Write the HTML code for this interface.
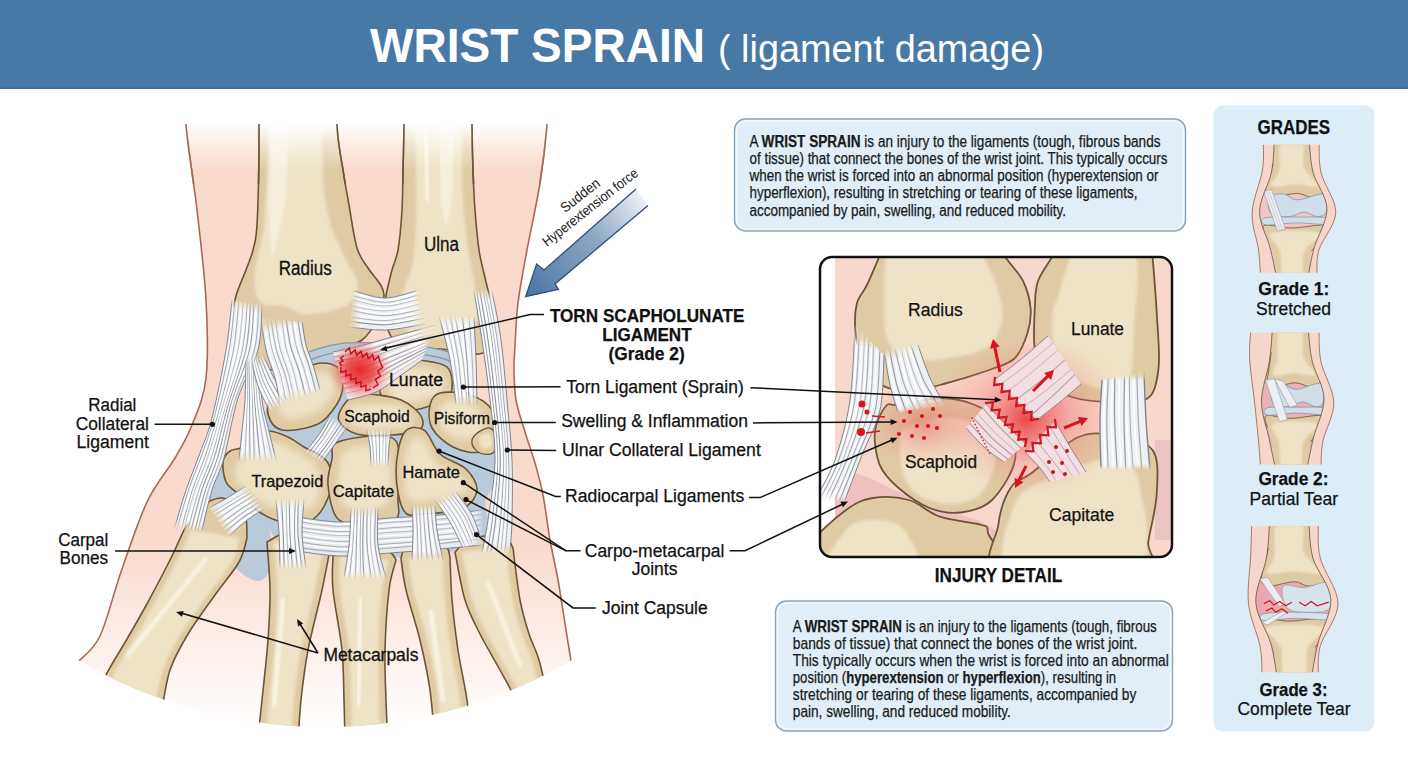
<!DOCTYPE html>
<html><head><meta charset="utf-8"><style>
html,body{margin:0;padding:0;background:#fff;width:1408px;height:768px;overflow:hidden}
svg{display:block;font-family:"Liberation Sans", sans-serif}
</style></head><body>
<svg width="1408" height="768" viewBox="0 0 1408 768">

<defs>
<filter id="blur1" x="-20%" y="-20%" width="140%" height="140%"><feGaussianBlur stdDeviation="1.2"/></filter>
<filter id="blur15" x="-20%" y="-20%" width="140%" height="140%"><feGaussianBlur stdDeviation="1.8"/></filter>
<filter id="blurM" x="-40%" y="-40%" width="180%" height="180%"><feGaussianBlur stdDeviation="3.2"/></filter>
<filter id="blur2" x="-20%" y="-20%" width="140%" height="140%"><feGaussianBlur stdDeviation="3"/></filter>
<filter id="blur6" x="-50%" y="-50%" width="200%" height="200%"><feGaussianBlur stdDeviation="6"/></filter>
<linearGradient id="skinGrad" x1="0" y1="0" x2="0" y2="1" gradientUnits="objectBoundingBox">
<stop offset="0" stop-color="#f9dacd"/><stop offset="0.72" stop-color="#f9dacd"/><stop offset="1" stop-color="#ffffff"/>
</linearGradient>
<linearGradient id="topFade" x1="0" y1="0" x2="0" y2="1">
<stop offset="0" stop-color="#fff" stop-opacity="1"/><stop offset="0.42" stop-color="#fff" stop-opacity="1"/><stop offset="0.47" stop-color="#fff" stop-opacity="0.9"/><stop offset="0.7" stop-color="#fff" stop-opacity="0.45"/><stop offset="1" stop-color="#fff" stop-opacity="0"/>
</linearGradient>
<radialGradient id="redGlow"><stop offset="0" stop-color="#e82a2e" stop-opacity="1"/><stop offset="0.45" stop-color="#ec4040" stop-opacity="0.85"/><stop offset="1" stop-color="#f08080" stop-opacity="0"/></radialGradient>
<linearGradient id="forceGrad" x1="525" y1="297" x2="645" y2="195" gradientUnits="userSpaceOnUse"><stop offset="0" stop-color="#4a74a3"/><stop offset="0.6" stop-color="#8fa9c6"/><stop offset="1" stop-color="#f2f5f8"/></linearGradient>
<clipPath id="arcClip"><path d="M0,89 H704 V768 H0 Z M79,661 A491,491 0 0 0 571,661"/></clipPath>
</defs>

<defs><clipPath id="circClip"><circle cx="325" cy="236" r="491"/></clipPath></defs>
<g clip-path="url(#circClip)"><path d="M184.0,60.0 C184.3,70.8 183.8,100.0 186.0,125.0 C188.2,150.0 193.7,180.8 197.0,210.0 C200.3,239.2 204.5,272.0 206.0,300.0 C207.5,328.0 208.3,357.2 206.0,378.0 C203.7,398.8 197.2,411.7 192.0,425.0 C186.8,438.3 182.5,445.2 175.0,458.0 C167.5,470.8 156.0,483.0 147.0,502.0 C138.0,521.0 128.8,549.7 121.0,572.0 C113.2,594.3 107.0,621.2 100.0,636.0 C93.0,650.8 82.5,656.8 79.0,661.0 A491,491 0 0 0 571,661 L571.0,661.0 C570.2,655.8 568.2,643.5 566.0,630.0 C563.8,616.5 560.7,595.0 558.0,580.0 C555.3,565.0 552.5,554.2 550.0,540.0 C547.5,525.8 545.5,507.8 543.0,495.0 C540.5,482.2 538.0,473.5 535.0,463.0 C532.0,452.5 528.2,442.5 525.0,432.0 C521.8,421.5 517.8,410.3 516.0,400.0 C514.2,389.7 514.2,379.0 514.0,370.0 C513.8,361.0 514.3,357.2 515.0,346.0 C515.7,334.8 516.0,319.0 518.0,303.0 C520.0,287.0 523.3,270.0 527.0,250.0 C530.7,230.0 536.7,203.8 540.0,183.0 C543.3,162.2 545.3,145.5 547.0,125.0 C548.7,104.5 549.5,70.8 550.0,60.0Z" fill="url(#skinGrad)"/>
<path d="M184.0,60.0 C184.3,70.8 183.8,100.0 186.0,125.0 C188.2,150.0 193.7,180.8 197.0,210.0 C200.3,239.2 204.5,272.0 206.0,300.0 C207.5,328.0 208.3,357.2 206.0,378.0 C203.7,398.8 197.2,411.7 192.0,425.0 C186.8,438.3 182.5,445.2 175.0,458.0 C167.5,470.8 156.0,483.0 147.0,502.0 C138.0,521.0 128.8,549.7 121.0,572.0 C113.2,594.3 107.0,621.2 100.0,636.0 C93.0,650.8 82.5,656.8 79.0,661.0" fill="none" stroke="#a86a55" stroke-width="1.6"/>
<path d="M571.0,661.0 C570.2,655.8 568.2,643.5 566.0,630.0 C563.8,616.5 560.7,595.0 558.0,580.0 C555.3,565.0 552.5,554.2 550.0,540.0 C547.5,525.8 545.5,507.8 543.0,495.0 C540.5,482.2 538.0,473.5 535.0,463.0 C532.0,452.5 528.2,442.5 525.0,432.0 C521.8,421.5 517.8,410.3 516.0,400.0 C514.2,389.7 514.2,379.0 514.0,370.0 C513.8,361.0 514.3,357.2 515.0,346.0 C515.7,334.8 516.0,319.0 518.0,303.0 C520.0,287.0 523.3,270.0 527.0,250.0 C530.7,230.0 536.7,203.8 540.0,183.0 C543.3,162.2 545.3,145.5 547.0,125.0 C548.7,104.5 549.5,70.8 550.0,60.0" fill="none" stroke="#a86a55" stroke-width="1.6"/>
<path d="M259.0,40.0 C271.8,21.7 323.0,25.8 336.0,40.0 C349.0,54.2 335.8,103.3 337.0,125.0 C338.2,146.7 341.0,156.7 343.0,170.0 C345.0,183.3 346.7,192.0 349.0,205.0 C351.3,218.0 353.8,237.5 357.0,248.0 C360.2,258.5 364.2,262.0 368.0,268.0 C371.8,274.0 377.3,279.3 380.0,284.0 C382.7,288.7 384.3,290.3 384.0,296.0 C383.7,301.7 381.7,310.7 378.0,318.0 C374.3,325.3 369.0,334.8 362.0,340.0 C355.0,345.2 345.2,346.3 336.0,349.0 C326.8,351.7 315.3,352.8 307.0,356.0 C298.7,359.2 294.2,366.0 286.0,368.0 C277.8,370.0 265.7,370.7 258.0,368.0 C250.3,365.3 244.3,359.7 240.0,352.0 C235.7,344.3 232.7,331.3 232.0,322.0 C231.3,312.7 233.7,304.7 236.0,296.0 C238.3,287.3 243.2,277.7 246.0,270.0 C248.8,262.3 251.2,257.5 253.0,250.0 C254.8,242.5 256.0,241.7 257.0,225.0 C258.0,208.3 258.7,180.8 259.0,150.0 C259.3,119.2 246.2,58.3 259.0,40.0Z" fill="#dfcba3"/><path d="M269.0,40.0 C277.7,21.7 311.2,21.7 320.0,40.0 C328.8,58.3 320.7,120.8 322.0,150.0 C323.3,179.2 324.2,197.0 328.0,215.0 C331.8,233.0 340.0,246.5 345.0,258.0 C350.0,269.5 357.8,276.0 358.0,284.0 C358.2,292.0 354.7,301.0 346.0,306.0 C337.3,311.0 316.2,314.0 306.0,314.0 C295.8,314.0 292.7,308.0 285.0,306.0 C277.3,304.0 265.0,307.7 260.0,302.0 C255.0,296.3 254.3,284.8 255.0,272.0 C255.7,259.2 261.8,245.3 264.0,225.0 C266.2,204.7 267.2,180.8 268.0,150.0 C268.8,119.2 260.3,58.3 269.0,40.0Z" fill="#eee3c6" filter="url(#blur15)"/><path d="M259.0,40.0 C271.8,21.7 323.0,25.8 336.0,40.0 C349.0,54.2 335.8,103.3 337.0,125.0 C338.2,146.7 341.0,156.7 343.0,170.0 C345.0,183.3 346.7,192.0 349.0,205.0 C351.3,218.0 353.8,237.5 357.0,248.0 C360.2,258.5 364.2,262.0 368.0,268.0 C371.8,274.0 377.3,279.3 380.0,284.0 C382.7,288.7 384.3,290.3 384.0,296.0 C383.7,301.7 381.7,310.7 378.0,318.0 C374.3,325.3 369.0,334.8 362.0,340.0 C355.0,345.2 345.2,346.3 336.0,349.0 C326.8,351.7 315.3,352.8 307.0,356.0 C298.7,359.2 294.2,366.0 286.0,368.0 C277.8,370.0 265.7,370.7 258.0,368.0 C250.3,365.3 244.3,359.7 240.0,352.0 C235.7,344.3 232.7,331.3 232.0,322.0 C231.3,312.7 233.7,304.7 236.0,296.0 C238.3,287.3 243.2,277.7 246.0,270.0 C248.8,262.3 251.2,257.5 253.0,250.0 C254.8,242.5 256.0,241.7 257.0,225.0 C258.0,208.3 258.7,180.8 259.0,150.0 C259.3,119.2 246.2,58.3 259.0,40.0Z" fill="none" stroke="#6b5536" stroke-width="1.6"/>
<path d="M276,40 L292,40 L286,200 L272,262 L268,200 Z" fill="#f6f0e0" filter="url(#blur1)" opacity="0.9"/>
<path d="M404.0,40.0 C415.3,25.8 460.7,25.8 472.0,40.0 C483.3,54.2 471.8,103.3 472.0,125.0 C472.2,146.7 472.5,155.8 473.0,170.0 C473.5,184.2 474.0,196.7 475.0,210.0 C476.0,223.3 477.2,238.0 479.0,250.0 C480.8,262.0 483.8,272.0 486.0,282.0 C488.2,292.0 491.5,300.0 492.0,310.0 C492.5,320.0 491.2,334.7 489.0,342.0 C486.8,349.3 487.2,352.8 479.0,354.0 C470.8,355.2 452.2,349.8 440.0,349.0 C427.8,348.2 414.0,350.8 406.0,349.0 C398.0,347.2 395.5,343.2 392.0,338.0 C388.5,332.8 386.0,325.0 385.0,318.0 C384.0,311.0 384.8,304.0 386.0,296.0 C387.2,288.0 390.0,277.7 392.0,270.0 C394.0,262.3 396.3,260.0 398.0,250.0 C399.7,240.0 401.2,223.3 402.0,210.0 C402.8,196.7 402.7,184.2 403.0,170.0 C403.3,155.8 403.8,146.7 404.0,125.0 C404.2,103.3 392.7,54.2 404.0,40.0Z" fill="#dfcba3"/><path d="M416.0,40.0 C423.5,20.0 453.3,20.0 461.0,40.0 C468.7,60.0 461.3,129.2 462.0,160.0 C462.7,190.8 463.0,204.7 465.0,225.0 C467.0,245.3 471.8,267.5 474.0,282.0 C476.2,296.5 479.0,303.5 478.0,312.0 C477.0,320.5 474.3,328.7 468.0,333.0 C461.7,337.3 449.3,337.8 440.0,338.0 C430.7,338.2 418.7,337.7 412.0,334.0 C405.3,330.3 401.3,323.3 400.0,316.0 C398.7,308.7 401.8,299.0 404.0,290.0 C406.2,281.0 411.0,272.8 413.0,262.0 C415.0,251.2 415.5,242.0 416.0,225.0 C416.5,208.0 416.0,190.8 416.0,160.0 C416.0,129.2 408.5,60.0 416.0,40.0Z" fill="#eee3c6" filter="url(#blur15)"/><path d="M404.0,40.0 C415.3,25.8 460.7,25.8 472.0,40.0 C483.3,54.2 471.8,103.3 472.0,125.0 C472.2,146.7 472.5,155.8 473.0,170.0 C473.5,184.2 474.0,196.7 475.0,210.0 C476.0,223.3 477.2,238.0 479.0,250.0 C480.8,262.0 483.8,272.0 486.0,282.0 C488.2,292.0 491.5,300.0 492.0,310.0 C492.5,320.0 491.2,334.7 489.0,342.0 C486.8,349.3 487.2,352.8 479.0,354.0 C470.8,355.2 452.2,349.8 440.0,349.0 C427.8,348.2 414.0,350.8 406.0,349.0 C398.0,347.2 395.5,343.2 392.0,338.0 C388.5,332.8 386.0,325.0 385.0,318.0 C384.0,311.0 384.8,304.0 386.0,296.0 C387.2,288.0 390.0,277.7 392.0,270.0 C394.0,262.3 396.3,260.0 398.0,250.0 C399.7,240.0 401.2,223.3 402.0,210.0 C402.8,196.7 402.7,184.2 403.0,170.0 C403.3,155.8 403.8,146.7 404.0,125.0 C404.2,103.3 392.7,54.2 404.0,40.0Z" fill="none" stroke="#6b5536" stroke-width="1.6"/>
<path d="M440,40 L457,40 L452,200 L446,228 L440,200 Z" fill="#f6f0e0" filter="url(#blur1)" opacity="0.9"/>
<path d="M292.0,364.0 C304.8,354.7 327.0,350.3 345.0,348.0 C363.0,345.7 381.7,348.0 400.0,350.0 C418.3,352.0 443.0,354.3 455.0,360.0 C467.0,365.7 465.2,370.7 472.0,384.0 C478.8,397.3 491.3,424.7 496.0,440.0 C500.7,455.3 501.7,466.0 500.0,476.0 C498.3,486.0 489.0,489.3 486.0,500.0 C483.0,510.7 493.0,530.7 482.0,540.0 C471.0,549.3 443.7,553.3 420.0,556.0 C396.3,558.7 361.3,556.0 340.0,556.0 C318.7,556.0 304.7,562.0 292.0,556.0 C279.3,550.0 270.7,530.7 264.0,520.0 C257.3,509.3 252.3,504.7 252.0,492.0 C251.7,479.3 259.3,458.7 262.0,444.0 C264.7,429.3 263.0,417.3 268.0,404.0 C273.0,390.7 279.2,373.3 292.0,364.0Z" fill="#b9cadb"/>
<path d="M288.0,368.0 C292.0,365.8 302.5,358.5 312.0,355.0 C321.5,351.5 333.7,348.3 345.0,347.0 C356.3,345.7 367.5,346.5 380.0,347.0 C392.5,347.5 408.3,348.3 420.0,350.0 C431.7,351.7 442.7,353.0 450.0,357.0 C457.3,361.0 462.0,367.2 464.0,374.0 C466.0,380.8 462.3,394.0 462.0,398.0" fill="none" stroke="#8796aa" stroke-width="9"/>
<path d="M288.0,368.0 C292.0,365.8 302.5,358.5 312.0,355.0 C321.5,351.5 333.7,348.3 345.0,347.0 C356.3,345.7 367.5,346.5 380.0,347.0 C392.5,347.5 408.3,348.3 420.0,350.0 C431.7,351.7 442.7,353.0 450.0,357.0 C457.3,361.0 462.0,367.2 464.0,374.0 C466.0,380.8 462.3,394.0 462.0,398.0" fill="none" stroke="#b9cadb" stroke-width="6.5"/>
<path d="M262.0,412.0 C268.3,409.0 288.7,416.7 300.0,418.0 C311.3,419.3 322.5,418.3 330.0,420.0 C337.5,421.7 343.3,423.7 345.0,428.0 C346.7,432.3 347.5,444.0 340.0,446.0 C332.5,448.0 313.0,441.7 300.0,440.0 C287.0,438.3 268.3,440.7 262.0,436.0 C255.7,431.3 255.7,415.0 262.0,412.0Z" fill="#b9cadb"/>
<path d="M455.0,440.0 C459.2,436.7 472.5,442.0 480.0,445.0 C487.5,448.0 497.0,452.5 500.0,458.0 C503.0,463.5 501.7,474.7 498.0,478.0 C494.3,481.3 485.2,480.2 478.0,478.0 C470.8,475.8 458.8,471.3 455.0,465.0 C451.2,458.7 450.8,443.3 455.0,440.0Z" fill="#b9cadb"/>
<path d="M208.0,476.0 C211.7,464.3 229.0,466.0 238.0,470.0 C247.0,474.0 256.3,485.8 262.0,500.0 C267.7,514.2 272.0,541.7 272.0,555.0 C272.0,568.3 267.3,577.2 262.0,580.0 C256.7,582.8 247.7,578.7 240.0,572.0 C232.3,565.3 221.3,556.0 216.0,540.0 C210.7,524.0 204.3,487.7 208.0,476.0Z" fill="#b9cadb"/>
<path d="M290.0,512.0 C300.0,505.0 328.3,514.0 350.0,514.0 C371.7,514.0 398.7,513.5 420.0,512.0 C441.3,510.5 467.2,500.3 478.0,505.0 C488.8,509.7 494.7,531.5 485.0,540.0 C475.3,548.5 444.2,553.3 420.0,556.0 C395.8,558.7 361.7,556.0 340.0,556.0 C318.3,556.0 298.3,563.3 290.0,556.0 C281.7,548.7 280.0,519.0 290.0,512.0Z" fill="#b9cadb"/>
<path d="M440.0,420.0 C444.2,413.0 461.7,416.7 470.0,420.0 C478.3,423.3 490.0,431.7 490.0,440.0 C490.0,448.3 477.5,466.3 470.0,470.0 C462.5,473.7 450.0,470.3 445.0,462.0 C440.0,453.7 435.8,427.0 440.0,420.0Z" fill="#b9cadb"/>
<path d="M272.0,390.0 C274.8,384.3 279.5,383.7 285.0,380.0 C290.5,376.3 298.8,370.8 305.0,368.0 C311.2,365.2 316.5,363.0 322.0,363.0 C327.5,363.0 334.5,364.3 338.0,368.0 C341.5,371.7 343.2,379.0 343.0,385.0 C342.8,391.0 341.2,397.5 337.0,404.0 C332.8,410.5 327.2,419.7 318.0,424.0 C308.8,428.3 290.3,431.7 282.0,430.0 C273.7,428.3 269.7,420.7 268.0,414.0 C266.3,407.3 269.2,395.7 272.0,390.0Z" fill="#dfcba3"/><path d="M284.0,392.0 C288.3,387.3 296.7,379.0 304.0,376.0 C311.3,373.0 323.0,371.3 328.0,374.0 C333.0,376.7 336.0,385.7 334.0,392.0 C332.0,398.3 324.0,407.7 316.0,412.0 C308.0,416.3 292.3,419.3 286.0,418.0 C279.7,416.7 278.3,408.3 278.0,404.0 C277.7,399.7 279.7,396.7 284.0,392.0Z" fill="#eee3c6" filter="url(#blur2)"/><path d="M272.0,390.0 C274.8,384.3 279.5,383.7 285.0,380.0 C290.5,376.3 298.8,370.8 305.0,368.0 C311.2,365.2 316.5,363.0 322.0,363.0 C327.5,363.0 334.5,364.3 338.0,368.0 C341.5,371.7 343.2,379.0 343.0,385.0 C342.8,391.0 341.2,397.5 337.0,404.0 C332.8,410.5 327.2,419.7 318.0,424.0 C308.8,428.3 290.3,431.7 282.0,430.0 C273.7,428.3 269.7,420.7 268.0,414.0 C266.3,407.3 269.2,395.7 272.0,390.0Z" fill="none" stroke="#6b5536" stroke-width="1.6"/>
<path d="M384.0,372.0 C387.0,366.3 392.0,360.0 398.0,358.0 C404.0,356.0 411.8,358.5 420.0,360.0 C428.2,361.5 441.7,362.2 447.0,367.0 C452.3,371.8 452.7,383.5 452.0,389.0 C451.3,394.5 449.3,396.5 443.0,400.0 C436.7,403.5 422.8,409.0 414.0,410.0 C405.2,411.0 395.7,409.0 390.0,406.0 C384.3,403.0 381.0,397.7 380.0,392.0 C379.0,386.3 381.0,377.7 384.0,372.0Z" fill="#dfcba3"/><path d="M392.0,372.0 C396.7,367.0 412.0,367.7 420.0,368.0 C428.0,368.3 436.0,370.3 440.0,374.0 C444.0,377.7 448.3,385.3 444.0,390.0 C439.7,394.7 422.7,400.7 414.0,402.0 C405.3,403.3 395.7,403.0 392.0,398.0 C388.3,393.0 387.3,377.0 392.0,372.0Z" fill="#eee3c6" filter="url(#blur2)"/><path d="M384.0,372.0 C387.0,366.3 392.0,360.0 398.0,358.0 C404.0,356.0 411.8,358.5 420.0,360.0 C428.2,361.5 441.7,362.2 447.0,367.0 C452.3,371.8 452.7,383.5 452.0,389.0 C451.3,394.5 449.3,396.5 443.0,400.0 C436.7,403.5 422.8,409.0 414.0,410.0 C405.2,411.0 395.7,409.0 390.0,406.0 C384.3,403.0 381.0,397.7 380.0,392.0 C379.0,386.3 381.0,377.7 384.0,372.0Z" fill="none" stroke="#6b5536" stroke-width="1.6"/>
<path d="M346.0,402.0 C349.8,397.5 352.8,394.3 362.0,394.0 C371.2,393.7 391.0,396.0 401.0,400.0 C411.0,404.0 419.8,412.7 422.0,418.0 C424.2,423.3 424.0,429.2 414.0,432.0 C404.0,434.8 374.5,436.8 362.0,435.0 C349.5,433.2 341.7,426.5 339.0,421.0 C336.3,415.5 342.2,406.5 346.0,402.0Z" fill="#dfcba3"/><path d="M352.0,406.0 C360.3,403.8 388.0,402.7 398.0,405.0 C408.0,407.3 411.3,416.2 412.0,420.0 C412.7,423.8 410.3,426.7 402.0,428.0 C393.7,429.3 371.0,429.7 362.0,428.0 C353.0,426.3 349.7,421.7 348.0,418.0 C346.3,414.3 343.7,408.2 352.0,406.0Z" fill="#eee3c6" filter="url(#blur2)"/><path d="M346.0,402.0 C349.8,397.5 352.8,394.3 362.0,394.0 C371.2,393.7 391.0,396.0 401.0,400.0 C411.0,404.0 419.8,412.7 422.0,418.0 C424.2,423.3 424.0,429.2 414.0,432.0 C404.0,434.8 374.5,436.8 362.0,435.0 C349.5,433.2 341.7,426.5 339.0,421.0 C336.3,415.5 342.2,406.5 346.0,402.0Z" fill="none" stroke="#6b5536" stroke-width="1.6"/>
<path d="M440.0,393.0 C446.7,391.3 461.3,392.2 470.0,395.0 C478.7,397.8 487.7,403.2 492.0,410.0 C496.3,416.8 498.0,429.0 496.0,436.0 C494.0,443.0 487.2,450.2 480.0,452.0 C472.8,453.8 461.0,451.0 453.0,447.0 C445.0,443.0 435.8,435.0 432.0,428.0 C428.2,421.0 428.7,410.8 430.0,405.0 C431.3,399.2 433.3,394.7 440.0,393.0Z" fill="#dfcba3"/><path d="M444.0,402.0 C449.0,398.7 463.3,401.3 470.0,404.0 C476.7,406.7 482.0,412.7 484.0,418.0 C486.0,423.3 486.7,432.7 482.0,436.0 C477.3,439.3 463.0,440.0 456.0,438.0 C449.0,436.0 442.0,430.0 440.0,424.0 C438.0,418.0 439.0,405.3 444.0,402.0Z" fill="#eee3c6" filter="url(#blur2)"/><path d="M440.0,393.0 C446.7,391.3 461.3,392.2 470.0,395.0 C478.7,397.8 487.7,403.2 492.0,410.0 C496.3,416.8 498.0,429.0 496.0,436.0 C494.0,443.0 487.2,450.2 480.0,452.0 C472.8,453.8 461.0,451.0 453.0,447.0 C445.0,443.0 435.8,435.0 432.0,428.0 C428.2,421.0 428.7,410.8 430.0,405.0 C431.3,399.2 433.3,394.7 440.0,393.0Z" fill="none" stroke="#6b5536" stroke-width="1.6"/>
<path d="M476.0,434.0 C479.0,431.3 486.5,427.0 490.0,428.0 C493.5,429.0 496.5,435.8 497.0,440.0 C497.5,444.2 495.8,450.8 493.0,453.0 C490.2,455.2 483.5,454.5 480.0,453.0 C476.5,451.5 472.7,447.2 472.0,444.0 C471.3,440.8 473.0,436.7 476.0,434.0Z" fill="#dfcba3"/><path d="M480.0,436.0 C481.3,433.7 488.0,432.3 490.0,434.0 C492.0,435.7 493.3,443.7 492.0,446.0 C490.7,448.3 484.0,449.7 482.0,448.0 C480.0,446.3 478.7,438.3 480.0,436.0Z" fill="#eee3c6" filter="url(#blur1)"/><path d="M476.0,434.0 C479.0,431.3 486.5,427.0 490.0,428.0 C493.5,429.0 496.5,435.8 497.0,440.0 C497.5,444.2 495.8,450.8 493.0,453.0 C490.2,455.2 483.5,454.5 480.0,453.0 C476.5,451.5 472.7,447.2 472.0,444.0 C471.3,440.8 473.0,436.7 476.0,434.0Z" fill="none" stroke="#6b5536" stroke-width="1.3"/>
<path d="M223.0,462.0 C223.7,456.8 226.5,453.5 230.0,451.0 C233.5,448.5 240.0,449.5 244.0,447.0 C248.0,444.5 249.8,438.7 254.0,436.0 C258.2,433.3 263.3,430.8 269.0,431.0 C274.7,431.2 282.2,434.3 288.0,437.0 C293.8,439.7 299.0,444.2 304.0,447.0 C309.0,449.8 314.0,451.3 318.0,454.0 C322.0,456.7 325.7,458.7 328.0,463.0 C330.3,467.3 332.0,474.2 332.0,480.0 C332.0,485.8 330.5,492.0 328.0,498.0 C325.5,504.0 321.7,511.5 317.0,516.0 C312.3,520.5 305.2,523.8 300.0,525.0 C294.8,526.2 291.3,524.3 286.0,523.0 C280.7,521.7 274.3,520.2 268.0,517.0 C261.7,513.8 253.3,508.2 248.0,504.0 C242.7,499.8 239.7,495.7 236.0,492.0 C232.3,488.3 228.2,487.0 226.0,482.0 C223.8,477.0 222.3,467.2 223.0,462.0Z" fill="#dfcba3"/><path d="M236.0,466.0 C239.3,461.0 250.0,452.0 256.0,448.0 C262.0,444.0 264.3,440.8 272.0,442.0 C279.7,443.2 294.3,450.3 302.0,455.0 C309.7,459.7 315.3,462.5 318.0,470.0 C320.7,477.5 321.0,493.0 318.0,500.0 C315.0,507.0 308.0,511.0 300.0,512.0 C292.0,513.0 279.0,509.7 270.0,506.0 C261.0,502.3 251.7,494.7 246.0,490.0 C240.3,485.3 237.7,482.0 236.0,478.0 C234.3,474.0 232.7,471.0 236.0,466.0Z" fill="#eee3c6" filter="url(#blur2)"/><path d="M223.0,462.0 C223.7,456.8 226.5,453.5 230.0,451.0 C233.5,448.5 240.0,449.5 244.0,447.0 C248.0,444.5 249.8,438.7 254.0,436.0 C258.2,433.3 263.3,430.8 269.0,431.0 C274.7,431.2 282.2,434.3 288.0,437.0 C293.8,439.7 299.0,444.2 304.0,447.0 C309.0,449.8 314.0,451.3 318.0,454.0 C322.0,456.7 325.7,458.7 328.0,463.0 C330.3,467.3 332.0,474.2 332.0,480.0 C332.0,485.8 330.5,492.0 328.0,498.0 C325.5,504.0 321.7,511.5 317.0,516.0 C312.3,520.5 305.2,523.8 300.0,525.0 C294.8,526.2 291.3,524.3 286.0,523.0 C280.7,521.7 274.3,520.2 268.0,517.0 C261.7,513.8 253.3,508.2 248.0,504.0 C242.7,499.8 239.7,495.7 236.0,492.0 C232.3,488.3 228.2,487.0 226.0,482.0 C223.8,477.0 222.3,467.2 223.0,462.0Z" fill="none" stroke="#6b5536" stroke-width="1.6"/>
<path d="M336.0,443.0 C342.7,439.2 362.0,436.3 372.0,436.0 C382.0,435.7 391.5,435.3 396.0,441.0 C400.5,446.7 398.7,460.5 399.0,470.0 C399.3,479.5 398.5,489.8 398.0,498.0 C397.5,506.2 401.2,514.7 396.0,519.0 C390.8,523.3 376.7,524.0 367.0,524.0 C357.3,524.0 344.5,525.5 338.0,519.0 C331.5,512.5 329.0,495.0 328.0,485.0 C327.0,475.0 330.7,466.0 332.0,459.0 C333.3,452.0 329.3,446.8 336.0,443.0Z" fill="#dfcba3"/><path d="M344.0,452.0 C349.7,446.3 364.7,446.0 372.0,446.0 C379.3,446.0 385.0,443.3 388.0,452.0 C391.0,460.7 393.7,488.0 390.0,498.0 C386.3,508.0 373.7,510.8 366.0,512.0 C358.3,513.2 348.7,510.3 344.0,505.0 C339.3,499.7 338.0,488.8 338.0,480.0 C338.0,471.2 338.3,457.7 344.0,452.0Z" fill="#eee3c6" filter="url(#blur2)"/><path d="M336.0,443.0 C342.7,439.2 362.0,436.3 372.0,436.0 C382.0,435.7 391.5,435.3 396.0,441.0 C400.5,446.7 398.7,460.5 399.0,470.0 C399.3,479.5 398.5,489.8 398.0,498.0 C397.5,506.2 401.2,514.7 396.0,519.0 C390.8,523.3 376.7,524.0 367.0,524.0 C357.3,524.0 344.5,525.5 338.0,519.0 C331.5,512.5 329.0,495.0 328.0,485.0 C327.0,475.0 330.7,466.0 332.0,459.0 C333.3,452.0 329.3,446.8 336.0,443.0Z" fill="none" stroke="#6b5536" stroke-width="1.6"/>
<path d="M404.0,433.0 C408.7,426.0 418.0,426.5 424.0,430.0 C430.0,433.5 433.0,447.5 440.0,454.0 C447.0,460.5 459.8,463.0 466.0,469.0 C472.2,475.0 477.5,483.5 477.0,490.0 C476.5,496.5 471.8,504.0 463.0,508.0 C454.2,512.0 433.8,513.5 424.0,514.0 C414.2,514.5 408.7,518.0 404.0,511.0 C399.3,504.0 396.0,485.0 396.0,472.0 C396.0,459.0 399.3,440.0 404.0,433.0Z" fill="#dfcba3"/><path d="M410.0,442.0 C413.3,436.7 419.7,436.7 424.0,440.0 C428.3,443.3 430.0,456.0 436.0,462.0 C442.0,468.0 455.0,471.0 460.0,476.0 C465.0,481.0 472.0,487.7 466.0,492.0 C460.0,496.3 433.7,501.0 424.0,502.0 C414.3,503.0 411.3,503.0 408.0,498.0 C404.7,493.0 403.7,481.3 404.0,472.0 C404.3,462.7 406.7,447.3 410.0,442.0Z" fill="#eee3c6" filter="url(#blur2)"/><path d="M404.0,433.0 C408.7,426.0 418.0,426.5 424.0,430.0 C430.0,433.5 433.0,447.5 440.0,454.0 C447.0,460.5 459.8,463.0 466.0,469.0 C472.2,475.0 477.5,483.5 477.0,490.0 C476.5,496.5 471.8,504.0 463.0,508.0 C454.2,512.0 433.8,513.5 424.0,514.0 C414.2,514.5 408.7,518.0 404.0,511.0 C399.3,504.0 396.0,485.0 396.0,472.0 C396.0,459.0 399.3,440.0 404.0,433.0Z" fill="none" stroke="#6b5536" stroke-width="1.6"/>
<path d="M184.0,530.0 C186.7,526.3 193.7,513.3 200.0,508.0 C206.3,502.7 214.7,497.3 222.0,498.0 C229.3,498.7 239.8,505.3 244.0,512.0 C248.2,518.7 246.5,533.7 247.0,538.0 L247.0,538.0 C245.7,542.0 244.3,552.5 239.0,562.0 C233.7,571.5 223.5,583.0 215.0,595.0 C206.5,607.0 195.5,621.5 188.0,634.0 C180.5,646.5 174.3,657.3 170.0,670.0 C165.7,682.7 163.3,703.3 162.0,710.0 L92.0,705.0 C94.5,699.7 101.2,684.0 107.0,673.0 C112.8,662.0 120.2,650.8 127.0,639.0 C133.8,627.2 140.7,615.5 148.0,602.0 C155.3,588.5 165.0,570.0 171.0,558.0 C177.0,546.0 181.8,534.7 184.0,530.0Z" fill="#dfcba3"/><path d="M191.0,530.0 C188.8,534.7 184.0,546.0 178.0,558.0 C172.0,570.0 162.3,588.5 155.0,602.0 C147.7,615.5 140.8,627.2 134.0,639.0 C127.2,650.8 119.8,662.0 114.0,673.0 C108.2,684.0 101.5,699.7 99.0,705.0 L155.0,710.0 C156.3,703.3 158.7,682.7 163.0,670.0 C167.3,657.3 173.5,646.5 181.0,634.0 C188.5,621.5 199.5,607.0 208.0,595.0 C216.5,583.0 226.7,571.5 232.0,562.0 C237.3,552.5 238.7,542.0 240.0,538.0Z" fill="#eee3c6" filter="url(#blur15)"/><path d="M184.0,530.0 C186.7,526.3 193.7,513.3 200.0,508.0 C206.3,502.7 214.7,497.3 222.0,498.0 C229.3,498.7 239.8,505.3 244.0,512.0 C248.2,518.7 246.5,533.7 247.0,538.0 L247.0,538.0 C245.7,542.0 244.3,552.5 239.0,562.0 C233.7,571.5 223.5,583.0 215.0,595.0 C206.5,607.0 195.5,621.5 188.0,634.0 C180.5,646.5 174.3,657.3 170.0,670.0 C165.7,682.7 163.3,703.3 162.0,710.0 L92.0,705.0 C94.5,699.7 101.2,684.0 107.0,673.0 C112.8,662.0 120.2,650.8 127.0,639.0 C133.8,627.2 140.7,615.5 148.0,602.0 C155.3,588.5 165.0,570.0 171.0,558.0 C177.0,546.0 181.8,534.7 184.0,530.0Z" fill="none" stroke="#6b5536" stroke-width="1.6"/>
<path d="M267.0,542.0 C269.5,540.7 276.5,535.7 282.0,534.0 C287.5,532.3 294.0,531.7 300.0,532.0 C306.0,532.3 312.8,534.0 318.0,536.0 C323.2,538.0 328.8,542.7 331.0,544.0 L331.0,544.0 C329.5,551.7 325.8,572.3 322.0,590.0 C318.2,607.7 311.5,631.7 308.0,650.0 C304.5,668.3 302.7,684.2 301.0,700.0 C299.3,715.8 298.5,737.5 298.0,745.0 L257.0,745.0 C257.8,737.5 260.2,717.5 262.0,700.0 C263.8,682.5 266.7,658.3 268.0,640.0 C269.3,621.7 270.2,606.3 270.0,590.0 C269.8,573.7 267.5,550.0 267.0,542.0Z" fill="#dfcba3"/><path d="M274.0,542.0 C274.5,550.0 276.8,573.7 277.0,590.0 C277.2,606.3 276.3,621.7 275.0,640.0 C273.7,658.3 270.8,682.5 269.0,700.0 C267.2,717.5 264.8,737.5 264.0,745.0 L291.0,745.0 C291.5,737.5 292.3,715.8 294.0,700.0 C295.7,684.2 297.5,668.3 301.0,650.0 C304.5,631.7 311.2,607.7 315.0,590.0 C318.8,572.3 322.5,551.7 324.0,544.0Z" fill="#eee3c6" filter="url(#blur15)"/><path d="M267.0,542.0 C269.5,540.7 276.5,535.7 282.0,534.0 C287.5,532.3 294.0,531.7 300.0,532.0 C306.0,532.3 312.8,534.0 318.0,536.0 C323.2,538.0 328.8,542.7 331.0,544.0 L331.0,544.0 C329.5,551.7 325.8,572.3 322.0,590.0 C318.2,607.7 311.5,631.7 308.0,650.0 C304.5,668.3 302.7,684.2 301.0,700.0 C299.3,715.8 298.5,737.5 298.0,745.0 L257.0,745.0 C257.8,737.5 260.2,717.5 262.0,700.0 C263.8,682.5 266.7,658.3 268.0,640.0 C269.3,621.7 270.2,606.3 270.0,590.0 C269.8,573.7 267.5,550.0 267.0,542.0Z" fill="none" stroke="#6b5536" stroke-width="1.6"/>
<path d="M333.0,556.0 C335.8,554.5 343.5,548.8 350.0,547.0 C356.5,545.2 365.3,544.2 372.0,545.0 C378.7,545.8 386.0,549.5 390.0,552.0 C394.0,554.5 395.0,558.7 396.0,560.0 L396.0,560.0 C394.8,565.0 390.8,575.0 389.0,590.0 C387.2,605.0 385.5,631.7 385.0,650.0 C384.5,668.3 385.5,684.2 386.0,700.0 C386.5,715.8 387.7,737.5 388.0,745.0 L345.0,745.0 C344.8,737.5 344.5,715.8 344.0,700.0 C343.5,684.2 343.8,668.3 342.0,650.0 C340.2,631.7 334.5,605.7 333.0,590.0 C331.5,574.3 333.0,561.7 333.0,556.0Z" fill="#dfcba3"/><path d="M340.0,556.0 C340.0,561.7 338.5,574.3 340.0,590.0 C341.5,605.7 347.2,631.7 349.0,650.0 C350.8,668.3 350.5,684.2 351.0,700.0 C351.5,715.8 351.8,737.5 352.0,745.0 L381.0,745.0 C380.7,737.5 379.5,715.8 379.0,700.0 C378.5,684.2 377.5,668.3 378.0,650.0 C378.5,631.7 380.2,605.0 382.0,590.0 C383.8,575.0 387.8,565.0 389.0,560.0Z" fill="#eee3c6" filter="url(#blur15)"/><path d="M333.0,556.0 C335.8,554.5 343.5,548.8 350.0,547.0 C356.5,545.2 365.3,544.2 372.0,545.0 C378.7,545.8 386.0,549.5 390.0,552.0 C394.0,554.5 395.0,558.7 396.0,560.0 L396.0,560.0 C394.8,565.0 390.8,575.0 389.0,590.0 C387.2,605.0 385.5,631.7 385.0,650.0 C384.5,668.3 385.5,684.2 386.0,700.0 C386.5,715.8 387.7,737.5 388.0,745.0 L345.0,745.0 C344.8,737.5 344.5,715.8 344.0,700.0 C343.5,684.2 343.8,668.3 342.0,650.0 C340.2,631.7 334.5,605.7 333.0,590.0 C331.5,574.3 333.0,561.7 333.0,556.0Z" fill="none" stroke="#6b5536" stroke-width="1.6"/>
<path d="M401.0,558.0 C401.8,556.2 402.0,549.8 406.0,547.0 C410.0,544.2 418.3,541.0 425.0,541.0 C431.7,541.0 441.8,544.2 446.0,547.0 C450.2,549.8 449.3,556.2 450.0,558.0 L450.0,558.0 C450.3,565.0 450.7,584.7 452.0,600.0 C453.3,615.3 455.5,633.3 458.0,650.0 C460.5,666.7 464.7,684.2 467.0,700.0 C469.3,715.8 471.2,737.5 472.0,745.0 L435.0,745.0 C434.2,735.8 432.5,707.5 430.0,690.0 C427.5,672.5 424.0,656.7 420.0,640.0 C416.0,623.3 409.2,603.7 406.0,590.0 C402.8,576.3 401.8,563.3 401.0,558.0Z" fill="#dfcba3"/><path d="M408.0,558.0 C408.8,563.3 409.8,576.3 413.0,590.0 C416.2,603.7 423.0,623.3 427.0,640.0 C431.0,656.7 434.5,672.5 437.0,690.0 C439.5,707.5 441.2,735.8 442.0,745.0 L465.0,745.0 C464.2,737.5 462.3,715.8 460.0,700.0 C457.7,684.2 453.5,666.7 451.0,650.0 C448.5,633.3 446.3,615.3 445.0,600.0 C443.7,584.7 443.3,565.0 443.0,558.0Z" fill="#eee3c6" filter="url(#blur15)"/><path d="M401.0,558.0 C401.8,556.2 402.0,549.8 406.0,547.0 C410.0,544.2 418.3,541.0 425.0,541.0 C431.7,541.0 441.8,544.2 446.0,547.0 C450.2,549.8 449.3,556.2 450.0,558.0 L450.0,558.0 C450.3,565.0 450.7,584.7 452.0,600.0 C453.3,615.3 455.5,633.3 458.0,650.0 C460.5,666.7 464.7,684.2 467.0,700.0 C469.3,715.8 471.2,737.5 472.0,745.0 L435.0,745.0 C434.2,735.8 432.5,707.5 430.0,690.0 C427.5,672.5 424.0,656.7 420.0,640.0 C416.0,623.3 409.2,603.7 406.0,590.0 C402.8,576.3 401.8,563.3 401.0,558.0Z" fill="none" stroke="#6b5536" stroke-width="1.6"/>
<path d="M455.0,552.0 C457.2,550.0 462.2,542.7 468.0,540.0 C473.8,537.3 483.3,535.8 490.0,536.0 C496.7,536.2 504.2,539.0 508.0,541.0 C511.8,543.0 512.2,546.8 513.0,548.0 L513.0,548.0 C514.2,556.7 517.3,585.7 520.0,600.0 C522.7,614.3 525.8,624.0 529.0,634.0 C532.2,644.0 535.8,649.0 539.0,660.0 C542.2,671.0 545.2,685.8 548.0,700.0 C550.8,714.2 554.7,737.5 556.0,745.0 L525.0,745.0 C523.3,737.5 519.2,712.5 515.0,700.0 C510.8,687.5 505.8,681.0 500.0,670.0 C494.2,659.0 485.8,645.7 480.0,634.0 C474.2,622.3 469.2,613.7 465.0,600.0 C460.8,586.3 456.7,560.0 455.0,552.0Z" fill="#dfcba3"/><path d="M462.0,552.0 C463.7,560.0 467.8,586.3 472.0,600.0 C476.2,613.7 481.2,622.3 487.0,634.0 C492.8,645.7 501.2,659.0 507.0,670.0 C512.8,681.0 517.8,687.5 522.0,700.0 C526.2,712.5 530.3,737.5 532.0,745.0 L549.0,745.0 C547.7,737.5 543.8,714.2 541.0,700.0 C538.2,685.8 535.2,671.0 532.0,660.0 C528.8,649.0 525.2,644.0 522.0,634.0 C518.8,624.0 515.7,614.3 513.0,600.0 C510.3,585.7 507.2,556.7 506.0,548.0Z" fill="#eee3c6" filter="url(#blur15)"/><path d="M455.0,552.0 C457.2,550.0 462.2,542.7 468.0,540.0 C473.8,537.3 483.3,535.8 490.0,536.0 C496.7,536.2 504.2,539.0 508.0,541.0 C511.8,543.0 512.2,546.8 513.0,548.0 L513.0,548.0 C514.2,556.7 517.3,585.7 520.0,600.0 C522.7,614.3 525.8,624.0 529.0,634.0 C532.2,644.0 535.8,649.0 539.0,660.0 C542.2,671.0 545.2,685.8 548.0,700.0 C550.8,714.2 554.7,737.5 556.0,745.0 L525.0,745.0 C523.3,737.5 519.2,712.5 515.0,700.0 C510.8,687.5 505.8,681.0 500.0,670.0 C494.2,659.0 485.8,645.7 480.0,634.0 C474.2,622.3 469.2,613.7 465.0,600.0 C460.8,586.3 456.7,560.0 455.0,552.0Z" fill="none" stroke="#6b5536" stroke-width="1.6"/>
<path d="M205,560 L128,655" stroke="#f8f3e6" stroke-width="5" stroke-linecap="round" filter="url(#blur1)" opacity="0.9"/>
<path d="M283,600 L274,705" stroke="#f8f3e6" stroke-width="5" stroke-linecap="round" filter="url(#blur1)" opacity="0.9"/>
<path d="M361,600 L358,705" stroke="#f8f3e6" stroke-width="5" stroke-linecap="round" filter="url(#blur1)" opacity="0.9"/>
<path d="M431,612 L443,700" stroke="#f8f3e6" stroke-width="5" stroke-linecap="round" filter="url(#blur1)" opacity="0.9"/>
<path d="M488,583 L520,665" stroke="#f8f3e6" stroke-width="5" stroke-linecap="round" filter="url(#blur1)" opacity="0.9"/>
<path d="M425,110 L428,200" stroke="#f8f3e6" stroke-width="5" stroke-linecap="round" filter="url(#blur1)" opacity="0.9"/>
<defs><linearGradient id="ligm1g" gradientUnits="userSpaceOnUse" x1="290.0" y1="533.0" x2="482.0" y2="527.5"><stop offset="0" stop-color="#fff" stop-opacity="0.25"/><stop offset="0.047" stop-color="#fff" stop-opacity="1"/><stop offset="0.953" stop-color="#fff" stop-opacity="1"/><stop offset="1" stop-color="#fff" stop-opacity="0.25"/></linearGradient><mask id="ligm1" maskUnits="userSpaceOnUse" x="0" y="0" width="1408" height="768"><rect x="0" y="0" width="1408" height="768" fill="url(#ligm1g)"/></mask></defs><g opacity="1" mask="url(#ligm1)"><path d="M290.0,516.0 C298.3,517.0 323.3,521.7 340.0,522.0 C356.7,522.3 373.3,519.2 390.0,518.0 C406.7,516.8 424.7,516.3 440.0,515.0 C455.3,513.7 475.0,510.8 482.0,510.0 L482.0,545.0 C475.0,545.7 455.3,547.7 440.0,549.0 C424.7,550.3 406.7,551.8 390.0,553.0 C373.3,554.2 356.7,556.5 340.0,556.0 C323.3,555.5 298.3,551.0 290.0,550.0Z" fill="#e6e9ee"/><path d="M290.0,518.4 C298.3,519.4 323.3,524.1 340.0,524.4 C356.7,524.8 373.3,521.7 390.0,520.5 C406.7,519.3 424.7,518.8 440.0,517.4 C455.3,516.1 475.0,513.3 482.0,512.5" fill="none" stroke="#ffffff" stroke-width="1.6" opacity="0.9"/><path d="M290.0,520.4 C298.3,521.4 323.3,525.9 340.0,526.3 C356.7,526.6 373.3,523.5 390.0,522.3 C406.7,521.1 424.7,520.4 440.0,519.0 C455.3,517.7 475.0,514.9 482.0,514.0" fill="none" stroke="#9096a0" stroke-width="1.06" opacity="0.63" stroke-linecap="round"/><path d="M290.0,523.3 C298.3,524.3 323.3,528.9 340.0,529.3 C356.7,529.7 373.3,526.7 390.0,525.5 C406.7,524.3 424.7,523.6 440.0,522.3 C455.3,521.0 475.0,518.3 482.0,517.5" fill="none" stroke="#ffffff" stroke-width="1.6" opacity="0.9"/><path d="M290.0,525.8 C298.3,526.8 323.3,531.4 340.0,531.7 C356.7,532.0 373.3,529.1 390.0,527.9 C406.7,526.7 424.7,525.8 440.0,524.5 C455.3,523.1 475.0,520.4 482.0,519.6" fill="none" stroke="#9096a0" stroke-width="0.81" opacity="0.80" stroke-linecap="round"/><path d="M290.0,528.1 C298.3,529.1 323.3,533.8 340.0,534.1 C356.7,534.5 373.3,531.7 390.0,530.5 C406.7,529.3 424.7,528.5 440.0,527.1 C455.3,525.8 475.0,523.3 482.0,522.5" fill="none" stroke="#ffffff" stroke-width="1.6" opacity="0.9"/><path d="M290.0,529.3 C298.3,530.4 323.3,535.1 340.0,535.6 C356.7,536.1 373.3,533.3 390.0,532.3 C406.7,531.2 424.7,530.4 440.0,529.1 C455.3,527.9 475.0,525.5 482.0,524.8" fill="none" stroke="#9096a0" stroke-width="0.82" opacity="0.64" stroke-linecap="round"/><path d="M290.0,533.0 C298.3,534.0 323.3,538.6 340.0,539.0 C356.7,539.4 373.3,536.7 390.0,535.5 C406.7,534.3 424.7,533.3 440.0,532.0 C455.3,530.7 475.0,528.2 482.0,527.5" fill="none" stroke="#ffffff" stroke-width="1.6" opacity="0.9"/><path d="M290.0,535.2 C298.3,536.3 323.3,541.0 340.0,541.5 C356.7,542.0 373.3,539.4 390.0,538.4 C406.7,537.3 424.7,536.3 440.0,535.0 C455.3,533.8 475.0,531.6 482.0,530.9" fill="none" stroke="#9096a0" stroke-width="0.84" opacity="0.69" stroke-linecap="round"/><path d="M290.0,537.9 C298.3,538.9 323.3,543.4 340.0,543.9 C356.7,544.3 373.3,541.7 390.0,540.5 C406.7,539.3 424.7,538.2 440.0,536.9 C455.3,535.5 475.0,533.2 482.0,532.5" fill="none" stroke="#ffffff" stroke-width="1.6" opacity="0.9"/><path d="M290.0,540.6 C298.3,541.7 323.3,546.3 340.0,546.9 C356.7,547.4 373.3,544.9 390.0,543.8 C406.7,542.7 424.7,541.5 440.0,540.3 C455.3,539.0 475.0,536.9 482.0,536.3" fill="none" stroke="#9096a0" stroke-width="1.03" opacity="0.76" stroke-linecap="round"/><path d="M290.0,542.7 C298.3,543.7 323.3,548.2 340.0,548.7 C356.7,549.2 373.3,546.7 390.0,545.5 C406.7,544.3 424.7,543.0 440.0,541.7 C455.3,540.4 475.0,538.2 482.0,537.5" fill="none" stroke="#ffffff" stroke-width="1.6" opacity="0.9"/><path d="M290.0,546.4 C298.3,547.3 323.3,551.5 340.0,551.8 C356.7,552.1 373.3,549.4 390.0,548.0 C406.7,546.7 424.7,545.1 440.0,543.5 C455.3,542.0 475.0,539.5 482.0,538.7" fill="none" stroke="#9096a0" stroke-width="1.15" opacity="0.72" stroke-linecap="round"/><path d="M290.0,516.0 C298.3,517.0 323.3,521.7 340.0,522.0 C356.7,522.3 373.3,519.2 390.0,518.0 C406.7,516.8 424.7,516.3 440.0,515.0 C455.3,513.7 475.0,510.8 482.0,510.0" fill="none" stroke="#7e848d" stroke-width="1.0"/><path d="M290.0,550.0 C298.3,551.0 323.3,555.5 340.0,556.0 C356.7,556.5 373.3,554.2 390.0,553.0 C406.7,551.8 424.7,550.3 440.0,549.0 C455.3,547.7 475.0,545.7 482.0,545.0" fill="none" stroke="#7e848d" stroke-width="1.0"/></g>
<defs><linearGradient id="ligm2g" gradientUnits="userSpaceOnUse" x1="247.0" y1="302.5" x2="188.0" y2="530.0"><stop offset="0" stop-color="#fff" stop-opacity="0.25"/><stop offset="0.038" stop-color="#fff" stop-opacity="1"/><stop offset="0.962" stop-color="#fff" stop-opacity="1"/><stop offset="1" stop-color="#fff" stop-opacity="0.25"/></linearGradient><mask id="ligm2" maskUnits="userSpaceOnUse" x="0" y="0" width="1408" height="768"><rect x="0" y="0" width="1408" height="768" fill="url(#ligm2g)"/></mask></defs><g opacity="1" mask="url(#ligm2)"><path d="M232.0,300.0 C231.0,308.3 229.3,330.3 226.0,350.0 C222.7,369.7 216.3,400.8 212.0,418.0 C207.7,435.2 204.3,441.0 200.0,453.0 C195.7,465.0 190.3,477.2 186.0,490.0 C181.7,502.8 176.0,523.3 174.0,530.0 L202.0,530.0 C203.7,523.3 208.3,502.0 212.0,490.0 C215.7,478.0 219.7,473.3 224.0,458.0 C228.3,442.7 232.3,416.0 238.0,398.0 C243.7,380.0 254.0,365.5 258.0,350.0 C262.0,334.5 261.3,312.5 262.0,305.0Z" fill="#eef0f3"/><path d="M233.9,300.3 C232.9,308.6 231.4,330.6 228.0,350.0 C224.6,369.4 218.0,399.5 213.6,416.8 C209.2,434.0 205.8,441.1 201.5,453.3 C197.2,465.5 191.9,477.2 187.6,490.0 C183.3,502.8 177.7,523.3 175.8,530.0" fill="none" stroke="#ffffff" stroke-width="1.6" opacity="0.9"/><path d="M234.9,300.5 C233.9,308.7 232.5,330.7 229.1,350.0 C225.7,369.3 219.0,398.8 214.5,416.1 C210.0,433.3 206.6,441.2 202.3,453.5 C197.9,465.8 192.7,477.2 188.5,490.0 C184.2,502.8 178.6,523.3 176.6,530.0" fill="none" stroke="#9096a0" stroke-width="0.92" opacity="0.93" stroke-linecap="round"/><path d="M237.6,300.9 C236.7,309.1 235.5,331.1 232.0,350.0 C228.5,368.9 221.5,396.9 216.9,414.2 C212.3,431.6 208.8,441.3 204.5,453.9 C200.2,466.6 195.1,477.3 190.9,490.0 C186.7,502.7 181.2,523.3 179.2,530.0" fill="none" stroke="#ffffff" stroke-width="1.6" opacity="0.9"/><path d="M238.7,301.1 C237.8,309.3 236.8,331.3 233.4,350.0 C230.0,368.7 222.8,395.9 218.2,413.3 C213.6,430.6 210.1,441.4 205.8,454.2 C201.6,467.0 196.6,477.4 192.5,490.0 C188.4,502.6 183.1,523.3 181.2,530.0" fill="none" stroke="#9096a0" stroke-width="1.06" opacity="0.75" stroke-linecap="round"/><path d="M241.4,301.6 C240.5,309.6 239.5,331.6 236.0,350.0 C232.5,368.4 224.9,394.3 220.1,411.8 C215.4,429.2 211.8,441.5 207.5,454.6 C203.2,467.6 198.2,477.4 194.1,490.0 C190.0,502.6 184.6,523.3 182.8,530.0" fill="none" stroke="#ffffff" stroke-width="1.6" opacity="0.9"/><path d="M243.4,301.9 C242.4,309.9 241.5,331.9 237.9,350.0 C234.2,368.1 226.3,393.3 221.4,410.7 C216.6,428.2 212.9,441.6 208.5,454.8 C204.1,468.0 199.2,477.5 195.0,490.0 C190.9,502.5 185.4,523.3 183.5,530.0" fill="none" stroke="#9096a0" stroke-width="0.81" opacity="0.68" stroke-linecap="round"/><path d="M245.1,302.2 C244.3,310.2 243.6,332.2 240.0,350.0 C236.4,367.8 228.3,391.7 223.4,409.2 C218.5,426.8 214.8,441.7 210.5,455.2 C206.2,468.6 201.4,477.5 197.4,490.0 C193.3,502.5 188.1,523.3 186.2,530.0" fill="none" stroke="#ffffff" stroke-width="1.6" opacity="0.9"/><path d="M247.4,302.6 C246.6,310.5 246.0,332.4 242.3,350.0 C238.6,367.6 230.2,390.3 225.2,407.9 C220.1,425.5 216.4,441.8 212.1,455.5 C207.7,469.2 203.0,477.6 199.0,490.0 C194.9,502.4 189.7,523.3 187.8,530.0" fill="none" stroke="#9096a0" stroke-width="0.92" opacity="0.83" stroke-linecap="round"/><path d="M248.9,302.8 C248.1,310.7 247.7,332.7 244.0,350.0 C240.3,367.3 231.7,389.1 226.6,406.8 C221.5,424.4 217.8,441.9 213.5,455.8 C209.2,469.7 204.6,477.6 200.6,490.0 C196.7,502.4 191.6,523.3 189.8,530.0" fill="none" stroke="#ffffff" stroke-width="1.6" opacity="0.9"/><path d="M250.6,303.1 C249.8,310.9 249.6,332.9 245.8,350.0 C242.0,367.1 233.2,388.0 228.0,405.7 C222.8,423.4 219.1,442.0 214.7,456.1 C210.4,470.1 205.8,477.7 201.9,490.0 C198.0,502.3 192.9,523.3 191.1,530.0" fill="none" stroke="#9096a0" stroke-width="1.12" opacity="0.88" stroke-linecap="round"/><path d="M252.6,303.4 C251.9,311.2 251.8,333.2 248.0,350.0 C244.2,366.8 235.1,386.5 229.9,404.2 C224.6,422.0 220.8,442.1 216.5,456.4 C212.2,470.7 207.8,477.7 203.9,490.0 C200.0,502.3 195.0,523.3 193.2,530.0" fill="none" stroke="#ffffff" stroke-width="1.6" opacity="0.9"/><path d="M253.9,303.6 C253.2,311.4 253.3,333.4 249.5,350.0 C245.7,366.6 236.5,385.4 231.2,403.2 C226.0,421.0 222.2,442.3 217.9,456.7 C213.6,471.2 209.3,477.8 205.5,490.0 C201.7,502.2 196.9,523.3 195.2,530.0" fill="none" stroke="#9096a0" stroke-width="1.01" opacity="0.95" stroke-linecap="round"/><path d="M256.4,304.1 C255.6,311.7 255.9,333.7 252.0,350.0 C248.1,366.3 238.5,383.9 233.1,401.8 C227.7,419.6 223.8,442.4 219.5,457.1 C215.2,471.8 210.9,477.8 207.1,490.0 C203.3,502.2 198.5,523.3 196.8,530.0" fill="none" stroke="#ffffff" stroke-width="1.6" opacity="0.9"/><path d="M258.8,304.5 C258.1,312.1 258.4,334.0 254.4,350.0 C250.4,366.0 240.4,382.5 234.9,400.4 C229.3,418.3 225.3,442.4 220.9,457.4 C216.5,472.3 212.3,477.9 208.5,490.0 C204.7,502.1 199.8,523.3 198.0,530.0" fill="none" stroke="#9096a0" stroke-width="1.20" opacity="0.65" stroke-linecap="round"/><path d="M232.0,300.0 C231.0,308.3 229.3,330.3 226.0,350.0 C222.7,369.7 216.3,400.8 212.0,418.0 C207.7,435.2 204.3,441.0 200.0,453.0 C195.7,465.0 190.3,477.2 186.0,490.0 C181.7,502.8 176.0,523.3 174.0,530.0" fill="none" stroke="#7e848d" stroke-width="1.0"/><path d="M262.0,305.0 C261.3,312.5 262.0,334.5 258.0,350.0 C254.0,365.5 243.7,380.0 238.0,398.0 C232.3,416.0 228.3,442.7 224.0,458.0 C219.7,473.3 215.7,478.0 212.0,490.0 C208.3,502.0 203.7,523.3 202.0,530.0" fill="none" stroke="#7e848d" stroke-width="1.0"/></g>
<defs><linearGradient id="ligm3g" gradientUnits="userSpaceOnUse" x1="252.0" y1="356.0" x2="257.5" y2="460.0"><stop offset="0" stop-color="#fff" stop-opacity="0.25"/><stop offset="0.086" stop-color="#fff" stop-opacity="1"/><stop offset="0.914" stop-color="#fff" stop-opacity="1"/><stop offset="1" stop-color="#fff" stop-opacity="0.25"/></linearGradient><mask id="ligm3" maskUnits="userSpaceOnUse" x="0" y="0" width="1408" height="768"><rect x="0" y="0" width="1408" height="768" fill="url(#ligm3g)"/></mask></defs><g opacity="1" mask="url(#ligm3)"><path d="M246.0,360.0 C245.8,366.7 245.7,388.2 245.0,400.0 C244.3,411.8 243.0,421.0 242.0,431.0 C241.0,441.0 239.5,455.2 239.0,460.0 L276.0,460.0 C274.8,455.2 271.3,441.0 269.0,431.0 C266.7,421.0 263.8,413.2 262.0,400.0 C260.2,386.8 258.7,360.0 258.0,352.0Z" fill="#eef0f3"/><path d="M246.9,359.4 C246.8,366.2 246.7,388.1 246.2,400.0 C245.7,411.9 244.7,421.0 243.9,431.0 C243.2,441.0 242.0,455.2 241.6,460.0" fill="none" stroke="#ffffff" stroke-width="1.6" opacity="0.9"/><path d="M247.6,358.9 C247.6,365.8 247.7,388.0 247.5,400.0 C247.2,412.0 246.6,421.0 246.2,431.0 C245.8,441.0 245.2,455.2 245.0,460.0" fill="none" stroke="#9096a0" stroke-width="0.85" opacity="0.80" stroke-linecap="round"/><path d="M248.6,358.3 C248.6,365.2 248.8,387.9 248.6,400.0 C248.5,412.1 248.1,421.0 247.8,431.0 C247.5,441.0 247.1,455.2 246.9,460.0" fill="none" stroke="#ffffff" stroke-width="1.6" opacity="0.9"/><path d="M249.0,358.0 C249.1,365.0 249.4,387.8 249.5,400.0 C249.6,412.2 249.5,421.0 249.6,431.0 C249.7,441.0 250.0,455.2 250.1,460.0" fill="none" stroke="#9096a0" stroke-width="1.11" opacity="0.83" stroke-linecap="round"/><path d="M250.3,357.1 C250.4,364.3 250.8,387.7 251.1,400.0 C251.3,412.3 251.5,421.0 251.6,431.0 C251.8,441.0 252.1,455.2 252.2,460.0" fill="none" stroke="#ffffff" stroke-width="1.6" opacity="0.9"/><path d="M251.5,356.3 C251.7,363.6 252.2,387.6 252.5,400.0 C252.9,412.4 253.3,421.0 253.6,431.0 C253.9,441.0 254.2,455.2 254.3,460.0" fill="none" stroke="#9096a0" stroke-width="1.08" opacity="0.84" stroke-linecap="round"/><path d="M252.0,356.0 C252.2,363.3 252.9,387.5 253.5,400.0 C254.1,412.5 254.8,421.0 255.5,431.0 C256.2,441.0 257.2,455.2 257.5,460.0" fill="none" stroke="#ffffff" stroke-width="1.6" opacity="0.9"/><path d="M252.9,355.4 C253.2,362.8 254.0,387.4 254.8,400.0 C255.5,412.6 256.5,421.0 257.4,431.0 C258.3,441.0 259.6,455.2 260.0,460.0" fill="none" stroke="#9096a0" stroke-width="1.14" opacity="0.98" stroke-linecap="round"/><path d="M253.7,354.9 C254.1,362.4 255.0,387.3 255.9,400.0 C256.9,412.7 258.2,421.0 259.4,431.0 C260.5,441.0 262.2,455.2 262.8,460.0" fill="none" stroke="#ffffff" stroke-width="1.6" opacity="0.9"/><path d="M254.5,354.3 C255.0,361.9 256.0,387.2 257.2,400.0 C258.4,412.8 260.0,421.0 261.5,431.0 C263.0,441.0 265.2,455.2 265.9,460.0" fill="none" stroke="#9096a0" stroke-width="0.81" opacity="0.88" stroke-linecap="round"/><path d="M255.4,353.7 C255.9,361.4 257.1,387.1 258.4,400.0 C259.7,412.9 261.6,421.0 263.2,431.0 C264.8,441.0 267.3,455.2 268.1,460.0" fill="none" stroke="#ffffff" stroke-width="1.6" opacity="0.9"/><path d="M256.4,353.0 C257.0,360.9 258.3,387.0 259.9,400.0 C261.5,413.0 263.9,421.0 266.0,431.0 C268.0,441.0 271.1,455.2 272.2,460.0" fill="none" stroke="#9096a0" stroke-width="1.13" opacity="0.71" stroke-linecap="round"/><path d="M246.0,360.0 C245.8,366.7 245.7,388.2 245.0,400.0 C244.3,411.8 243.0,421.0 242.0,431.0 C241.0,441.0 239.5,455.2 239.0,460.0" fill="none" stroke="#7e848d" stroke-width="1.0"/><path d="M258.0,352.0 C258.7,360.0 260.2,386.8 262.0,400.0 C263.8,413.2 266.7,421.0 269.0,431.0 C271.3,441.0 274.8,455.2 276.0,460.0" fill="none" stroke="#7e848d" stroke-width="1.0"/></g>
<defs><linearGradient id="ligm4g" gradientUnits="userSpaceOnUse" x1="257.5" y1="358.5" x2="278.5" y2="406.0"><stop offset="0" stop-color="#fff" stop-opacity="0.25"/><stop offset="0.173" stop-color="#fff" stop-opacity="1"/><stop offset="0.827" stop-color="#fff" stop-opacity="1"/><stop offset="1" stop-color="#fff" stop-opacity="0.25"/></linearGradient><mask id="ligm4" maskUnits="userSpaceOnUse" x="0" y="0" width="1408" height="768"><rect x="0" y="0" width="1408" height="768" fill="url(#ligm4g)"/></mask></defs><g opacity="1" mask="url(#ligm4)"><path d="M252.0,362.0 C253.0,366.0 255.0,377.7 258.0,386.0 C261.0,394.3 268.0,407.7 270.0,412.0 L287.0,400.0 C284.8,396.3 278.0,385.5 274.0,378.0 C270.0,370.5 264.8,358.8 263.0,355.0Z" fill="#eef0f3"/><path d="M253.1,361.3 C254.2,365.3 256.5,376.9 259.6,385.2 C262.7,393.4 269.7,406.5 271.7,410.8" fill="none" stroke="#ffffff" stroke-width="1.6" opacity="0.9"/><path d="M254.1,360.7 C255.3,364.6 258.0,376.3 261.2,384.4 C264.5,392.5 271.6,405.3 273.6,409.4" fill="none" stroke="#9096a0" stroke-width="0.80" opacity="0.78" stroke-linecap="round"/><path d="M255.3,359.9 C256.6,363.8 259.5,375.5 262.8,383.6 C266.1,391.7 273.1,404.3 275.1,408.4" fill="none" stroke="#ffffff" stroke-width="1.6" opacity="0.9"/><path d="M256.1,359.4 C257.4,363.3 260.6,375.0 263.9,383.0 C267.3,391.1 274.2,403.5 276.3,407.6" fill="none" stroke="#9096a0" stroke-width="0.81" opacity="0.91" stroke-linecap="round"/><path d="M257.5,358.5 C258.9,362.4 262.5,374.1 266.0,382.0 C269.5,389.9 276.4,402.0 278.5,406.0" fill="none" stroke="#ffffff" stroke-width="1.6" opacity="0.9"/><path d="M258.3,358.0 C259.8,361.9 263.6,373.6 267.2,381.4 C270.8,389.2 277.7,401.1 279.9,405.0" fill="none" stroke="#9096a0" stroke-width="0.95" opacity="0.95" stroke-linecap="round"/><path d="M259.7,357.1 C261.3,361.0 265.5,372.6 269.2,380.4 C272.9,388.1 279.8,399.7 281.9,403.6" fill="none" stroke="#ffffff" stroke-width="1.6" opacity="0.9"/><path d="M260.4,356.6 C262.1,360.5 266.6,372.1 270.5,379.8 C274.3,387.4 281.4,398.7 283.5,402.4" fill="none" stroke="#9096a0" stroke-width="1.02" opacity="0.95" stroke-linecap="round"/><path d="M252.0,362.0 C253.0,366.0 255.0,377.7 258.0,386.0 C261.0,394.3 268.0,407.7 270.0,412.0" fill="none" stroke="#7e848d" stroke-width="1.0"/><path d="M263.0,355.0 C264.8,358.8 270.0,370.5 274.0,378.0 C278.0,385.5 284.8,396.3 287.0,400.0" fill="none" stroke="#7e848d" stroke-width="1.0"/></g>
<defs><linearGradient id="ligm5g" gradientUnits="userSpaceOnUse" x1="281.5" y1="320.0" x2="300.0" y2="397.0"><stop offset="0" stop-color="#fff" stop-opacity="0.25"/><stop offset="0.114" stop-color="#fff" stop-opacity="1"/><stop offset="0.886" stop-color="#fff" stop-opacity="1"/><stop offset="1" stop-color="#fff" stop-opacity="0.25"/></linearGradient><mask id="ligm5" maskUnits="userSpaceOnUse" x="0" y="0" width="1408" height="768"><rect x="0" y="0" width="1408" height="768" fill="url(#ligm5g)"/></mask></defs><g opacity="1" mask="url(#ligm5)"><path d="M261.0,318.0 C261.8,323.3 263.7,340.0 266.0,350.0 C268.3,360.0 272.7,369.0 275.0,378.0 C277.3,387.0 279.2,399.7 280.0,404.0 L320.0,390.0 C318.8,385.8 315.3,372.5 313.0,365.0 C310.7,357.5 307.8,352.2 306.0,345.0 C304.2,337.8 302.7,325.8 302.0,322.0Z" fill="#eef0f3"/><path d="M263.6,318.2 C264.4,323.5 266.2,339.9 268.5,349.7 C270.8,359.5 275.0,368.3 277.4,377.2 C279.7,386.1 281.6,398.8 282.5,403.1" fill="none" stroke="#ffffff" stroke-width="1.6" opacity="0.9"/><path d="M267.2,318.6 C268.0,323.7 269.8,339.7 272.1,349.2 C274.3,358.8 278.5,367.2 280.8,376.0 C283.2,384.8 285.3,397.5 286.2,401.8" fill="none" stroke="#9096a0" stroke-width="0.90" opacity="0.77" stroke-linecap="round"/><path d="M268.7,318.8 C269.5,323.8 271.3,339.6 273.5,349.1 C275.7,358.5 279.8,366.8 282.1,375.6 C284.5,384.3 286.6,397.1 287.5,401.4" fill="none" stroke="#ffffff" stroke-width="1.6" opacity="0.9"/><path d="M270.8,319.0 C271.7,323.9 273.7,339.5 276.1,348.7 C278.5,358.0 282.6,366.0 285.1,374.5 C287.7,383.1 290.2,395.8 291.2,400.1" fill="none" stroke="#9096a0" stroke-width="1.19" opacity="0.66" stroke-linecap="round"/><path d="M273.8,319.2 C274.6,324.1 276.3,339.3 278.5,348.4 C280.7,357.6 284.5,365.4 286.9,373.9 C289.2,382.5 291.6,395.3 292.5,399.6" fill="none" stroke="#ffffff" stroke-width="1.6" opacity="0.9"/><path d="M275.3,319.4 C276.1,324.2 277.8,339.2 280.0,348.2 C282.2,357.3 286.0,365.0 288.4,373.4 C290.7,381.9 293.2,394.8 294.1,399.1" fill="none" stroke="#9096a0" stroke-width="0.89" opacity="0.79" stroke-linecap="round"/><path d="M278.9,319.8 C279.7,324.4 281.4,339.1 283.5,347.8 C285.6,356.6 289.3,364.0 291.6,372.3 C294.0,380.7 296.5,393.6 297.5,397.9" fill="none" stroke="#ffffff" stroke-width="1.6" opacity="0.9"/><path d="M281.8,320.0 C282.5,324.6 284.0,338.9 285.9,347.5 C287.9,356.1 291.4,363.3 293.6,371.6 C295.8,379.9 298.3,393.0 299.2,397.3" fill="none" stroke="#9096a0" stroke-width="0.79" opacity="0.77" stroke-linecap="round"/><path d="M284.1,320.2 C284.8,324.7 286.4,338.8 288.5,347.2 C290.6,355.6 294.0,362.5 296.4,370.7 C298.7,378.8 301.5,391.9 302.5,396.1" fill="none" stroke="#ffffff" stroke-width="1.6" opacity="0.9"/><path d="M286.2,320.5 C287.0,324.9 288.7,338.7 290.8,346.9 C292.9,355.1 296.3,361.8 298.8,369.9 C301.2,377.9 304.1,391.0 305.2,395.2" fill="none" stroke="#9096a0" stroke-width="1.19" opacity="0.88" stroke-linecap="round"/><path d="M289.2,320.8 C289.9,325.1 291.5,338.5 293.5,346.6 C295.5,354.6 298.8,361.1 301.1,369.1 C303.5,377.0 306.4,390.2 307.5,394.4" fill="none" stroke="#ffffff" stroke-width="1.6" opacity="0.9"/><path d="M291.8,321.0 C292.5,325.2 294.2,338.4 296.2,346.2 C298.2,354.1 301.4,360.3 303.8,368.2 C306.1,376.0 309.3,389.2 310.4,393.4" fill="none" stroke="#9096a0" stroke-width="1.07" opacity="0.62" stroke-linecap="round"/><path d="M294.3,321.2 C295.0,325.4 296.6,338.2 298.5,345.9 C300.4,353.6 303.5,359.7 305.9,367.4 C308.2,375.2 311.4,388.4 312.5,392.6" fill="none" stroke="#ffffff" stroke-width="1.6" opacity="0.9"/><path d="M298.2,321.6 C298.8,325.6 300.3,338.0 302.2,345.5 C304.0,352.9 306.9,358.6 309.2,366.3 C311.5,374.0 314.8,387.2 315.9,391.4" fill="none" stroke="#9096a0" stroke-width="1.15" opacity="0.92" stroke-linecap="round"/><path d="M261.0,318.0 C261.8,323.3 263.7,340.0 266.0,350.0 C268.3,360.0 272.7,369.0 275.0,378.0 C277.3,387.0 279.2,399.7 280.0,404.0" fill="none" stroke="#7e848d" stroke-width="1.0"/><path d="M302.0,322.0 C302.7,325.8 304.2,337.8 306.0,345.0 C307.8,352.2 310.7,357.5 313.0,365.0 C315.3,372.5 318.8,385.8 320.0,390.0" fill="none" stroke="#7e848d" stroke-width="1.0"/></g>
<defs><linearGradient id="ligm6g" gradientUnits="userSpaceOnUse" x1="351.5" y1="309.0" x2="420.5" y2="307.5"><stop offset="0" stop-color="#fff" stop-opacity="0.25"/><stop offset="0.130" stop-color="#fff" stop-opacity="1"/><stop offset="0.870" stop-color="#fff" stop-opacity="1"/><stop offset="1" stop-color="#fff" stop-opacity="0.25"/></linearGradient><mask id="ligm6" maskUnits="userSpaceOnUse" x="0" y="0" width="1408" height="768"><rect x="0" y="0" width="1408" height="768" fill="url(#ligm6g)"/></mask></defs><g opacity="1" mask="url(#ligm6)"><path d="M354.0,291.0 C359.2,292.2 374.7,298.0 385.0,298.0 C395.3,298.0 410.8,292.2 416.0,291.0 L425.0,324.0 C418.5,325.0 398.7,329.5 386.0,330.0 C373.3,330.5 355.2,327.5 349.0,327.0Z" fill="#eef0f3"/><path d="M353.6,293.6 C358.9,294.7 374.6,300.3 385.1,300.3 C395.6,300.2 411.4,294.5 416.6,293.4" fill="none" stroke="#ffffff" stroke-width="1.6" opacity="0.9"/><path d="M353.3,295.8 C358.6,296.9 374.5,302.4 385.1,302.3 C395.8,302.2 411.9,296.6 417.2,295.4" fill="none" stroke="#9096a0" stroke-width="0.83" opacity="0.85" stroke-linecap="round"/><path d="M352.9,298.7 C358.3,299.7 374.4,305.0 385.2,304.9 C396.0,304.8 412.5,299.2 417.9,298.1" fill="none" stroke="#ffffff" stroke-width="1.6" opacity="0.9"/><path d="M352.7,300.0 C358.2,301.0 374.3,306.2 385.3,306.0 C396.2,305.9 412.8,300.4 418.3,299.3" fill="none" stroke="#9096a0" stroke-width="0.88" opacity="0.66" stroke-linecap="round"/><path d="M352.2,303.9 C357.7,304.8 374.2,309.6 385.4,309.4 C396.5,309.2 413.6,303.9 419.2,302.8" fill="none" stroke="#ffffff" stroke-width="1.6" opacity="0.9"/><path d="M351.9,306.0 C357.5,306.8 374.1,311.3 385.4,310.9 C396.7,310.6 413.8,305.1 419.5,304.0" fill="none" stroke="#9096a0" stroke-width="0.79" opacity="0.66" stroke-linecap="round"/><path d="M351.5,309.0 C357.2,309.8 374.0,314.2 385.5,314.0 C397.0,313.8 414.7,308.6 420.5,307.5" fill="none" stroke="#ffffff" stroke-width="1.6" opacity="0.9"/><path d="M351.3,310.4 C357.0,311.3 373.9,315.8 385.6,315.6 C397.2,315.4 415.1,310.5 421.0,309.5" fill="none" stroke="#9096a0" stroke-width="0.80" opacity="0.95" stroke-linecap="round"/><path d="M350.8,314.1 C356.6,314.9 373.8,318.9 385.6,318.6 C397.5,318.2 415.8,313.3 421.8,312.2" fill="none" stroke="#ffffff" stroke-width="1.6" opacity="0.9"/><path d="M350.4,317.0 C356.3,317.6 373.7,321.1 385.7,320.6 C397.7,320.0 416.1,314.8 422.2,313.6" fill="none" stroke="#9096a0" stroke-width="0.89" opacity="0.74" stroke-linecap="round"/><path d="M350.1,319.3 C356.0,319.9 373.6,323.5 385.8,323.1 C398.0,322.8 416.9,318.0 423.1,316.9" fill="none" stroke="#ffffff" stroke-width="1.6" opacity="0.9"/><path d="M349.8,321.5 C355.8,322.0 373.6,325.3 385.8,324.8 C398.1,324.2 417.2,319.4 423.4,318.3" fill="none" stroke="#9096a0" stroke-width="1.14" opacity="1.00" stroke-linecap="round"/><path d="M354.0,291.0 C359.2,292.2 374.7,298.0 385.0,298.0 C395.3,298.0 410.8,292.2 416.0,291.0" fill="none" stroke="#7e848d" stroke-width="1.0"/><path d="M349.0,327.0 C355.2,327.5 373.3,330.5 386.0,330.0 C398.7,329.5 418.5,325.0 425.0,324.0" fill="none" stroke="#7e848d" stroke-width="1.0"/></g>
<defs><linearGradient id="ligm7g" gradientUnits="userSpaceOnUse" x1="456.5" y1="317.0" x2="466.5" y2="404.0"><stop offset="0" stop-color="#fff" stop-opacity="0.25"/><stop offset="0.103" stop-color="#fff" stop-opacity="1"/><stop offset="0.897" stop-color="#fff" stop-opacity="1"/><stop offset="1" stop-color="#fff" stop-opacity="0.25"/></linearGradient><mask id="ligm7" maskUnits="userSpaceOnUse" x="0" y="0" width="1408" height="768"><rect x="0" y="0" width="1408" height="768" fill="url(#ligm7g)"/></mask></defs><g opacity="1" mask="url(#ligm7)"><path d="M439.0,316.0 C440.8,323.3 447.2,345.3 450.0,360.0 C452.8,374.7 455.0,396.7 456.0,404.0 L477.0,404.0 C476.8,396.7 476.5,374.3 476.0,360.0 C475.5,345.7 474.3,325.0 474.0,318.0Z" fill="#eef0f3"/><path d="M441.9,316.2 C443.6,323.5 449.5,345.4 452.2,360.0 C454.8,374.6 456.8,396.7 457.8,404.0" fill="none" stroke="#ffffff" stroke-width="1.6" opacity="0.9"/><path d="M444.7,316.3 C446.3,323.6 451.8,345.4 454.3,360.0 C456.7,374.6 458.6,396.7 459.5,404.0" fill="none" stroke="#9096a0" stroke-width="0.82" opacity="0.64" stroke-linecap="round"/><path d="M447.8,316.5 C449.2,323.8 454.2,345.4 456.5,360.0 C458.8,374.6 460.5,396.7 461.2,404.0" fill="none" stroke="#ffffff" stroke-width="1.6" opacity="0.9"/><path d="M450.2,316.6 C451.6,323.9 456.2,345.4 458.3,360.0 C460.3,374.6 461.9,396.7 462.6,404.0" fill="none" stroke="#9096a0" stroke-width="1.14" opacity="0.66" stroke-linecap="round"/><path d="M453.6,316.8 C454.8,324.0 459.0,345.5 460.8,360.0 C462.7,374.5 464.1,396.7 464.8,404.0" fill="none" stroke="#ffffff" stroke-width="1.6" opacity="0.9"/><path d="M455.2,316.9 C456.5,324.1 461.0,345.5 463.0,360.0 C465.0,374.5 466.5,396.7 467.3,404.0" fill="none" stroke="#9096a0" stroke-width="1.01" opacity="0.66" stroke-linecap="round"/><path d="M459.4,317.2 C460.4,324.3 463.7,345.5 465.2,360.0 C466.6,374.5 467.7,396.7 468.2,404.0" fill="none" stroke="#ffffff" stroke-width="1.6" opacity="0.9"/><path d="M462.5,317.3 C463.2,324.5 465.8,345.6 466.9,360.0 C468.0,374.4 468.8,396.7 469.2,404.0" fill="none" stroke="#9096a0" stroke-width="1.01" opacity="0.99" stroke-linecap="round"/><path d="M465.2,317.5 C466.0,324.6 468.4,345.6 469.5,360.0 C470.6,374.4 471.4,396.7 471.8,404.0" fill="none" stroke="#ffffff" stroke-width="1.6" opacity="0.9"/><path d="M469.2,317.7 C469.7,324.8 471.5,345.6 472.2,360.0 C473.0,374.4 473.6,396.7 473.8,404.0" fill="none" stroke="#9096a0" stroke-width="0.90" opacity="0.75" stroke-linecap="round"/><path d="M439.0,316.0 C440.8,323.3 447.2,345.3 450.0,360.0 C452.8,374.7 455.0,396.7 456.0,404.0" fill="none" stroke="#7e848d" stroke-width="1.0"/><path d="M474.0,318.0 C474.3,325.0 475.5,345.7 476.0,360.0 C476.5,374.3 476.8,396.7 477.0,404.0" fill="none" stroke="#7e848d" stroke-width="1.0"/></g>
<defs><linearGradient id="ligm8g" gradientUnits="userSpaceOnUse" x1="483.0" y1="291.0" x2="496.0" y2="552.0"><stop offset="0" stop-color="#fff" stop-opacity="0.25"/><stop offset="0.034" stop-color="#fff" stop-opacity="1"/><stop offset="0.966" stop-color="#fff" stop-opacity="1"/><stop offset="1" stop-color="#fff" stop-opacity="0.25"/></linearGradient><mask id="ligm8" maskUnits="userSpaceOnUse" x="0" y="0" width="1408" height="768"><rect x="0" y="0" width="1408" height="768" fill="url(#ligm8g)"/></mask></defs><g opacity="1" mask="url(#ligm8)"><path d="M474.0,291.0 C475.3,299.2 479.3,321.8 482.0,340.0 C484.7,358.2 487.8,380.0 490.0,400.0 C492.2,420.0 495.3,440.0 495.0,460.0 C494.7,480.0 490.2,504.7 488.0,520.0 C485.8,535.3 483.0,546.7 482.0,552.0 L510.0,552.0 C510.3,546.7 511.7,535.3 512.0,520.0 C512.3,504.7 512.8,480.0 512.0,460.0 C511.2,440.0 508.8,420.0 507.0,400.0 C505.2,380.0 503.5,358.2 501.0,340.0 C498.5,321.8 493.5,299.2 492.0,291.0Z" fill="#eef0f3"/><path d="M475.5,291.0 C476.8,299.2 480.9,321.8 483.6,340.0 C486.2,358.2 489.3,380.0 491.4,400.0 C493.6,420.0 496.7,440.0 496.4,460.0 C496.2,480.0 492.0,504.7 490.0,520.0 C488.0,535.3 485.3,546.7 484.3,552.0" fill="none" stroke="#ffffff" stroke-width="1.6" opacity="0.9"/><path d="M476.5,291.0 C477.9,299.2 482.1,321.8 484.8,340.0 C487.5,358.2 490.5,380.0 492.7,400.0 C494.9,420.0 497.9,440.0 497.9,460.0 C497.8,480.0 494.1,504.7 492.3,520.0 C490.5,535.3 488.1,546.7 487.3,552.0" fill="none" stroke="#9096a0" stroke-width="1.01" opacity="0.91" stroke-linecap="round"/><path d="M478.5,291.0 C479.9,299.2 484.1,321.8 486.8,340.0 C489.4,358.2 492.2,380.0 494.2,400.0 C496.3,420.0 499.3,440.0 499.2,460.0 C499.2,480.0 495.7,504.7 494.0,520.0 C492.3,535.3 489.8,546.7 489.0,552.0" fill="none" stroke="#ffffff" stroke-width="1.6" opacity="0.9"/><path d="M479.8,291.0 C481.1,299.2 485.4,321.8 488.0,340.0 C490.6,358.2 493.3,380.0 495.4,400.0 C497.4,420.0 500.3,440.0 500.3,460.0 C500.4,480.0 497.1,504.7 495.5,520.0 C493.9,535.3 491.5,546.7 490.7,552.0" fill="none" stroke="#9096a0" stroke-width="1.13" opacity="0.99" stroke-linecap="round"/><path d="M481.5,291.0 C482.9,299.2 487.3,321.8 489.9,340.0 C492.5,358.2 495.1,380.0 497.1,400.0 C499.1,420.0 501.9,440.0 502.1,460.0 C502.2,480.0 499.4,504.7 498.0,520.0 C496.6,535.3 494.4,546.7 493.7,552.0" fill="none" stroke="#ffffff" stroke-width="1.6" opacity="0.9"/><path d="M483.5,291.0 C484.9,299.2 489.4,321.8 492.0,340.0 C494.6,358.2 497.0,380.0 499.0,400.0 C500.9,420.0 503.7,440.0 503.9,460.0 C504.2,480.0 501.8,504.7 500.6,520.0 C499.4,535.3 497.3,546.7 496.7,552.0" fill="none" stroke="#9096a0" stroke-width="1.13" opacity="0.90" stroke-linecap="round"/><path d="M484.5,291.0 C485.9,299.2 490.5,321.8 493.1,340.0 C495.7,358.2 497.9,380.0 499.9,400.0 C501.9,420.0 504.6,440.0 504.9,460.0 C505.3,480.0 503.1,504.7 502.0,520.0 C500.9,535.3 498.9,546.7 498.3,552.0" fill="none" stroke="#ffffff" stroke-width="1.6" opacity="0.9"/><path d="M485.6,291.0 C487.1,299.2 491.8,321.8 494.3,340.0 C496.9,358.2 499.1,380.0 501.1,400.0 C503.1,420.0 505.7,440.0 506.2,460.0 C506.7,480.0 504.8,504.7 503.9,520.0 C503.0,535.3 501.2,546.7 500.7,552.0" fill="none" stroke="#9096a0" stroke-width="0.94" opacity="0.61" stroke-linecap="round"/><path d="M487.5,291.0 C489.0,299.2 493.7,321.8 496.2,340.0 C498.8,358.2 500.8,380.0 502.8,400.0 C504.7,420.0 507.2,440.0 507.8,460.0 C508.3,480.0 506.8,504.7 506.0,520.0 C505.2,535.3 503.5,546.7 503.0,552.0" fill="none" stroke="#ffffff" stroke-width="1.6" opacity="0.9"/><path d="M488.3,291.0 C489.8,299.2 494.6,321.8 497.2,340.0 C499.7,358.2 501.7,380.0 503.7,400.0 C505.6,420.0 508.1,440.0 508.7,460.0 C509.4,480.0 508.1,504.7 507.5,520.0 C506.8,535.3 505.3,546.7 504.8,552.0" fill="none" stroke="#9096a0" stroke-width="0.90" opacity="0.88" stroke-linecap="round"/><path d="M474.0,291.0 C475.3,299.2 479.3,321.8 482.0,340.0 C484.7,358.2 487.8,380.0 490.0,400.0 C492.2,420.0 495.3,440.0 495.0,460.0 C494.7,480.0 490.2,504.7 488.0,520.0 C485.8,535.3 483.0,546.7 482.0,552.0" fill="none" stroke="#7e848d" stroke-width="1.0"/><path d="M492.0,291.0 C493.5,299.2 498.5,321.8 501.0,340.0 C503.5,358.2 505.2,380.0 507.0,400.0 C508.8,420.0 511.2,440.0 512.0,460.0 C512.8,480.0 512.3,504.7 512.0,520.0 C511.7,535.3 510.3,546.7 510.0,552.0" fill="none" stroke="#7e848d" stroke-width="1.0"/></g>
<defs><linearGradient id="ligm9g" gradientUnits="userSpaceOnUse" x1="290.0" y1="500.0" x2="293.0" y2="568.0"><stop offset="0" stop-color="#fff" stop-opacity="0.25"/><stop offset="0.132" stop-color="#fff" stop-opacity="1"/><stop offset="0.868" stop-color="#fff" stop-opacity="1"/><stop offset="1" stop-color="#fff" stop-opacity="0.25"/></linearGradient><mask id="ligm9" maskUnits="userSpaceOnUse" x="0" y="0" width="1408" height="768"><rect x="0" y="0" width="1408" height="768" fill="url(#ligm9g)"/></mask></defs><g opacity="1" mask="url(#ligm9)"><path d="M276.0,500.0 C276.5,505.5 278.3,521.7 279.0,533.0 C279.7,544.3 279.8,562.2 280.0,568.0 L306.0,568.0 C305.3,562.2 302.3,544.3 302.0,533.0 C301.7,521.7 303.7,505.5 304.0,500.0Z" fill="#eef0f3"/><path d="M278.3,500.0 C278.8,505.5 280.3,521.7 280.9,533.0 C281.6,544.3 282.0,562.2 282.2,568.0" fill="none" stroke="#ffffff" stroke-width="1.6" opacity="0.9"/><path d="M281.7,500.0 C281.9,505.5 282.8,521.7 283.2,533.0 C283.6,544.3 284.1,562.2 284.2,568.0" fill="none" stroke="#9096a0" stroke-width="1.18" opacity="1.00" stroke-linecap="round"/><path d="M283.0,500.0 C283.3,505.5 284.2,521.7 284.8,533.0 C285.3,544.3 286.2,562.2 286.5,568.0" fill="none" stroke="#ffffff" stroke-width="1.6" opacity="0.9"/><path d="M286.4,500.0 C286.5,505.5 286.6,521.7 287.0,533.0 C287.3,544.3 288.1,562.2 288.4,568.0" fill="none" stroke="#9096a0" stroke-width="0.88" opacity="0.69" stroke-linecap="round"/><path d="M287.7,500.0 C287.8,505.5 288.1,521.7 288.6,533.0 C289.1,544.3 290.5,562.2 290.8,568.0" fill="none" stroke="#ffffff" stroke-width="1.6" opacity="0.9"/><path d="M289.3,500.0 C289.4,505.5 289.4,521.7 289.9,533.0 C290.5,544.3 292.0,562.2 292.4,568.0" fill="none" stroke="#9096a0" stroke-width="1.05" opacity="0.96" stroke-linecap="round"/><path d="M292.3,500.0 C292.3,505.5 291.9,521.7 292.4,533.0 C292.9,544.3 294.7,562.2 295.2,568.0" fill="none" stroke="#ffffff" stroke-width="1.6" opacity="0.9"/><path d="M295.4,500.0 C295.3,505.5 294.3,521.7 294.6,533.0 C294.9,544.3 296.8,562.2 297.3,568.0" fill="none" stroke="#9096a0" stroke-width="1.06" opacity="0.92" stroke-linecap="round"/><path d="M297.0,500.0 C296.9,505.5 295.8,521.7 296.2,533.0 C296.7,544.3 299.0,562.2 299.5,568.0" fill="none" stroke="#ffffff" stroke-width="1.6" opacity="0.9"/><path d="M298.4,500.0 C298.3,505.5 297.3,521.7 297.9,533.0 C298.5,544.3 301.3,562.2 302.0,568.0" fill="none" stroke="#9096a0" stroke-width="1.17" opacity="0.91" stroke-linecap="round"/><path d="M276.0,500.0 C276.5,505.5 278.3,521.7 279.0,533.0 C279.7,544.3 279.8,562.2 280.0,568.0" fill="none" stroke="#7e848d" stroke-width="1.0"/><path d="M304.0,500.0 C303.7,505.5 301.7,521.7 302.0,533.0 C302.3,544.3 305.3,562.2 306.0,568.0" fill="none" stroke="#7e848d" stroke-width="1.0"/></g>
<defs><linearGradient id="ligm10g" gradientUnits="userSpaceOnUse" x1="364.5" y1="508.0" x2="365.0" y2="578.0"><stop offset="0" stop-color="#fff" stop-opacity="0.25"/><stop offset="0.129" stop-color="#fff" stop-opacity="1"/><stop offset="0.871" stop-color="#fff" stop-opacity="1"/><stop offset="1" stop-color="#fff" stop-opacity="0.25"/></linearGradient><mask id="ligm10" maskUnits="userSpaceOnUse" x="0" y="0" width="1408" height="768"><rect x="0" y="0" width="1408" height="768" fill="url(#ligm10g)"/></mask></defs><g opacity="1" mask="url(#ligm10)"><path d="M351.0,508.0 C350.7,514.2 350.2,533.3 349.0,545.0 C347.8,556.7 344.8,572.5 344.0,578.0 L386.0,578.0 C384.7,572.5 379.3,556.7 378.0,545.0 C376.7,533.3 378.0,514.2 378.0,508.0Z" fill="#eef0f3"/><path d="M352.7,508.0 C352.4,514.2 351.8,533.3 350.8,545.0 C349.8,556.7 347.3,572.5 346.6,578.0" fill="none" stroke="#ffffff" stroke-width="1.6" opacity="0.9"/><path d="M354.9,508.0 C354.6,514.2 353.8,533.3 352.9,545.0 C351.9,556.7 349.8,572.5 349.2,578.0" fill="none" stroke="#9096a0" stroke-width="0.86" opacity="0.92" stroke-linecap="round"/><path d="M356.1,508.0 C355.8,514.2 355.1,533.3 354.4,545.0 C353.7,556.7 352.3,572.5 351.9,578.0" fill="none" stroke="#ffffff" stroke-width="1.6" opacity="0.9"/><path d="M357.4,508.0 C357.2,514.2 356.7,533.3 356.4,545.0 C356.1,556.7 355.7,572.5 355.5,578.0" fill="none" stroke="#9096a0" stroke-width="1.20" opacity="0.76" stroke-linecap="round"/><path d="M359.4,508.0 C359.2,514.2 358.4,533.3 358.1,545.0 C357.7,556.7 357.3,572.5 357.1,578.0" fill="none" stroke="#ffffff" stroke-width="1.6" opacity="0.9"/><path d="M360.9,508.0 C360.8,514.2 360.2,533.3 360.3,545.0 C360.3,556.7 361.1,572.5 361.3,578.0" fill="none" stroke="#9096a0" stroke-width="1.09" opacity="0.67" stroke-linecap="round"/><path d="M362.8,508.0 C362.6,514.2 361.8,533.3 361.7,545.0 C361.6,556.7 362.3,572.5 362.4,578.0" fill="none" stroke="#ffffff" stroke-width="1.6" opacity="0.9"/><path d="M363.7,508.0 C363.5,514.2 362.6,533.3 362.7,545.0 C362.7,556.7 363.6,572.5 363.8,578.0" fill="none" stroke="#9096a0" stroke-width="1.17" opacity="0.92" stroke-linecap="round"/><path d="M366.2,508.0 C366.0,514.2 365.1,533.3 365.3,545.0 C365.6,556.7 367.2,572.5 367.6,578.0" fill="none" stroke="#ffffff" stroke-width="1.6" opacity="0.9"/><path d="M367.1,508.0 C367.1,514.2 366.4,533.3 367.1,545.0 C367.8,556.7 370.6,572.5 371.3,578.0" fill="none" stroke="#9096a0" stroke-width="1.20" opacity="0.86" stroke-linecap="round"/><path d="M369.6,508.0 C369.5,514.2 368.4,533.3 368.9,545.0 C369.5,556.7 372.2,572.5 372.9,578.0" fill="none" stroke="#ffffff" stroke-width="1.6" opacity="0.9"/><path d="M370.9,508.0 C370.9,514.2 369.8,533.3 370.6,545.0 C371.4,556.7 374.8,572.5 375.7,578.0" fill="none" stroke="#9096a0" stroke-width="0.84" opacity="0.61" stroke-linecap="round"/><path d="M372.9,508.0 C372.9,514.2 371.7,533.3 372.6,545.0 C373.4,556.7 377.2,572.5 378.1,578.0" fill="none" stroke="#ffffff" stroke-width="1.6" opacity="0.9"/><path d="M375.6,508.0 C375.6,514.2 374.2,533.3 375.1,545.0 C376.0,556.7 380.2,572.5 381.3,578.0" fill="none" stroke="#9096a0" stroke-width="1.01" opacity="0.97" stroke-linecap="round"/><path d="M351.0,508.0 C350.7,514.2 350.2,533.3 349.0,545.0 C347.8,556.7 344.8,572.5 344.0,578.0" fill="none" stroke="#7e848d" stroke-width="1.0"/><path d="M378.0,508.0 C378.0,514.2 376.7,533.3 378.0,545.0 C379.3,556.7 384.7,572.5 386.0,578.0" fill="none" stroke="#7e848d" stroke-width="1.0"/></g>
<defs><linearGradient id="ligm11g" gradientUnits="userSpaceOnUse" x1="423.5" y1="506.0" x2="427.5" y2="560.0"><stop offset="0" stop-color="#fff" stop-opacity="0.25"/><stop offset="0.166" stop-color="#fff" stop-opacity="1"/><stop offset="0.834" stop-color="#fff" stop-opacity="1"/><stop offset="1" stop-color="#fff" stop-opacity="0.25"/></linearGradient><mask id="ligm11" maskUnits="userSpaceOnUse" x="0" y="0" width="1408" height="768"><rect x="0" y="0" width="1408" height="768" fill="url(#ligm11g)"/></mask></defs><g opacity="1" mask="url(#ligm11)"><path d="M412.0,506.0 C412.2,510.0 413.0,521.0 413.0,530.0 C413.0,539.0 412.2,555.0 412.0,560.0 L443.0,560.0 C442.0,555.0 438.3,539.0 437.0,530.0 C435.7,521.0 435.3,510.0 435.0,506.0Z" fill="#eef0f3"/><path d="M413.9,506.0 C414.1,510.0 414.9,521.0 415.0,530.0 C415.1,539.0 414.7,555.0 414.6,560.0" fill="none" stroke="#ffffff" stroke-width="1.6" opacity="0.9"/><path d="M415.7,506.0 C416.0,510.0 416.9,521.0 417.3,530.0 C417.7,539.0 418.0,555.0 418.1,560.0" fill="none" stroke="#9096a0" stroke-width="1.13" opacity="0.68" stroke-linecap="round"/><path d="M417.8,506.0 C418.0,510.0 418.7,521.0 419.0,530.0 C419.3,539.0 419.6,555.0 419.8,560.0" fill="none" stroke="#ffffff" stroke-width="1.6" opacity="0.9"/><path d="M419.2,506.0 C419.4,510.0 420.1,521.0 420.6,530.0 C421.0,539.0 421.6,555.0 421.8,560.0" fill="none" stroke="#9096a0" stroke-width="0.89" opacity="0.83" stroke-linecap="round"/><path d="M421.6,506.0 C421.8,510.0 422.4,521.0 423.0,530.0 C423.6,539.0 424.6,555.0 424.9,560.0" fill="none" stroke="#ffffff" stroke-width="1.6" opacity="0.9"/><path d="M423.1,506.0 C423.3,510.0 424.0,521.0 424.7,530.0 C425.4,539.0 426.9,555.0 427.3,560.0" fill="none" stroke="#9096a0" stroke-width="0.84" opacity="0.96" stroke-linecap="round"/><path d="M425.4,506.0 C425.7,510.0 426.2,521.0 427.0,530.0 C427.8,539.0 429.6,555.0 430.1,560.0" fill="none" stroke="#ffffff" stroke-width="1.6" opacity="0.9"/><path d="M427.1,506.0 C427.4,510.0 427.9,521.0 428.8,530.0 C429.7,539.0 431.9,555.0 432.6,560.0" fill="none" stroke="#9096a0" stroke-width="1.03" opacity="0.96" stroke-linecap="round"/><path d="M429.2,506.0 C429.5,510.0 430.0,521.0 431.0,530.0 C432.0,539.0 434.5,555.0 435.2,560.0" fill="none" stroke="#ffffff" stroke-width="1.6" opacity="0.9"/><path d="M431.0,506.0 C431.4,510.0 432.0,521.0 433.3,530.0 C434.6,539.0 437.9,555.0 438.9,560.0" fill="none" stroke="#9096a0" stroke-width="1.00" opacity="0.81" stroke-linecap="round"/><path d="M412.0,506.0 C412.2,510.0 413.0,521.0 413.0,530.0 C413.0,539.0 412.2,555.0 412.0,560.0" fill="none" stroke="#7e848d" stroke-width="1.0"/><path d="M435.0,506.0 C435.3,510.0 435.7,521.0 437.0,530.0 C438.3,539.0 442.0,555.0 443.0,560.0" fill="none" stroke="#7e848d" stroke-width="1.0"/></g>
<defs><linearGradient id="ligm12g" gradientUnits="userSpaceOnUse" x1="445.5" y1="496.0" x2="472.5" y2="545.0"><stop offset="0" stop-color="#fff" stop-opacity="0.25"/><stop offset="0.161" stop-color="#fff" stop-opacity="1"/><stop offset="0.839" stop-color="#fff" stop-opacity="1"/><stop offset="1" stop-color="#fff" stop-opacity="0.25"/></linearGradient><mask id="ligm12" maskUnits="userSpaceOnUse" x="0" y="0" width="1408" height="768"><rect x="0" y="0" width="1408" height="768" fill="url(#ligm12g)"/></mask></defs><g opacity="1" mask="url(#ligm12)"><path d="M435.0,500.0 C437.5,503.7 445.3,514.0 450.0,522.0 C454.7,530.0 460.8,543.7 463.0,548.0 L482.0,542.0 C480.3,537.5 476.3,523.3 472.0,515.0 C467.7,506.7 458.7,495.8 456.0,492.0Z" fill="#eef0f3"/><path d="M436.8,499.3 C439.3,503.0 447.2,513.4 451.8,521.4 C456.5,529.4 462.5,543.2 464.6,547.5" fill="none" stroke="#ffffff" stroke-width="1.6" opacity="0.9"/><path d="M438.5,498.7 C441.0,502.4 448.8,512.9 453.3,521.0 C457.7,529.1 463.4,542.9 465.4,547.2" fill="none" stroke="#9096a0" stroke-width="0.97" opacity="0.67" stroke-linecap="round"/><path d="M440.2,498.0 C442.8,501.7 450.9,512.2 455.5,520.2 C460.1,528.3 465.7,542.1 467.8,546.5" fill="none" stroke="#ffffff" stroke-width="1.6" opacity="0.9"/><path d="M441.2,497.7 C443.8,501.3 452.4,511.7 457.2,519.7 C461.9,527.8 467.7,541.5 469.8,545.9" fill="none" stroke="#9096a0" stroke-width="0.86" opacity="0.79" stroke-linecap="round"/><path d="M443.8,496.7 C446.3,500.4 454.6,510.9 459.2,519.1 C463.7,527.2 469.0,541.1 470.9,545.5" fill="none" stroke="#ffffff" stroke-width="1.6" opacity="0.9"/><path d="M445.9,495.9 C448.4,499.6 456.8,510.2 461.2,518.4 C465.7,526.6 470.7,540.5 472.6,545.0" fill="none" stroke="#9096a0" stroke-width="0.92" opacity="0.81" stroke-linecap="round"/><path d="M447.2,495.3 C449.8,499.1 458.4,509.7 462.8,517.9 C467.3,526.1 472.2,540.1 474.1,544.5" fill="none" stroke="#ffffff" stroke-width="1.6" opacity="0.9"/><path d="M449.1,494.6 C451.7,498.4 460.5,509.0 465.0,517.2 C469.5,525.4 474.2,539.4 476.1,543.9" fill="none" stroke="#9096a0" stroke-width="0.83" opacity="0.82" stroke-linecap="round"/><path d="M450.8,494.0 C453.4,497.8 462.1,508.5 466.5,516.8 C470.9,525.0 475.5,539.0 477.2,543.5" fill="none" stroke="#ffffff" stroke-width="1.6" opacity="0.9"/><path d="M452.1,493.5 C454.7,497.3 463.5,508.0 467.9,516.3 C472.3,524.6 476.7,538.6 478.5,543.1" fill="none" stroke="#9096a0" stroke-width="1.11" opacity="0.80" stroke-linecap="round"/><path d="M435.0,500.0 C437.5,503.7 445.3,514.0 450.0,522.0 C454.7,530.0 460.8,543.7 463.0,548.0" fill="none" stroke="#7e848d" stroke-width="1.0"/><path d="M456.0,492.0 C458.7,495.8 467.7,506.7 472.0,515.0 C476.3,523.3 480.3,537.5 482.0,542.0" fill="none" stroke="#7e848d" stroke-width="1.0"/></g>
<defs><linearGradient id="ligm13g" gradientUnits="userSpaceOnUse" x1="255.0" y1="497.5" x2="219.0" y2="522.0"><stop offset="0" stop-color="#fff" stop-opacity="0.25"/><stop offset="0.207" stop-color="#fff" stop-opacity="1"/><stop offset="0.793" stop-color="#fff" stop-opacity="1"/><stop offset="1" stop-color="#fff" stop-opacity="0.25"/></linearGradient><mask id="ligm13" maskUnits="userSpaceOnUse" x="0" y="0" width="1408" height="768"><rect x="0" y="0" width="1408" height="768" fill="url(#ligm13g)"/></mask></defs><g opacity="1" mask="url(#ligm13)"><path d="M264.0,509.0 C261.0,511.0 251.8,516.5 246.0,521.0 C240.2,525.5 231.8,533.5 229.0,536.0 L209.0,508.0 C212.0,506.3 220.8,501.7 227.0,498.0 C233.2,494.3 242.8,488.0 246.0,486.0Z" fill="#eef0f3"/><path d="M262.7,507.4 C259.7,509.4 250.5,514.9 244.6,519.4 C238.8,523.8 230.4,531.6 227.6,534.0" fill="none" stroke="#ffffff" stroke-width="1.6" opacity="0.9"/><path d="M261.3,505.6 C258.3,507.6 249.0,513.1 243.0,517.4 C237.1,521.7 228.6,529.1 225.7,531.4" fill="none" stroke="#9096a0" stroke-width="1.17" opacity="0.78" stroke-linecap="round"/><path d="M260.1,504.1 C257.1,506.1 247.8,511.8 241.9,516.1 C236.0,520.4 227.6,527.7 224.7,530.0" fill="none" stroke="#ffffff" stroke-width="1.6" opacity="0.9"/><path d="M258.7,502.2 C255.7,504.2 246.4,510.0 240.5,514.3 C234.6,518.6 226.1,525.7 223.3,528.0" fill="none" stroke="#9096a0" stroke-width="1.00" opacity="0.88" stroke-linecap="round"/><path d="M257.6,500.8 C254.5,502.8 245.2,508.6 239.2,512.8 C233.3,517.0 224.8,523.8 221.9,526.0" fill="none" stroke="#ffffff" stroke-width="1.6" opacity="0.9"/><path d="M256.4,499.2 C253.3,501.2 243.9,507.0 237.9,511.2 C231.9,515.3 223.3,521.8 220.4,523.9" fill="none" stroke="#9096a0" stroke-width="0.99" opacity="0.98" stroke-linecap="round"/><path d="M255.0,497.5 C251.9,499.5 242.5,505.4 236.5,509.5 C230.5,513.6 221.9,519.9 219.0,522.0" fill="none" stroke="#ffffff" stroke-width="1.6" opacity="0.9"/><path d="M253.4,495.5 C250.3,497.5 240.8,503.4 234.7,507.3 C228.6,511.3 219.9,517.2 217.0,519.2" fill="none" stroke="#9096a0" stroke-width="1.18" opacity="0.70" stroke-linecap="round"/><path d="M252.4,494.2 C249.3,496.2 239.8,502.2 233.8,506.2 C227.7,510.2 219.1,516.0 216.1,518.0" fill="none" stroke="#ffffff" stroke-width="1.6" opacity="0.9"/><path d="M251.1,492.5 C247.9,494.4 238.2,500.4 232.0,504.1 C225.9,507.9 217.0,513.2 214.0,515.0" fill="none" stroke="#9096a0" stroke-width="1.14" opacity="0.65" stroke-linecap="round"/><path d="M249.9,490.9 C246.7,492.9 237.2,499.1 231.1,502.9 C225.0,506.8 216.2,512.2 213.3,514.0" fill="none" stroke="#ffffff" stroke-width="1.6" opacity="0.9"/><path d="M249.1,490.0 C245.9,491.9 236.2,498.0 230.0,501.7 C223.9,505.4 215.0,510.4 211.9,512.1" fill="none" stroke="#9096a0" stroke-width="0.82" opacity="0.70" stroke-linecap="round"/><path d="M264.0,509.0 C261.0,511.0 251.8,516.5 246.0,521.0 C240.2,525.5 231.8,533.5 229.0,536.0" fill="none" stroke="#7e848d" stroke-width="1.0"/><path d="M246.0,486.0 C242.8,488.0 233.2,494.3 227.0,498.0 C220.8,501.7 212.0,506.3 209.0,508.0" fill="none" stroke="#7e848d" stroke-width="1.0"/></g>
<defs><linearGradient id="ligm14g" gradientUnits="userSpaceOnUse" x1="339.0" y1="421.0" x2="313.5" y2="457.0"><stop offset="0" stop-color="#fff" stop-opacity="0.25"/><stop offset="0.204" stop-color="#fff" stop-opacity="1"/><stop offset="0.796" stop-color="#fff" stop-opacity="1"/><stop offset="1" stop-color="#fff" stop-opacity="0.25"/></linearGradient><mask id="ligm14" maskUnits="userSpaceOnUse" x="0" y="0" width="1408" height="768"><rect x="0" y="0" width="1408" height="768" fill="url(#ligm14g)"/></mask></defs><g opacity="1" mask="url(#ligm14)"><path d="M330.0,416.0 C328.0,419.3 322.2,430.0 318.0,436.0 C313.8,442.0 307.2,449.3 305.0,452.0 L322.0,462.0 C324.2,459.0 330.7,450.0 335.0,444.0 C339.3,438.0 345.8,429.0 348.0,426.0Z" fill="#eef0f3"/><path d="M331.5,416.8 C329.5,420.1 323.6,430.7 319.4,436.7 C315.2,442.7 308.6,450.1 306.4,452.8" fill="none" stroke="#ffffff" stroke-width="1.6" opacity="0.9"/><path d="M332.4,417.3 C330.4,420.6 324.7,431.2 320.7,437.3 C316.6,443.3 310.2,451.0 308.1,453.8" fill="none" stroke="#9096a0" stroke-width="1.12" opacity="0.96" stroke-linecap="round"/><path d="M334.5,418.5 C332.5,421.8 326.5,432.0 322.2,438.0 C318.0,444.0 311.4,451.8 309.2,454.5" fill="none" stroke="#ffffff" stroke-width="1.6" opacity="0.9"/><path d="M335.5,419.1 C333.5,422.3 327.7,432.6 323.6,438.6 C319.5,444.7 313.1,452.7 311.0,455.5" fill="none" stroke="#9096a0" stroke-width="1.06" opacity="0.66" stroke-linecap="round"/><path d="M337.5,420.2 C335.4,423.4 329.3,433.3 325.1,439.3 C320.8,445.3 314.2,453.4 312.1,456.2" fill="none" stroke="#ffffff" stroke-width="1.6" opacity="0.9"/><path d="M339.6,421.3 C337.5,424.5 331.3,434.3 327.1,440.3 C322.8,446.3 316.3,454.5 314.1,457.4" fill="none" stroke="#9096a0" stroke-width="0.88" opacity="0.98" stroke-linecap="round"/><path d="M340.5,421.8 C338.4,425.0 332.2,434.7 327.9,440.7 C323.7,446.7 317.1,455.0 314.9,457.8" fill="none" stroke="#ffffff" stroke-width="1.6" opacity="0.9"/><path d="M341.9,422.6 C339.8,425.7 333.5,435.3 329.3,441.3 C325.0,447.3 318.5,455.8 316.3,458.7" fill="none" stroke="#9096a0" stroke-width="1.20" opacity="0.93" stroke-linecap="round"/><path d="M343.5,423.5 C341.4,426.6 335.0,436.0 330.8,442.0 C326.5,448.0 319.9,456.6 317.8,459.5" fill="none" stroke="#ffffff" stroke-width="1.6" opacity="0.9"/><path d="M344.5,424.1 C342.4,427.1 336.1,436.5 331.9,442.5 C327.7,448.6 321.2,457.3 319.1,460.3" fill="none" stroke="#9096a0" stroke-width="1.00" opacity="0.74" stroke-linecap="round"/><path d="M330.0,416.0 C328.0,419.3 322.2,430.0 318.0,436.0 C313.8,442.0 307.2,449.3 305.0,452.0" fill="none" stroke="#7e848d" stroke-width="1.0"/><path d="M348.0,426.0 C345.8,429.0 339.3,438.0 335.0,444.0 C330.7,450.0 324.2,459.0 322.0,462.0" fill="none" stroke="#7e848d" stroke-width="1.0"/></g>
<defs><linearGradient id="ligm15g" gradientUnits="userSpaceOnUse" x1="379.0" y1="430.0" x2="379.5" y2="466.0"><stop offset="0" stop-color="#fff" stop-opacity="0.25"/><stop offset="0.250" stop-color="#fff" stop-opacity="1"/><stop offset="0.750" stop-color="#fff" stop-opacity="1"/><stop offset="1" stop-color="#fff" stop-opacity="0.25"/></linearGradient><mask id="ligm15" maskUnits="userSpaceOnUse" x="0" y="0" width="1408" height="768"><rect x="0" y="0" width="1408" height="768" fill="url(#ligm15g)"/></mask></defs><g opacity="1" mask="url(#ligm15)"><path d="M367.0,430.0 C367.5,432.8 369.3,441.0 370.0,447.0 C370.7,453.0 370.8,462.8 371.0,466.0 L388.0,466.0 C388.2,462.8 388.5,453.0 389.0,447.0 C389.5,441.0 390.7,432.8 391.0,430.0Z" fill="#eef0f3"/><path d="M369.0,430.0 C369.4,432.8 371.0,441.0 371.6,447.0 C372.2,453.0 372.3,462.8 372.4,466.0" fill="none" stroke="#ffffff" stroke-width="1.6" opacity="0.9"/><path d="M370.4,430.0 C370.8,432.8 372.3,441.0 372.8,447.0 C373.3,453.0 373.5,462.8 373.6,466.0" fill="none" stroke="#9096a0" stroke-width="1.09" opacity="0.61" stroke-linecap="round"/><path d="M373.0,430.0 C373.3,432.8 374.4,441.0 374.8,447.0 C375.1,453.0 375.2,462.8 375.2,466.0" fill="none" stroke="#ffffff" stroke-width="1.6" opacity="0.9"/><path d="M375.1,430.0 C375.3,432.8 376.1,441.0 376.3,447.0 C376.6,453.0 376.5,462.8 376.6,466.0" fill="none" stroke="#9096a0" stroke-width="0.80" opacity="0.73" stroke-linecap="round"/><path d="M377.0,430.0 C377.2,432.8 377.7,441.0 377.9,447.0 C378.1,453.0 378.1,462.8 378.1,466.0" fill="none" stroke="#ffffff" stroke-width="1.6" opacity="0.9"/><path d="M379.2,430.0 C379.3,432.8 379.6,441.0 379.6,447.0 C379.6,453.0 379.5,462.8 379.5,466.0" fill="none" stroke="#9096a0" stroke-width="0.81" opacity="0.99" stroke-linecap="round"/><path d="M381.0,430.0 C381.0,432.8 381.1,441.0 381.1,447.0 C381.1,453.0 380.9,462.8 380.9,466.0" fill="none" stroke="#ffffff" stroke-width="1.6" opacity="0.9"/><path d="M383.6,430.0 C383.5,432.8 383.3,441.0 383.2,447.0 C383.1,453.0 383.0,462.8 383.0,466.0" fill="none" stroke="#9096a0" stroke-width="0.83" opacity="0.71" stroke-linecap="round"/><path d="M385.0,430.0 C384.9,432.8 384.5,441.0 384.2,447.0 C384.0,453.0 383.8,462.8 383.8,466.0" fill="none" stroke="#ffffff" stroke-width="1.6" opacity="0.9"/><path d="M386.1,430.0 C386.0,432.8 385.8,441.0 385.7,447.0 C385.6,453.0 385.6,462.8 385.5,466.0" fill="none" stroke="#9096a0" stroke-width="0.90" opacity="0.65" stroke-linecap="round"/><path d="M367.0,430.0 C367.5,432.8 369.3,441.0 370.0,447.0 C370.7,453.0 370.8,462.8 371.0,466.0" fill="none" stroke="#7e848d" stroke-width="1.0"/><path d="M391.0,430.0 C390.7,432.8 389.5,441.0 389.0,447.0 C388.5,453.0 388.2,462.8 388.0,466.0" fill="none" stroke="#7e848d" stroke-width="1.0"/></g>
<defs><linearGradient id="ligm16g" gradientUnits="userSpaceOnUse" x1="340.5" y1="376.0" x2="429.0" y2="342.5"><stop offset="0" stop-color="#fff" stop-opacity="1"/><stop offset="0.000" stop-color="#fff" stop-opacity="1"/><stop offset="0.926" stop-color="#fff" stop-opacity="1"/><stop offset="1" stop-color="#fff" stop-opacity="0.25"/></linearGradient><mask id="ligm16" maskUnits="userSpaceOnUse" x="0" y="0" width="1408" height="768"><rect x="0" y="0" width="1408" height="768" fill="url(#ligm16g)"/></mask></defs><g opacity="1" mask="url(#ligm16)"><path d="M333.0,352.0 C337.5,351.0 350.2,348.5 360.0,346.0 C369.8,343.5 379.3,340.5 392.0,337.0 C404.7,333.5 428.7,327.0 436.0,325.0 L422.0,360.0 C418.3,362.7 407.7,370.7 400.0,376.0 C392.3,381.3 384.7,388.0 376.0,392.0 C367.3,396.0 352.7,398.7 348.0,400.0Z" fill="#f0e6e8"/><path d="M333.8,354.7 C338.3,353.6 351.1,351.1 360.9,348.6 C370.7,346.0 380.1,342.8 392.4,339.2 C404.8,335.6 428.1,329.0 435.2,326.9" fill="none" stroke="#ffffff" stroke-width="1.6" opacity="0.9"/><path d="M334.6,357.0 C339.1,356.1 352.1,353.9 361.9,351.4 C371.6,348.9 381.0,345.7 393.0,342.1 C405.1,338.5 427.2,332.1 434.0,330.0" fill="none" stroke="#9096a0" stroke-width="1.13" opacity="0.70" stroke-linecap="round"/><path d="M335.5,360.0 C340.0,358.9 353.0,356.4 362.7,353.7 C372.3,350.9 381.5,347.3 393.3,343.5 C405.2,339.7 426.9,332.9 433.7,330.8" fill="none" stroke="#ffffff" stroke-width="1.6" opacity="0.9"/><path d="M335.9,361.3 C340.5,360.4 353.8,358.4 363.4,355.9 C373.1,353.4 382.4,349.8 393.9,346.2 C405.4,342.5 426.0,336.0 432.4,334.0" fill="none" stroke="#9096a0" stroke-width="1.03" opacity="0.88" stroke-linecap="round"/><path d="M337.2,365.3 C341.7,364.2 354.9,361.7 364.4,358.8 C374.0,355.9 382.9,351.8 394.2,347.8 C405.5,343.8 425.8,336.9 432.1,334.7" fill="none" stroke="#ffffff" stroke-width="1.6" opacity="0.9"/><path d="M337.5,366.4 C342.1,365.3 355.3,362.7 364.8,359.8 C374.3,356.8 383.2,352.7 394.4,348.7 C405.6,344.6 425.6,337.6 431.8,335.4" fill="none" stroke="#9096a0" stroke-width="1.08" opacity="0.77" stroke-linecap="round"/><path d="M338.8,370.7 C343.4,369.5 356.8,367.0 366.2,363.9 C375.6,360.8 384.4,356.4 395.1,352.2 C405.8,348.0 424.6,340.9 430.6,338.6" fill="none" stroke="#ffffff" stroke-width="1.6" opacity="0.9"/><path d="M339.2,371.7 C343.8,370.7 357.5,368.7 366.9,365.9 C376.3,363.1 385.3,358.8 395.7,354.8 C406.0,350.8 423.7,344.0 429.3,341.8" fill="none" stroke="#9096a0" stroke-width="1.05" opacity="0.92" stroke-linecap="round"/><path d="M340.5,376.0 C345.1,374.8 358.8,372.2 368.0,369.0 C377.2,365.8 385.8,360.9 396.0,356.5 C406.2,352.1 423.5,344.8 429.0,342.5" fill="none" stroke="#ffffff" stroke-width="1.6" opacity="0.9"/><path d="M340.8,377.1 C345.5,376.1 359.4,374.0 368.7,371.0 C378.0,368.0 386.7,363.2 396.5,359.0 C406.4,354.7 422.6,347.7 427.8,345.4" fill="none" stroke="#9096a0" stroke-width="0.82" opacity="0.95" stroke-linecap="round"/><path d="M342.2,381.3 C346.8,380.1 360.7,377.5 369.8,374.1 C378.9,370.7 387.3,365.5 396.9,360.8 C406.5,356.2 422.4,348.8 427.4,346.4" fill="none" stroke="#ffffff" stroke-width="1.6" opacity="0.9"/><path d="M342.9,383.8 C347.5,382.6 361.5,379.9 370.6,376.4 C379.6,372.8 387.9,367.4 397.3,362.6 C406.6,357.9 421.9,350.3 426.8,347.9" fill="none" stroke="#9096a0" stroke-width="1.02" opacity="0.97" stroke-linecap="round"/><path d="M343.8,386.7 C348.5,385.4 362.6,382.8 371.6,379.2 C380.5,375.6 388.7,370.0 397.8,365.2 C406.8,360.3 421.2,352.8 425.9,350.3" fill="none" stroke="#ffffff" stroke-width="1.6" opacity="0.9"/><path d="M344.4,388.4 C349.0,387.2 363.2,384.4 372.1,380.8 C381.0,377.1 389.1,371.2 398.0,366.3 C406.9,361.4 420.9,353.7 425.5,351.2" fill="none" stroke="#9096a0" stroke-width="1.01" opacity="0.70" stroke-linecap="round"/><path d="M345.5,392.0 C350.1,390.7 364.5,388.1 373.3,384.3 C382.2,380.6 390.2,374.5 398.7,369.5 C407.2,364.5 420.1,356.7 424.3,354.2" fill="none" stroke="#ffffff" stroke-width="1.6" opacity="0.9"/><path d="M345.9,393.2 C350.5,391.9 364.9,389.3 373.7,385.5 C382.6,381.7 390.5,375.6 398.9,370.6 C407.2,365.5 419.8,357.7 423.9,355.2" fill="none" stroke="#9096a0" stroke-width="0.81" opacity="0.68" stroke-linecap="round"/><path d="M333.0,352.0 C337.5,351.0 350.2,348.5 360.0,346.0 C369.8,343.5 379.3,340.5 392.0,337.0 C404.7,333.5 428.7,327.0 436.0,325.0" fill="none" stroke="#7e848d" stroke-width="1.0"/><path d="M348.0,400.0 C352.7,398.7 367.3,396.0 376.0,392.0 C384.7,388.0 392.3,381.3 400.0,376.0 C407.7,370.7 418.3,362.7 422.0,360.0" fill="none" stroke="#7e848d" stroke-width="1.0"/></g>
<ellipse cx="360" cy="370" rx="32" ry="30" fill="url(#redGlow)"/>
<path d="M345.0,352.0 L349.3,348.0 L350.8,353.7 L355.1,349.7 L356.7,355.3 L361.0,351.4 L362.5,357.0 L366.8,353.0 L368.3,358.7 L372.6,354.7 L374.2,360.3 L378.5,356.4 L380.0,362.0" fill="none" stroke="#c0101a" stroke-width="1.4" stroke-linejoin="miter"/>
<path d="M380.0,362.0 L382.7,367.4 L377.7,370.7 L380.4,376.0 L375.3,379.3 L378.0,384.7 L373.0,388.0" fill="none" stroke="#c0101a" stroke-width="1.4" stroke-linejoin="miter"/>
<path d="M341.0,367.0 L340.8,372.5 L346.0,370.7 L345.8,376.1 L351.0,374.3 L350.8,379.8 L356.0,378.0 L355.8,383.5 L361.0,381.7 L360.8,387.1 L366.0,385.3 L365.8,390.8 L371.0,389.0" fill="none" stroke="#c0101a" stroke-width="1.4" stroke-linejoin="miter"/>
<path d="M344.0,356.0 L340.6,357.9 L343.0,361.0 L339.6,362.9 L342.0,366.0" fill="none" stroke="#c0101a" stroke-width="1.4" stroke-linejoin="miter"/></g>
<rect x="160" y="89" width="400" height="82" fill="url(#topFade)"/>
<defs><clipPath id="topOutClip"><rect x="150" y="124" width="420" height="60"/></clipPath><linearGradient id="outFade" x1="0" y1="124" x2="0" y2="140" gradientUnits="userSpaceOnUse"><stop offset="0" stop-color="#fff" stop-opacity="0.6"/><stop offset="1" stop-color="#fff" stop-opacity="0"/></linearGradient></defs>
<g clip-path="url(#topOutClip)">
<path d="M184.0,60.0 C184.3,70.8 183.8,100.0 186.0,125.0 C188.2,150.0 193.7,180.8 197.0,210.0 C200.3,239.2 204.5,272.0 206.0,300.0 C207.5,328.0 208.3,357.2 206.0,378.0 C203.7,398.8 197.2,411.7 192.0,425.0 C186.8,438.3 182.5,445.2 175.0,458.0 C167.5,470.8 156.0,483.0 147.0,502.0 C138.0,521.0 128.8,549.7 121.0,572.0 C113.2,594.3 107.0,621.2 100.0,636.0 C93.0,650.8 82.5,656.8 79.0,661.0" fill="none" stroke="#a86a55" stroke-width="1.6"/>
<path d="M571.0,661.0 C570.2,655.8 568.2,643.5 566.0,630.0 C563.8,616.5 560.7,595.0 558.0,580.0 C555.3,565.0 552.5,554.2 550.0,540.0 C547.5,525.8 545.5,507.8 543.0,495.0 C540.5,482.2 538.0,473.5 535.0,463.0 C532.0,452.5 528.2,442.5 525.0,432.0 C521.8,421.5 517.8,410.3 516.0,400.0 C514.2,389.7 514.2,379.0 514.0,370.0 C513.8,361.0 514.3,357.2 515.0,346.0 C515.7,334.8 516.0,319.0 518.0,303.0 C520.0,287.0 523.3,270.0 527.0,250.0 C530.7,230.0 536.7,203.8 540.0,183.0 C543.3,162.2 545.3,145.5 547.0,125.0 C548.7,104.5 549.5,70.8 550.0,60.0" fill="none" stroke="#a86a55" stroke-width="1.6"/>
<path d="M259.0,40.0 C259.0,58.3 259.3,119.2 259.0,150.0 C258.7,180.8 258.0,208.3 257.0,225.0 C256.0,241.7 253.7,245.8 253.0,250.0" fill="none" stroke="#6b5536" stroke-width="1.6"/>
<path d="M336.0,40.0 C336.2,54.2 335.8,103.3 337.0,125.0 C338.2,146.7 341.0,156.7 343.0,170.0 C345.0,183.3 346.7,192.0 349.0,205.0 C351.3,218.0 355.7,240.8 357.0,248.0" fill="none" stroke="#6b5536" stroke-width="1.6"/>
<path d="M404.0,40.0 C404.0,54.2 404.2,103.3 404.0,125.0 C403.8,146.7 403.3,155.8 403.0,170.0 C402.7,184.2 402.8,196.7 402.0,210.0 C401.2,223.3 398.7,243.3 398.0,250.0" fill="none" stroke="#6b5536" stroke-width="1.6"/>
<path d="M472.0,40.0 C472.0,54.2 471.8,103.3 472.0,125.0 C472.2,146.7 472.5,155.8 473.0,170.0 C473.5,184.2 474.0,196.7 475.0,210.0 C476.0,223.3 478.3,243.3 479.0,250.0" fill="none" stroke="#6b5536" stroke-width="1.6"/>
</g>
<rect x="0" y="0" width="1408" height="89" fill="#4679a6"/>
<rect x="0" y="87.5" width="1408" height="1.5" fill="#3e6790"/>
<text x="370" y="62" font-size="49" font-weight="bold" text-anchor="start" fill="#fff" stroke="#fff" stroke-width="0" textLength="335" lengthAdjust="spacingAndGlyphs" >WRIST SPRAIN</text>
<text x="718" y="62" font-size="38" font-weight="normal" text-anchor="start" fill="#fff" stroke="#fff" stroke-width="0" textLength="326" lengthAdjust="spacingAndGlyphs" >( ligament damage)</text>
<rect x="734.5" y="119" width="451" height="112" rx="11" fill="#e1eef8" stroke="#8ba2b8" stroke-width="1.4"/>
<rect x="736.5" y="121" width="447" height="108" rx="9.5" fill="none" stroke="#f2f8fc" stroke-width="1.5"/>
<text x="749.5" y="146.5" font-size="16" font-weight="normal" text-anchor="start" fill="#1a1a1a" stroke="#1a1a1a" stroke-width="0.25" textLength="411" lengthAdjust="spacingAndGlyphs" >A <tspan font-weight="bold">WRIST SPRAIN</tspan> is an injury to the ligaments (tough, fibrous bands</text>
<text x="749.5" y="163.8" font-size="16" font-weight="normal" text-anchor="start" fill="#1a1a1a" stroke="#1a1a1a" stroke-width="0.25" textLength="418" lengthAdjust="spacingAndGlyphs" >of tissue) that connect the bones of the wrist joint. This typically occurs</text>
<text x="749.5" y="181.1" font-size="16" font-weight="normal" text-anchor="start" fill="#1a1a1a" stroke="#1a1a1a" stroke-width="0.25" textLength="409" lengthAdjust="spacingAndGlyphs" >when the wrist is forced into an abnormal position (hyperextension or</text>
<text x="749.5" y="198.4" font-size="16" font-weight="normal" text-anchor="start" fill="#1a1a1a" stroke="#1a1a1a" stroke-width="0.25" textLength="388" lengthAdjust="spacingAndGlyphs" >hyperflexion), resulting in stretching or tearing of these ligaments,</text>
<text x="749.5" y="215.7" font-size="16" font-weight="normal" text-anchor="start" fill="#1a1a1a" stroke="#1a1a1a" stroke-width="0.25" textLength="316.5" lengthAdjust="spacingAndGlyphs" >accompanied by pain, swelling, and reduced mobility.</text>
<rect x="775.5" y="601" width="397" height="130" rx="11" fill="#e1eef8" stroke="#8ba2b8" stroke-width="1.4"/>
<rect x="777.5" y="603" width="393" height="126" rx="9.5" fill="none" stroke="#f2f8fc" stroke-width="1.5"/>
<text x="792.8" y="631.5" font-size="16.5" font-weight="normal" text-anchor="start" fill="#1a1a1a" stroke="#1a1a1a" stroke-width="0.25" textLength="364" lengthAdjust="spacingAndGlyphs" >A <tspan font-weight="bold">WRIST SPRAIN</tspan> is an injury to the ligaments (tough, fibrous</text>
<text x="792.8" y="648.5" font-size="16.5" font-weight="normal" text-anchor="start" fill="#1a1a1a" stroke="#1a1a1a" stroke-width="0.25" textLength="344.5" lengthAdjust="spacingAndGlyphs" >bands of tissue) that connect the bones of the wrist joint.</text>
<text x="792.8" y="665.5" font-size="16.5" font-weight="normal" text-anchor="start" fill="#1a1a1a" stroke="#1a1a1a" stroke-width="0.25" textLength="376" lengthAdjust="spacingAndGlyphs" >This typically occurs when the wrist is forced into an abnormal</text>
<text x="792.8" y="682.5" font-size="16.5" font-weight="normal" text-anchor="start" fill="#1a1a1a" stroke="#1a1a1a" stroke-width="0.25" textLength="323.4" lengthAdjust="spacingAndGlyphs" >position (<tspan font-weight="bold">hyperextension</tspan> or <tspan font-weight="bold">hyperflexion</tspan>), resulting in</text>
<text x="792.8" y="699.5" font-size="16.5" font-weight="normal" text-anchor="start" fill="#1a1a1a" stroke="#1a1a1a" stroke-width="0.25" textLength="343.5" lengthAdjust="spacingAndGlyphs" >stretching or tearing of these ligaments, accompanied by</text>
<text x="792.8" y="716.5" font-size="16.5" font-weight="normal" text-anchor="start" fill="#1a1a1a" stroke="#1a1a1a" stroke-width="0.25" textLength="218" lengthAdjust="spacingAndGlyphs" >pain, swelling, and reduced mobility.</text>
<rect x="1213.5" y="105.5" width="161" height="626" rx="9" fill="#dcedf8"/>
<text x="1257.5" y="134" font-size="19.5" font-weight="bold" text-anchor="start" fill="#111" stroke="#111" stroke-width="0.25" textLength="72.5" lengthAdjust="spacingAndGlyphs" >GRADES</text>
<text x="1258.3" y="295" font-size="19" font-weight="bold" text-anchor="start" fill="#111" stroke="#111" stroke-width="0.25" textLength="71" lengthAdjust="spacingAndGlyphs" >Grade 1:</text>
<text x="1256" y="314.6" font-size="19" font-weight="normal" text-anchor="start" fill="#111" stroke="#111" stroke-width="0.25" textLength="75" lengthAdjust="spacingAndGlyphs" >Stretched</text>
<text x="1258.4" y="485" font-size="19" font-weight="bold" text-anchor="start" fill="#111" stroke="#111" stroke-width="0.25" textLength="70" lengthAdjust="spacingAndGlyphs" >Grade 2:</text>
<text x="1249.6" y="504.9" font-size="19" font-weight="normal" text-anchor="start" fill="#111" stroke="#111" stroke-width="0.25" textLength="88.4" lengthAdjust="spacingAndGlyphs" >Partial Tear</text>
<text x="1259.5" y="696" font-size="19" font-weight="bold" text-anchor="start" fill="#111" stroke="#111" stroke-width="0.25" textLength="68" lengthAdjust="spacingAndGlyphs" >Grade 3:</text>
<text x="1237.5" y="715.2" font-size="19" font-weight="normal" text-anchor="start" fill="#111" stroke="#111" stroke-width="0.25" textLength="113" lengthAdjust="spacingAndGlyphs" >Complete Tear</text>
<defs><clipPath id="detClip"><rect x="820" y="257" width="352" height="300" rx="12"/></clipPath><radialGradient id="inflam"><stop offset="0" stop-color="#e83c3c" stop-opacity="0.8"/><stop offset="0.5" stop-color="#ef6a6a" stop-opacity="0.45"/><stop offset="1" stop-color="#f28888" stop-opacity="0"/></radialGradient></defs>
<rect x="820" y="257" width="352" height="300" rx="12" fill="#fff"/>
<g clip-path="url(#detClip)">
<rect x="835" y="250" width="345" height="320" fill="#f8d8cc"/>
<path d="M835,470 C870,470 900,500 960,515 C1000,525 1010,540 1000,565 L835,565 Z" fill="#efc0bf"/>
<path d="M1155,440 L1175,440 L1175,540 L1155,540 Z" fill="#ecc4c4"/>
<path d="M892.0,228.0 C873.3,232.0 883.8,246.5 879.6,256.0 C875.4,265.5 870.8,277.0 867.0,285.0 C863.2,293.0 858.6,296.0 856.7,304.0 C854.8,312.0 854.6,322.5 855.6,333.0 C856.6,343.5 859.4,358.7 863.0,367.0 C866.6,375.3 870.0,378.8 877.5,383.0 C885.0,387.2 897.6,391.7 908.0,392.0 C918.4,392.3 931.2,387.2 940.0,385.0 C948.8,382.8 952.3,381.7 961.0,379.0 C969.7,376.3 983.0,372.5 992.0,369.0 C1001.0,365.5 1009.1,364.0 1015.0,358.0 C1020.9,352.0 1024.9,341.3 1027.5,333.0 C1030.1,324.7 1031.3,316.7 1030.6,308.0 C1029.8,299.3 1027.3,289.7 1023.0,281.0 C1018.7,272.3 1009.8,264.2 1004.6,256.0 C999.4,247.8 1010.8,236.7 992.0,232.0 C973.2,227.3 910.7,224.0 892.0,228.0Z" fill="#dfcba3"/><path d="M896.0,240.0 C880.8,250.0 885.0,282.5 884.0,300.0 C883.0,317.5 884.2,335.0 890.0,345.0 C895.8,355.0 907.2,358.2 919.0,360.0 C930.8,361.8 949.2,358.5 961.0,356.0 C972.8,353.5 983.2,351.0 990.0,345.0 C996.8,339.0 1000.7,329.2 1002.0,320.0 C1003.3,310.8 1001.2,300.7 998.0,290.0 C994.8,279.3 986.8,264.3 983.0,256.0 C979.2,247.7 989.5,242.7 975.0,240.0 C960.5,237.3 911.2,230.0 896.0,240.0Z" fill="#eee3c6" filter="url(#blur15)"/><path d="M892.0,228.0 C873.3,232.0 883.8,246.5 879.6,256.0 C875.4,265.5 870.8,277.0 867.0,285.0 C863.2,293.0 858.6,296.0 856.7,304.0 C854.8,312.0 854.6,322.5 855.6,333.0 C856.6,343.5 859.4,358.7 863.0,367.0 C866.6,375.3 870.0,378.8 877.5,383.0 C885.0,387.2 897.6,391.7 908.0,392.0 C918.4,392.3 931.2,387.2 940.0,385.0 C948.8,382.8 952.3,381.7 961.0,379.0 C969.7,376.3 983.0,372.5 992.0,369.0 C1001.0,365.5 1009.1,364.0 1015.0,358.0 C1020.9,352.0 1024.9,341.3 1027.5,333.0 C1030.1,324.7 1031.3,316.7 1030.6,308.0 C1029.8,299.3 1027.3,289.7 1023.0,281.0 C1018.7,272.3 1009.8,264.2 1004.6,256.0 C999.4,247.8 1010.8,236.7 992.0,232.0 C973.2,227.3 910.7,224.0 892.0,228.0Z" fill="none" stroke="#6b5536" stroke-width="1.8"/>
<path d="M1064.0,232.0 C1047.8,236.0 1056.8,247.8 1052.5,256.0 C1048.2,264.2 1041.0,272.3 1038.0,281.0 C1035.0,289.7 1035.3,296.5 1034.8,308.0 C1034.3,319.5 1033.1,338.0 1034.8,350.0 C1036.5,362.0 1038.3,372.0 1045.0,380.0 C1051.7,388.0 1061.7,394.3 1075.0,398.0 C1088.3,401.7 1112.4,402.3 1125.0,402.0 C1137.6,401.7 1144.8,402.2 1150.4,396.0 C1156.0,389.8 1157.7,378.5 1158.8,364.6 C1159.8,350.7 1157.7,330.6 1156.7,312.5 C1155.7,294.4 1153.6,269.4 1152.5,256.0 C1151.4,242.6 1164.8,236.0 1150.0,232.0 C1135.2,228.0 1080.2,228.0 1064.0,232.0Z" fill="#dfcba3"/><path d="M1074.0,240.0 C1063.7,242.7 1072.3,247.7 1070.0,256.0 C1067.7,264.3 1063.0,279.3 1060.0,290.0 C1057.0,300.7 1052.3,308.3 1052.0,320.0 C1051.7,331.7 1051.7,349.0 1058.0,360.0 C1064.3,371.0 1078.7,381.7 1090.0,386.0 C1101.3,390.3 1118.7,394.8 1126.0,386.0 C1133.3,377.2 1133.0,357.3 1134.0,333.0 C1135.0,308.7 1142.0,255.5 1132.0,240.0 C1122.0,224.5 1084.3,237.3 1074.0,240.0Z" fill="#eee3c6" filter="url(#blur15)"/><path d="M1064.0,232.0 C1047.8,236.0 1056.8,247.8 1052.5,256.0 C1048.2,264.2 1041.0,272.3 1038.0,281.0 C1035.0,289.7 1035.3,296.5 1034.8,308.0 C1034.3,319.5 1033.1,338.0 1034.8,350.0 C1036.5,362.0 1038.3,372.0 1045.0,380.0 C1051.7,388.0 1061.7,394.3 1075.0,398.0 C1088.3,401.7 1112.4,402.3 1125.0,402.0 C1137.6,401.7 1144.8,402.2 1150.4,396.0 C1156.0,389.8 1157.7,378.5 1158.8,364.6 C1159.8,350.7 1157.7,330.6 1156.7,312.5 C1155.7,294.4 1153.6,269.4 1152.5,256.0 C1151.4,242.6 1164.8,236.0 1150.0,232.0 C1135.2,228.0 1080.2,228.0 1064.0,232.0Z" fill="none" stroke="#6b5536" stroke-width="1.8"/>
<path d="M810.0,545.0 C816.0,534.2 835.5,517.8 846.0,510.0 C856.5,502.2 862.5,499.7 873.0,498.0 C883.5,496.3 897.6,496.9 908.8,500.0 C919.9,503.1 927.8,512.5 940.0,516.7 C952.2,520.9 973.7,522.3 981.7,525.0 C989.7,527.7 986.3,524.7 988.0,533.0 C989.7,541.3 1021.7,568.0 992.0,575.0 C962.3,582.0 840.3,580.0 810.0,575.0 C779.7,570.0 804.0,555.8 810.0,545.0Z" fill="#dfcba3"/><path d="M827.0,575.0 C815.5,567.5 838.3,539.2 846.0,530.0 C853.7,520.8 863.3,520.0 873.0,520.0 C882.7,520.0 897.0,520.8 904.0,530.0 C911.0,539.2 927.8,567.5 915.0,575.0 C902.2,582.5 838.5,582.5 827.0,575.0Z" fill="#eee3c6" filter="url(#blur15)"/><path d="M810.0,545.0 C816.0,534.2 835.5,517.8 846.0,510.0 C856.5,502.2 862.5,499.7 873.0,498.0 C883.5,496.3 897.6,496.9 908.8,500.0 C919.9,503.1 927.8,512.5 940.0,516.7 C952.2,520.9 973.7,522.3 981.7,525.0 C989.7,527.7 986.3,524.7 988.0,533.0 C989.7,541.3 1021.7,568.0 992.0,575.0 C962.3,582.0 840.3,580.0 810.0,575.0 C779.7,570.0 804.0,555.8 810.0,545.0Z" fill="none" stroke="#6b5536" stroke-width="1.8"/>
<path d="M898.0,405.0 C907.0,403.7 927.2,398.0 940.0,398.0 C952.8,398.0 964.2,400.5 975.0,405.0 C985.8,409.5 998.3,415.8 1005.0,425.0 C1011.7,434.2 1017.2,447.5 1015.0,460.0 C1012.8,472.5 1001.0,491.2 992.0,500.0 C983.0,508.8 971.2,511.2 960.8,512.5 C950.4,513.8 940.1,512.2 929.6,508.0 C919.1,503.8 906.3,494.7 898.0,487.5 C889.7,480.3 883.4,474.0 879.6,464.6 C875.8,455.2 873.9,440.8 875.0,431.0 C876.1,421.2 882.2,410.3 886.0,406.0 C889.8,401.7 889.0,406.3 898.0,405.0Z" fill="#dfcba3"/><path d="M900.0,440.0 C899.3,450.0 901.3,474.5 908.0,485.0 C914.7,495.5 928.5,501.0 940.0,503.0 C951.5,505.0 967.8,503.8 977.0,497.0 C986.2,490.2 993.7,473.2 995.0,462.0 C996.3,450.8 992.5,437.3 985.0,430.0 C977.5,422.7 962.2,418.8 950.0,418.0 C937.8,417.2 920.3,421.3 912.0,425.0 C903.7,428.7 900.7,430.0 900.0,440.0Z" fill="#eee3c6" filter="url(#blur15)"/><path d="M898.0,405.0 C907.0,403.7 927.2,398.0 940.0,398.0 C952.8,398.0 964.2,400.5 975.0,405.0 C985.8,409.5 998.3,415.8 1005.0,425.0 C1011.7,434.2 1017.2,447.5 1015.0,460.0 C1012.8,472.5 1001.0,491.2 992.0,500.0 C983.0,508.8 971.2,511.2 960.8,512.5 C950.4,513.8 940.1,512.2 929.6,508.0 C919.1,503.8 906.3,494.7 898.0,487.5 C889.7,480.3 883.4,474.0 879.6,464.6 C875.8,455.2 873.9,440.8 875.0,431.0 C876.1,421.2 882.2,410.3 886.0,406.0 C889.8,401.7 889.0,406.3 898.0,405.0Z" fill="none" stroke="#6b5536" stroke-width="1.8"/>
<path d="M1010.8,487.5 C1016.4,478.8 1020.6,481.3 1031.7,473.0 C1042.8,464.7 1063.6,443.8 1077.5,437.5 C1091.4,431.2 1102.5,433.3 1115.0,435.4 C1127.5,437.5 1145.5,440.3 1152.5,450.0 C1159.5,459.7 1157.4,478.5 1156.7,493.8 C1156.0,509.0 1150.4,528.2 1148.3,541.7 C1146.2,555.2 1168.7,569.5 1144.0,575.0 C1119.3,580.5 1024.7,583.3 1000.4,575.0 C976.1,566.7 996.6,539.6 998.3,525.0 C1000.0,510.4 1005.2,496.2 1010.8,487.5Z" fill="#dfcba3"/><path d="M1011.0,575.0 C990.8,563.2 1008.8,520.0 1015.0,504.0 C1021.2,488.0 1031.3,486.7 1048.0,479.0 C1064.7,471.3 1099.7,456.5 1115.0,458.0 C1130.3,459.5 1136.5,468.5 1140.0,488.0 C1143.5,507.5 1157.5,560.5 1136.0,575.0 C1114.5,589.5 1031.2,586.8 1011.0,575.0Z" fill="#eee3c6" filter="url(#blur15)"/><path d="M1010.8,487.5 C1016.4,478.8 1020.6,481.3 1031.7,473.0 C1042.8,464.7 1063.6,443.8 1077.5,437.5 C1091.4,431.2 1102.5,433.3 1115.0,435.4 C1127.5,437.5 1145.5,440.3 1152.5,450.0 C1159.5,459.7 1157.4,478.5 1156.7,493.8 C1156.0,509.0 1150.4,528.2 1148.3,541.7 C1146.2,555.2 1168.7,569.5 1144.0,575.0 C1119.3,580.5 1024.7,583.3 1000.4,575.0 C976.1,566.7 996.6,539.6 998.3,525.0 C1000.0,510.4 1005.2,496.2 1010.8,487.5Z" fill="none" stroke="#6b5536" stroke-width="1.8"/>
<ellipse cx="1030" cy="415" rx="95" ry="80" fill="url(#inflam)" opacity="0.75"/>
<ellipse cx="1025" cy="420" rx="45" ry="45" fill="url(#inflam)"/>
<ellipse cx="925" cy="425" rx="60" ry="45" fill="url(#inflam)" opacity="0.55"/>
<defs><linearGradient id="ligm17g" gradientUnits="userSpaceOnUse" x1="869.5" y1="340.0" x2="830.0" y2="500.0"><stop offset="0" stop-color="#fff" stop-opacity="0.25"/><stop offset="0.055" stop-color="#fff" stop-opacity="1"/><stop offset="0.945" stop-color="#fff" stop-opacity="1"/><stop offset="1" stop-color="#fff" stop-opacity="0.25"/></linearGradient><mask id="ligm17" maskUnits="userSpaceOnUse" x="0" y="0" width="1408" height="768"><rect x="0" y="0" width="1408" height="768" fill="url(#ligm17g)"/></mask></defs><g opacity="1" mask="url(#ligm17)"><path d="M855.0,325.0 C854.2,337.5 853.3,377.5 850.0,400.0 C846.7,422.5 840.8,443.3 835.0,460.0 C829.2,476.7 818.3,493.3 815.0,500.0 L845.0,500.0 C847.8,492.5 856.2,470.0 862.0,455.0 C867.8,440.0 876.3,426.7 880.0,410.0 C883.7,393.3 883.3,364.2 884.0,355.0Z" fill="#eef0f3"/><path d="M857.4,327.5 C856.6,339.7 855.9,378.8 852.5,400.8 C849.1,422.8 843.1,443.1 837.2,459.6 C831.4,476.1 820.8,493.3 817.5,500.0" fill="none" stroke="#ffffff" stroke-width="1.6" opacity="0.9"/><path d="M859.4,329.5 C858.6,341.5 857.9,379.9 854.5,401.5 C851.2,423.1 844.9,442.8 839.1,459.2 C833.2,475.7 822.8,493.2 819.5,500.0" fill="none" stroke="#9096a0" stroke-width="1.16" opacity="0.72" stroke-linecap="round"/><path d="M862.2,332.5 C861.5,344.2 860.9,381.5 857.5,402.5 C854.1,423.5 847.6,442.5 841.8,458.8 C835.9,475.0 825.7,493.1 822.5,500.0" fill="none" stroke="#ffffff" stroke-width="1.6" opacity="0.9"/><path d="M864.7,335.0 C863.8,346.4 863.3,382.7 859.7,403.2 C856.2,423.8 849.5,442.3 843.5,458.4 C837.6,474.5 827.4,493.1 824.2,500.0" fill="none" stroke="#9096a0" stroke-width="0.98" opacity="0.61" stroke-linecap="round"/><path d="M867.1,337.5 C866.3,348.6 866.0,384.1 862.5,404.2 C859.0,424.2 852.1,441.9 846.2,457.9 C840.4,473.9 830.6,493.0 827.5,500.0" fill="none" stroke="#ffffff" stroke-width="1.6" opacity="0.9"/><path d="M868.9,339.4 C868.1,350.3 867.8,385.0 864.2,404.7 C860.7,424.4 853.5,441.8 847.6,457.7 C841.7,473.5 832.0,492.9 828.8,500.0" fill="none" stroke="#9096a0" stroke-width="1.15" opacity="0.82" stroke-linecap="round"/><path d="M871.9,342.5 C871.2,353.1 871.0,386.7 867.5,405.8 C864.0,424.9 856.6,441.4 850.8,457.1 C844.9,472.8 835.5,492.8 832.5,500.0" fill="none" stroke="#ffffff" stroke-width="1.6" opacity="0.9"/><path d="M873.6,344.3 C872.9,354.6 873.0,387.8 869.5,406.5 C866.0,425.2 858.5,441.1 852.7,456.7 C847.0,472.3 837.9,492.8 834.9,500.0" fill="none" stroke="#9096a0" stroke-width="1.24" opacity="0.64" stroke-linecap="round"/><path d="M876.8,347.5 C876.0,357.5 876.1,389.4 872.5,407.5 C868.9,425.6 861.1,440.8 855.2,456.2 C849.4,471.7 840.5,492.7 837.5,500.0" fill="none" stroke="#ffffff" stroke-width="1.6" opacity="0.9"/><path d="M879.9,350.8 C879.2,360.4 879.2,391.0 875.5,408.5 C871.7,426.0 863.6,440.6 857.6,455.8 C851.7,471.1 842.8,492.6 839.8,500.0" fill="none" stroke="#9096a0" stroke-width="1.04" opacity="0.93" stroke-linecap="round"/><path d="M855.0,325.0 C854.2,337.5 853.3,377.5 850.0,400.0 C846.7,422.5 840.8,443.3 835.0,460.0 C829.2,476.7 818.3,493.3 815.0,500.0" fill="none" stroke="#7e848d" stroke-width="1.0"/><path d="M884.0,355.0 C883.3,364.2 883.7,393.3 880.0,410.0 C876.3,426.7 867.8,440.0 862.0,455.0 C856.2,470.0 847.8,492.5 845.0,500.0" fill="none" stroke="#7e848d" stroke-width="1.0"/></g>
<defs><linearGradient id="ligm18g" gradientUnits="userSpaceOnUse" x1="901.0" y1="347.5" x2="921.5" y2="408.5"><stop offset="0" stop-color="#fff" stop-opacity="0.25"/><stop offset="0.140" stop-color="#fff" stop-opacity="1"/><stop offset="0.860" stop-color="#fff" stop-opacity="1"/><stop offset="1" stop-color="#fff" stop-opacity="0.25"/></linearGradient><mask id="ligm18" maskUnits="userSpaceOnUse" x="0" y="0" width="1408" height="768"><rect x="0" y="0" width="1408" height="768" fill="url(#ligm18g)"/></mask></defs><g opacity="1" mask="url(#ligm18)"><path d="M884.0,350.0 C885.0,355.8 887.7,374.7 890.0,385.0 C892.3,395.3 896.7,407.5 898.0,412.0 L945.0,405.0 C942.5,400.5 934.5,388.0 930.0,378.0 C925.5,368.0 920.0,350.5 918.0,345.0Z" fill="#eef0f3"/><path d="M886.8,349.6 C887.9,355.4 890.8,374.1 893.3,384.4 C895.8,394.7 900.5,406.9 901.9,411.4" fill="none" stroke="#ffffff" stroke-width="1.6" opacity="0.9"/><path d="M889.4,349.2 C890.6,355.0 893.8,373.6 896.5,383.9 C899.3,394.1 904.3,406.3 905.9,410.8" fill="none" stroke="#9096a0" stroke-width="1.13" opacity="0.99" stroke-linecap="round"/><path d="M892.5,348.8 C893.8,354.5 897.1,373.0 900.0,383.2 C902.9,393.5 908.1,405.8 909.8,410.2" fill="none" stroke="#ffffff" stroke-width="1.6" opacity="0.9"/><path d="M894.9,348.4 C896.4,354.1 900.3,372.4 903.6,382.6 C906.9,392.8 913.0,405.0 914.9,409.5" fill="none" stroke="#9096a0" stroke-width="1.14" opacity="0.85" stroke-linecap="round"/><path d="M898.2,347.9 C899.6,353.6 903.4,371.9 906.7,382.1 C909.9,392.3 915.8,404.6 917.6,409.1" fill="none" stroke="#ffffff" stroke-width="1.6" opacity="0.9"/><path d="M900.7,347.5 C902.2,353.2 906.2,371.4 909.6,381.6 C913.0,391.7 919.0,404.1 920.9,408.6" fill="none" stroke="#9096a0" stroke-width="0.85" opacity="0.65" stroke-linecap="round"/><path d="M903.8,347.1 C905.4,352.7 909.7,370.8 913.3,380.9 C916.9,391.1 923.4,403.4 925.4,407.9" fill="none" stroke="#ffffff" stroke-width="1.6" opacity="0.9"/><path d="M905.5,346.8 C907.3,352.4 912.2,370.3 916.4,380.4 C920.5,390.4 927.9,402.7 930.2,407.2" fill="none" stroke="#9096a0" stroke-width="0.94" opacity="0.67" stroke-linecap="round"/><path d="M909.5,346.2 C911.2,351.8 916.0,369.7 920.0,379.8 C924.0,389.8 931.0,402.2 933.2,406.8" fill="none" stroke="#ffffff" stroke-width="1.6" opacity="0.9"/><path d="M911.2,346.0 C913.2,351.5 918.7,369.2 923.2,379.2 C927.8,389.2 935.9,401.5 938.4,406.0" fill="none" stroke="#9096a0" stroke-width="1.21" opacity="0.87" stroke-linecap="round"/><path d="M884.0,350.0 C885.0,355.8 887.7,374.7 890.0,385.0 C892.3,395.3 896.7,407.5 898.0,412.0" fill="none" stroke="#7e848d" stroke-width="1.0"/><path d="M918.0,345.0 C920.0,350.5 925.5,368.0 930.0,378.0 C934.5,388.0 942.5,400.5 945.0,405.0" fill="none" stroke="#7e848d" stroke-width="1.0"/></g>
<defs><linearGradient id="ligm19g" gradientUnits="userSpaceOnUse" x1="1123.0" y1="376.0" x2="1125.5" y2="469.0"><stop offset="0" stop-color="#fff" stop-opacity="0.25"/><stop offset="0.054" stop-color="#fff" stop-opacity="1"/><stop offset="0.946" stop-color="#fff" stop-opacity="1"/><stop offset="1" stop-color="#fff" stop-opacity="0.25"/></linearGradient><mask id="ligm19" maskUnits="userSpaceOnUse" x="0" y="0" width="1408" height="768"><rect x="0" y="0" width="1408" height="768" fill="url(#ligm19g)"/></mask></defs><g opacity="1" mask="url(#ligm19)"><path d="M1102.0,380.0 C1101.7,386.7 1100.2,405.3 1100.0,420.0 C1099.8,434.7 1100.8,460.0 1101.0,468.0 L1150.0,470.0 C1149.3,461.7 1147.0,436.3 1146.0,420.0 C1145.0,403.7 1144.3,380.0 1144.0,372.0Z" fill="#eef0f3"/><path d="M1105.5,379.3 C1105.2,386.1 1103.9,405.2 1103.8,420.0 C1103.8,434.8 1104.9,460.1 1105.1,468.2" fill="none" stroke="#ffffff" stroke-width="1.6" opacity="0.9"/><path d="M1108.3,378.8 C1108.0,385.7 1106.8,405.1 1106.8,420.0 C1106.8,434.9 1107.9,460.2 1108.2,468.3" fill="none" stroke="#9096a0" stroke-width="1.21" opacity="0.78" stroke-linecap="round"/><path d="M1112.5,378.0 C1112.3,385.0 1111.4,404.9 1111.5,420.0 C1111.6,435.1 1113.0,460.4 1113.2,468.5" fill="none" stroke="#ffffff" stroke-width="1.6" opacity="0.9"/><path d="M1114.8,377.6 C1114.8,384.6 1114.2,404.8 1114.6,420.0 C1115.0,435.2 1116.7,460.5 1117.1,468.7" fill="none" stroke="#9096a0" stroke-width="1.20" opacity="0.98" stroke-linecap="round"/><path d="M1119.5,376.7 C1119.4,383.9 1118.8,404.6 1119.2,420.0 C1119.5,435.4 1121.0,460.7 1121.4,468.8" fill="none" stroke="#ffffff" stroke-width="1.6" opacity="0.9"/><path d="M1124.6,375.7 C1124.5,383.1 1123.8,404.4 1124.0,420.0 C1124.1,435.6 1125.4,460.8 1125.7,469.0" fill="none" stroke="#9096a0" stroke-width="1.19" opacity="0.99" stroke-linecap="round"/><path d="M1126.5,375.3 C1126.6,382.8 1126.3,404.4 1126.8,420.0 C1127.3,435.6 1129.1,461.0 1129.6,469.2" fill="none" stroke="#ffffff" stroke-width="1.6" opacity="0.9"/><path d="M1129.4,374.8 C1129.5,382.3 1129.4,404.2 1130.1,420.0 C1130.7,435.8 1132.6,461.1 1133.1,469.3" fill="none" stroke="#9096a0" stroke-width="1.05" opacity="0.75" stroke-linecap="round"/><path d="M1133.5,374.0 C1133.7,381.7 1133.8,404.1 1134.5,420.0 C1135.2,435.9 1137.2,461.2 1137.8,469.5" fill="none" stroke="#ffffff" stroke-width="1.6" opacity="0.9"/><path d="M1136.9,373.3 C1137.1,381.1 1137.5,403.9 1138.3,420.0 C1139.1,436.1 1141.3,461.4 1141.8,469.7" fill="none" stroke="#9096a0" stroke-width="1.16" opacity="0.80" stroke-linecap="round"/><path d="M1102.0,380.0 C1101.7,386.7 1100.2,405.3 1100.0,420.0 C1099.8,434.7 1100.8,460.0 1101.0,468.0" fill="none" stroke="#7e848d" stroke-width="1.4"/><path d="M1144.0,372.0 C1144.3,380.0 1145.0,403.7 1146.0,420.0 C1147.0,436.3 1149.3,461.7 1150.0,470.0" fill="none" stroke="#7e848d" stroke-width="1.4"/></g>
<defs><linearGradient id="ligm20g" gradientUnits="userSpaceOnUse" x1="1015.5" y1="400.0" x2="1064.5" y2="360.0"><stop offset="0" stop-color="#fff" stop-opacity="1"/><stop offset="0.000" stop-color="#fff" stop-opacity="1"/><stop offset="1.000" stop-color="#fff" stop-opacity="1"/><stop offset="1" stop-color="#fff" stop-opacity="1"/></linearGradient><mask id="ligm20" maskUnits="userSpaceOnUse" x="0" y="0" width="1408" height="768"><rect x="0" y="0" width="1408" height="768" fill="url(#ligm20g)"/></mask></defs><g opacity="1" mask="url(#ligm20)"><path d="M994.0,380.0 C998.3,376.7 1011.0,367.3 1020.0,360.0 C1029.0,352.7 1043.3,340.0 1048.0,336.0 L1081.0,384.0 C1077.5,387.0 1067.3,396.0 1060.0,402.0 C1052.7,408.0 1040.8,417.0 1037.0,420.0Z" fill="#f3dfe2"/><path d="M999.5,385.1 C1003.8,381.9 1016.6,372.8 1025.5,365.8 C1034.4,358.8 1048.3,346.9 1052.9,343.1" fill="none" stroke="#a8969b" stroke-width="0.79" opacity="0.76" stroke-linecap="round"/><path d="M1006.8,391.9 C1010.9,388.6 1023.3,379.4 1031.8,372.4 C1040.3,365.5 1053.4,353.9 1057.7,350.2" fill="none" stroke="#a8969b" stroke-width="0.87" opacity="0.69" stroke-linecap="round"/><path d="M1015.8,400.3 C1019.9,397.1 1032.1,387.9 1040.2,381.2 C1048.3,374.5 1060.5,363.6 1064.6,360.1" fill="none" stroke="#a8969b" stroke-width="1.05" opacity="0.86" stroke-linecap="round"/><path d="M1023.4,407.4 C1027.4,404.3 1039.7,395.3 1047.6,389.0 C1055.6,382.7 1067.1,372.7 1071.0,369.5" fill="none" stroke="#a8969b" stroke-width="0.91" opacity="0.73" stroke-linecap="round"/><path d="M1031.5,414.9 C1035.2,411.6 1046.4,401.9 1053.5,395.2 C1060.7,388.5 1071.1,378.1 1074.6,374.7" fill="none" stroke="#a8969b" stroke-width="1.04" opacity="0.86" stroke-linecap="round"/><path d="M994.0,380.0 C998.3,376.7 1011.0,367.3 1020.0,360.0 C1029.0,352.7 1043.3,340.0 1048.0,336.0" fill="none" stroke="#8f8489" stroke-width="1.0"/><path d="M1037.0,420.0 C1040.8,417.0 1052.7,408.0 1060.0,402.0 C1067.3,396.0 1077.5,387.0 1081.0,384.0" fill="none" stroke="#8f8489" stroke-width="1.0"/></g>
<defs><linearGradient id="ligm21g" gradientUnits="userSpaceOnUse" x1="976.0" y1="416.0" x2="1015.0" y2="453.0"><stop offset="0" stop-color="#fff" stop-opacity="1"/><stop offset="0.000" stop-color="#fff" stop-opacity="1"/><stop offset="1.000" stop-color="#fff" stop-opacity="1"/><stop offset="1" stop-color="#fff" stop-opacity="1"/></linearGradient><mask id="ligm21" maskUnits="userSpaceOnUse" x="0" y="0" width="1408" height="768"><rect x="0" y="0" width="1408" height="768" fill="url(#ligm21g)"/></mask></defs><g opacity="1" mask="url(#ligm21)"><path d="M986.0,404.0 C989.2,407.3 998.3,417.3 1005.0,424.0 C1011.7,430.7 1022.5,440.7 1026.0,444.0 L1004.0,462.0 C1000.8,459.7 991.3,453.7 985.0,448.0 C978.7,442.3 969.2,431.3 966.0,428.0Z" fill="#f3dfe2"/><path d="M982.7,407.9 C985.8,411.4 994.7,422.0 1001.1,428.7 C1007.5,435.4 1017.7,444.8 1021.0,448.1" fill="none" stroke="#a8969b" stroke-width="1.11" opacity="0.85" stroke-linecap="round"/><path d="M977.6,414.0 C980.8,417.4 990.1,427.9 996.6,434.1 C1003.1,440.4 1013.3,448.7 1016.7,451.6" fill="none" stroke="#a8969b" stroke-width="0.81" opacity="0.81" stroke-linecap="round"/><path d="M974.0,418.4 C977.1,421.8 986.4,432.6 992.7,438.7 C999.1,444.9 1009.0,452.5 1012.2,455.3" fill="none" stroke="#a8969b" stroke-width="1.07" opacity="0.93" stroke-linecap="round"/><path d="M969.9,423.4 C973.0,426.7 982.3,437.7 988.6,443.7 C994.9,449.6 1004.5,456.4 1007.7,459.0" fill="none" stroke="#a8969b" stroke-width="1.02" opacity="0.88" stroke-linecap="round"/><path d="M986.0,404.0 C989.2,407.3 998.3,417.3 1005.0,424.0 C1011.7,430.7 1022.5,440.7 1026.0,444.0" fill="none" stroke="#8f8489" stroke-width="1.0"/><path d="M966.0,428.0 C969.2,431.3 978.7,442.3 985.0,448.0 C991.3,453.7 1000.8,459.7 1004.0,462.0" fill="none" stroke="#8f8489" stroke-width="1.0"/></g>
<defs><linearGradient id="ligm22g" gradientUnits="userSpaceOnUse" x1="1040.5" y1="437.0" x2="1068.0" y2="477.0"><stop offset="0" stop-color="#fff" stop-opacity="1"/><stop offset="0.000" stop-color="#fff" stop-opacity="1"/><stop offset="1.000" stop-color="#fff" stop-opacity="1"/><stop offset="1" stop-color="#fff" stop-opacity="1"/></linearGradient><mask id="ligm22" maskUnits="userSpaceOnUse" x="0" y="0" width="1408" height="768"><rect x="0" y="0" width="1408" height="768" fill="url(#ligm22g)"/></mask></defs><g opacity="1" mask="url(#ligm22)"><path d="M1026.0,453.0 C1028.3,455.5 1036.0,463.2 1040.0,468.0 C1044.0,472.8 1048.3,479.7 1050.0,482.0 L1086.0,472.0 C1083.7,468.3 1077.2,458.5 1072.0,450.0 C1066.8,441.5 1057.8,425.8 1055.0,421.0Z" fill="#f3dfe2"/><path d="M1031.2,447.3 C1033.6,450.2 1041.3,459.4 1045.5,464.9 C1049.6,470.4 1054.1,477.8 1055.8,480.4" fill="none" stroke="#a8969b" stroke-width="0.80" opacity="0.74" stroke-linecap="round"/><path d="M1036.7,441.2 C1039.4,444.5 1047.9,454.8 1052.7,460.8 C1057.5,466.9 1063.3,474.9 1065.4,477.7" fill="none" stroke="#a8969b" stroke-width="0.97" opacity="0.85" stroke-linecap="round"/><path d="M1043.7,433.5 C1046.3,437.4 1054.9,449.9 1059.6,457.0 C1064.3,464.0 1070.0,472.7 1072.1,475.9" fill="none" stroke="#a8969b" stroke-width="0.95" opacity="0.60" stroke-linecap="round"/><path d="M1049.9,426.6 C1052.6,431.1 1061.4,445.3 1066.3,453.2 C1071.2,461.1 1077.3,470.4 1079.5,473.8" fill="none" stroke="#a8969b" stroke-width="0.95" opacity="0.81" stroke-linecap="round"/><path d="M1026.0,453.0 C1028.3,455.5 1036.0,463.2 1040.0,468.0 C1044.0,472.8 1048.3,479.7 1050.0,482.0" fill="none" stroke="#8f8489" stroke-width="1.0"/><path d="M1055.0,421.0 C1057.8,425.8 1066.8,441.5 1072.0,450.0 C1077.2,458.5 1083.7,468.3 1086.0,472.0" fill="none" stroke="#8f8489" stroke-width="1.0"/></g>
<path d="M995.0,376.9 L994.2,385.1 L1002.4,383.9 L1001.5,392.1 L1009.7,390.9 L1008.9,399.1 L1017.0,397.9 L1016.2,406.1 L1024.4,404.9 L1023.5,413.1 L1031.7,411.9 L1030.9,420.1 L1039.0,418.9" fill="none" stroke="#d0161e" stroke-width="2.2" stroke-linejoin="miter"/>
<path d="M984.9,403.0 L993.0,402.3 L991.6,410.3 L999.7,409.6 L998.2,417.7 L1006.4,417.0 L1004.9,425.0 L1013.0,424.3 L1011.6,432.3 L1019.7,431.6 L1018.2,439.7 L1026.4,439.0 L1024.9,447.0" fill="none" stroke="#d0161e" stroke-width="2.2" stroke-linejoin="miter"/>
<path d="M1024.9,451.0 L1033.4,451.4 L1032.4,443.0 L1040.9,443.4 L1039.9,435.0 L1048.4,435.4 L1047.4,427.0 L1055.9,427.4 L1054.9,419.0" fill="none" stroke="#d0161e" stroke-width="2.2" stroke-linejoin="miter"/>
<line x1="1000" y1="372" x2="994.5" y2="346.0" stroke="#d8141c" stroke-width="3"/><path d="M993,339 L990.0,348.8 L999.7,346.8Z" fill="#d8141c"/>
<line x1="1033" y1="391" x2="1048.9" y2="375.1" stroke="#d8141c" stroke-width="3"/><path d="M1054,370 L1044.1,372.9 L1051.1,379.9Z" fill="#d8141c"/>
<line x1="1064" y1="428" x2="1081.4" y2="420.8" stroke="#d8141c" stroke-width="3"/><path d="M1088,418 L1077.8,416.9 L1081.6,426.0Z" fill="#d8141c"/>
<line x1="1026" y1="466" x2="1018.2" y2="481.6" stroke="#d8141c" stroke-width="3"/><path d="M1015,488 L1023.5,482.2 L1014.6,477.7Z" fill="#d8141c"/>
<circle cx="904" cy="421" r="2.1" fill="#d8141c"/>
<circle cx="922" cy="416" r="2.1" fill="#d8141c"/>
<circle cx="933" cy="409" r="2.1" fill="#d8141c"/>
<circle cx="917" cy="426" r="2.1" fill="#d8141c"/>
<circle cx="928" cy="426" r="2.1" fill="#d8141c"/>
<circle cx="937" cy="428" r="2.1" fill="#d8141c"/>
<circle cx="912" cy="436" r="2.1" fill="#d8141c"/>
<circle cx="924" cy="438" r="2.1" fill="#d8141c"/>
<circle cx="899" cy="434" r="2.1" fill="#d8141c"/>
<circle cx="910" cy="412" r="2.1" fill="#d8141c"/>
<circle cx="940" cy="416" r="2.1" fill="#d8141c"/>
<circle cx="1056" cy="447" r="2.0" fill="#c8141c"/>
<circle cx="1067" cy="451" r="2.0" fill="#c8141c"/>
<circle cx="1049" cy="462" r="2.0" fill="#c8141c"/>
<circle cx="1062" cy="463" r="2.0" fill="#c8141c"/>
<circle cx="1053" cy="472" r="2.0" fill="#c8141c"/>
<circle cx="1065" cy="474" r="2.0" fill="#c8141c"/>
<circle cx="972.0" cy="418.0" r="0.9" fill="#d04040"/>
<circle cx="973.6" cy="421.2" r="0.9" fill="#d04040"/>
<circle cx="975.2" cy="424.4" r="0.9" fill="#d04040"/>
<circle cx="976.8" cy="427.6" r="0.9" fill="#d04040"/>
<circle cx="978.4" cy="430.8" r="0.9" fill="#d04040"/>
<circle cx="980.0" cy="434.0" r="0.9" fill="#d04040"/>
<circle cx="981.6" cy="437.2" r="0.9" fill="#d04040"/>
<circle cx="983.2" cy="440.4" r="0.9" fill="#d04040"/>
<circle cx="984.8" cy="443.6" r="0.9" fill="#d04040"/>
<circle cx="986.4" cy="446.8" r="0.9" fill="#d04040"/>
<circle cx="988.0" cy="450.0" r="0.9" fill="#d04040"/>
<circle cx="989.6" cy="453.2" r="0.9" fill="#d04040"/>
<circle cx="862" cy="404" r="3.5" fill="#d8141c"/><circle cx="867" cy="412" r="2.5" fill="#d8141c"/><circle cx="861" cy="432" r="4" fill="#d8141c"/>
<path d="M866,433 L880,431" stroke="#d8141c" stroke-width="1.5"/><path d="M872,416 L885,417" stroke="#d8141c" stroke-width="1.5"/>
</g>
<rect x="820" y="257" width="352" height="300" rx="12" fill="none" stroke="#111" stroke-width="2.5"/>
<text x="908" y="316.4" font-size="19" textLength="54.7" lengthAdjust="spacingAndGlyphs" fill="#111" stroke="#111" stroke-width="0.25">Radius</text>
<text x="1071" y="335" font-size="19" textLength="53" lengthAdjust="spacingAndGlyphs" fill="#111" stroke="#111" stroke-width="0.25">Lunate</text>
<text x="905" y="467.7" font-size="19" textLength="72" lengthAdjust="spacingAndGlyphs" fill="#111" stroke="#111" stroke-width="0.25">Scaphoid</text>
<text x="1049" y="520.8" font-size="19" textLength="65.4" lengthAdjust="spacingAndGlyphs" fill="#111" stroke="#111" stroke-width="0.25">Capitate</text>
<g transform="translate(1291.75,144.8)">
<defs><clipPath id="kclip1"><rect x="-60" y="0" width="120" height="128"/></clipPath></defs>
<g clip-path="url(#kclip1)">
<path d="M-28.4,-2.0 C-28.5,2.6 -27.5,14.0 -29.4,25.6 C-31.2,37.2 -39.0,54.6 -39.6,67.8 C-40.3,81.1 -34.6,94.6 -33.2,105.0 C-31.9,115.3 -31.6,125.8 -31.2,130.0 L25.2,130.0 C25.6,125.8 24.1,115.3 27.2,105.0 C30.4,94.6 43.6,80.6 44.0,67.8 C44.3,55.0 32.1,39.8 29.4,28.2 C26.6,16.5 27.7,3.0 27.4,-2.0Z" fill="#f6d6ca"/>
<path d="M-17.5,-2.0 C-18.0,3.0 -18.0,16.7 -20.5,28.2 C-23.0,39.6 -32.0,54.2 -32.2,66.6 C-32.5,78.9 -24.5,91.8 -21.8,102.4 C-19.0,113.0 -16.8,125.4 -15.8,130.0 L16.6,130.0 C17.6,125.4 19.5,113.4 22.6,102.4 C25.8,91.4 35.4,76.4 35.2,64.0 C35.1,51.6 24.5,39.2 21.5,28.2 C18.5,17.2 18.2,3.0 17.5,-2.0Z" fill="#efc6c2"/>
<defs><clipPath id="kclip1L"><path d="M-17.5,-2.0 C-18.0,3.0 -18.0,16.7 -20.5,28.2 C-23.0,39.6 -32.0,54.2 -32.2,66.6 C-32.5,78.9 -24.5,91.8 -21.8,102.4 C-19.0,113.0 -16.8,125.4 -15.8,130.0 L16.6,130.0 C17.6,125.4 19.5,113.4 22.6,102.4 C25.8,91.4 35.4,76.4 35.2,64.0 C35.1,51.6 24.5,39.2 21.5,28.2 C18.5,17.2 18.2,3.0 17.5,-2.0Z"/></clipPath></defs><g clip-path="url(#kclip1L)">
<path d="M-17.5,-2.0 C-23.5,1.5 -17.2,12.5 -18.5,19.2 C-19.8,25.9 -24.0,33.5 -25.2,38.4 C-26.5,43.3 -27.4,46.3 -26.2,48.6 C-25.1,51.0 -23.5,52.5 -18.2,52.5 C-13.0,52.5 -1.4,48.6 5.0,48.6 C11.4,48.6 15.5,52.7 20.0,52.5 C24.5,52.3 30.4,50.3 32.2,47.4 C34.1,44.4 33.2,39.3 31.2,34.6 C29.3,29.9 22.8,25.3 20.5,19.2 C18.2,13.1 23.8,1.5 17.5,-2.0 C11.2,-5.5 -11.5,-5.5 -17.5,-2.0Z" fill="#dfcba3"/>
<path d="M-10.5,-2.0 C-14.3,2.6 -10.9,18.4 -12.5,25.6 C-14.1,32.8 -23.2,38.6 -20.2,41.0 C-17.3,43.3 -2.8,39.7 5.0,39.7 C12.8,39.7 25.0,43.7 26.2,41.0 C27.5,38.2 15.1,30.2 12.5,23.0 C9.9,15.9 14.3,2.2 10.5,-2.0 C6.7,-6.2 -6.7,-6.6 -10.5,-2.0Z" fill="#eee3c6" filter="url(#blur1)"/>
<path d="M-27.2,80.6 C-22.9,79.1 -10.1,83.2 0.0,83.2 C10.1,83.2 28.0,79.1 33.2,80.6 C38.5,82.1 33.5,87.9 31.2,92.2 C29.0,96.4 22.1,99.9 19.6,106.2 C17.2,112.5 22.5,126.0 16.6,130.0 C10.8,134.0 -9.9,134.0 -15.8,130.0 C-21.6,126.0 -17.0,112.5 -18.8,106.2 C-20.5,99.9 -24.8,96.4 -26.2,92.2 C-27.7,87.9 -31.6,82.1 -27.2,80.6Z" fill="#dfcba3"/>
<path d="M-20.2,88.3 C-13.8,85.3 21.8,85.3 27.2,88.3 C32.7,91.3 15.6,99.3 12.6,106.2 C9.7,113.2 13.2,126.0 9.6,130.0 C6.1,134.0 -5.2,134.0 -8.8,130.0 C-12.3,126.0 -9.8,113.2 -11.8,106.2 C-13.7,99.3 -26.8,91.3 -20.2,88.3Z" fill="#eee3c6" filter="url(#blur1)"/>
<path d="M-18.5,19.2 C-19.6,22.4 -24.0,33.5 -25.2,38.4 C-26.5,43.3 -27.4,46.3 -26.2,48.6 C-25.1,51.0 -23.5,52.5 -18.2,52.5 C-13.0,52.5 -1.4,48.6 5.0,48.6 C11.4,48.6 15.5,52.7 20.0,52.5 C24.5,52.3 30.4,50.3 32.2,47.4 C34.1,44.4 33.2,39.3 31.2,34.6 C29.3,29.9 22.3,21.8 20.5,19.2" fill="none" stroke="#6b5536" stroke-width="0.8"/>
<path d="M-26.2,92.2 C-26.4,90.2 -31.6,82.1 -27.2,80.6 C-22.9,79.1 -10.1,83.2 0.0,83.2 C10.1,83.2 28.0,79.1 33.2,80.6 C38.5,82.1 33.5,87.9 31.2,92.2 C29.0,96.4 21.6,103.9 19.6,106.2" fill="none" stroke="#6b5536" stroke-width="0.8"/>
<path d="M-22.2,52.5 C-20.2,49.1 -12.7,48.9 -8.0,49.3 C-3.3,49.7 -0.9,55.0 6.0,55.0 C12.9,55.0 28.5,47.1 33.2,49.3 C38.0,51.4 35.6,64.1 34.2,67.8 C32.9,71.6 28.7,71.8 25.0,71.7 C21.3,71.6 16.5,67.2 12.0,67.2 C7.5,67.2 3.4,71.3 -2.0,71.7 C-7.4,72.1 -16.9,73.0 -20.2,69.8 C-23.6,66.6 -24.3,55.9 -22.2,52.5Z" fill="#cfdeea" stroke="#7f8c9c" stroke-width="0.7"/>
<path d="M-26.2,73.0 C-21.0,71.7 -5.1,72.3 5.0,72.3 C15.1,72.3 29.4,71.8 34.2,73.0 C39.1,74.1 39.1,78.5 34.2,79.4 C29.4,80.2 15.1,78.0 5.0,78.1 C-5.1,78.2 -21.0,80.9 -26.2,80.0 C-31.5,79.1 -31.5,74.2 -26.2,73.0Z" fill="#cfdeea" stroke="#7f8c9c" stroke-width="0.7"/>
<path d="M-28.25,46.1 L-20.25,44.8 L-6.25,84.5 L-14.25,86.4 Z" fill="#eceef1" stroke="#8a9099" stroke-width="0.5"/>
<line x1="-25.6" y1="46.1" x2="-11.6" y2="85.8" stroke="#a0a5ad" stroke-width="0.4"/>
<line x1="-22.9" y1="46.1" x2="-8.9" y2="85.8" stroke="#a0a5ad" stroke-width="0.4"/>
</g>
<path d="M-28.4,-2.0 C-28.5,2.6 -27.5,14.0 -29.4,25.6 C-31.2,37.2 -39.0,54.6 -39.6,67.8 C-40.3,81.1 -34.6,94.6 -33.2,105.0 C-31.9,115.3 -31.6,125.8 -31.2,130.0" fill="none" stroke="#a86a55" stroke-width="0.9"/>
<path d="M25.2,130.0 C25.6,125.8 24.1,115.3 27.2,105.0 C30.4,94.6 43.6,80.6 44.0,67.8 C44.3,55.0 32.1,39.8 29.4,28.2 C26.6,16.5 27.7,3.0 27.4,-2.0" fill="none" stroke="#a86a55" stroke-width="0.9"/>
<path d="M-17.5,-2.0 C-18.0,3.0 -18.0,16.7 -20.5,28.2 C-23.0,39.6 -32.0,54.2 -32.2,66.6 C-32.5,78.9 -24.5,91.8 -21.8,102.4 C-19.0,113.0 -16.8,125.4 -15.8,130.0" fill="none" stroke="#6b5040" stroke-width="0.8"/>
<path d="M16.6,130.0 C17.6,125.4 19.5,113.4 22.6,102.4 C25.8,91.4 35.4,76.4 35.2,64.0 C35.1,51.6 24.5,39.2 21.5,28.2 C18.5,17.2 18.2,3.0 17.5,-2.0" fill="none" stroke="#6b5040" stroke-width="0.8"/>
</g></g>
<g transform="translate(1290.3,332.7)">
<defs><clipPath id="kclip2"><rect x="-60" y="0" width="120" height="131.8"/></clipPath></defs>
<g clip-path="url(#kclip2)">
<path d="M-39.6,-2.0 C-39.8,2.7 -41.2,14.4 -40.6,26.4 C-40.0,38.3 -37.2,56.2 -35.7,69.9 C-34.2,83.5 -32.8,97.4 -31.8,108.1 C-30.8,118.7 -30.1,129.5 -29.8,133.8 L30.7,133.8 C31.0,129.5 30.6,118.7 32.7,108.1 C34.8,97.4 43.8,83.0 43.5,69.9 C43.1,56.7 33.2,41.0 30.7,29.0 C28.2,17.0 29.0,3.2 28.7,-2.0Z" fill="#f6d6ca"/>
<path d="M-18.0,-2.0 C-18.5,3.2 -19.2,17.2 -21.0,29.0 C-22.8,40.8 -28.8,55.8 -28.8,68.5 C-28.9,81.3 -23.6,94.6 -21.3,105.4 C-19.1,116.3 -16.3,129.1 -15.3,133.8 L17.1,133.8 C18.1,129.1 20.3,116.8 23.1,105.4 C25.9,94.1 33.9,78.6 33.7,65.9 C33.5,53.2 24.6,40.3 22.0,29.0 C19.4,17.7 18.7,3.2 18.0,-2.0Z" fill="#e9b2b6"/>
<defs><clipPath id="kclip2L"><path d="M-18.0,-2.0 C-18.5,3.2 -19.2,17.2 -21.0,29.0 C-22.8,40.8 -28.8,55.8 -28.8,68.5 C-28.9,81.3 -23.6,94.6 -21.3,105.4 C-19.1,116.3 -16.3,129.1 -15.3,133.8 L17.1,133.8 C18.1,129.1 20.3,116.8 23.1,105.4 C25.9,94.1 33.9,78.6 33.7,65.9 C33.5,53.2 24.6,40.3 22.0,29.0 C19.4,17.7 18.7,3.2 18.0,-2.0Z"/></clipPath></defs><g clip-path="url(#kclip2L)">
<path d="M-18.0,-2.0 C-24.2,1.6 -18.4,12.8 -19.0,19.8 C-19.6,26.7 -21.2,34.5 -21.8,39.5 C-22.4,44.6 -24.0,47.7 -22.8,50.1 C-21.6,52.5 -19.4,54.0 -14.8,54.0 C-10.2,54.0 -0.8,50.1 5.0,50.1 C10.8,50.1 15.7,54.3 20.0,54.0 C24.3,53.8 29.1,51.8 30.7,48.8 C32.3,45.7 31.3,40.4 29.7,35.6 C28.1,30.8 22.9,26.0 21.0,19.8 C19.1,13.5 24.5,1.6 18.0,-2.0 C11.5,-5.6 -11.8,-5.6 -18.0,-2.0Z" fill="#dfcba3"/>
<path d="M-11.0,-2.0 C-15.0,2.7 -12.0,19.0 -13.0,26.4 C-14.0,33.7 -19.8,39.8 -16.8,42.2 C-13.8,44.6 -1.9,40.9 5.0,40.9 C11.9,40.9 23.4,45.0 24.7,42.2 C26.0,39.3 15.3,31.1 13.0,23.7 C10.7,16.4 15.0,2.3 11.0,-2.0 C7.0,-6.3 -7.0,-6.7 -11.0,-2.0Z" fill="#eee3c6" filter="url(#blur1)"/>
<path d="M-23.8,83.0 C-20.0,81.5 -9.2,85.7 0.0,85.7 C9.2,85.7 26.8,81.5 31.7,83.0 C36.7,84.6 31.6,90.5 29.7,94.9 C27.8,99.3 22.2,102.9 20.1,109.4 C18.0,115.9 23.0,129.7 17.1,133.8 C11.2,137.9 -9.4,137.9 -15.3,133.8 C-21.2,129.7 -17.1,115.9 -18.3,109.4 C-19.6,102.9 -21.9,99.3 -22.8,94.9 C-23.7,90.5 -27.6,84.6 -23.8,83.0Z" fill="#dfcba3"/>
<path d="M-16.8,90.9 C-10.6,87.9 20.7,87.9 25.7,90.9 C30.7,94.0 15.7,102.3 13.1,109.4 C10.5,116.5 13.7,129.7 10.1,133.8 C6.5,137.9 -4.7,137.9 -8.3,133.8 C-11.9,129.7 -9.9,116.5 -11.3,109.4 C-12.7,102.3 -23.0,94.0 -16.8,90.9Z" fill="#eee3c6" filter="url(#blur1)"/>
<path d="M-19.0,19.8 C-19.5,23.1 -21.2,34.5 -21.8,39.5 C-22.4,44.6 -24.0,47.7 -22.8,50.1 C-21.6,52.5 -19.4,54.0 -14.8,54.0 C-10.2,54.0 -0.8,50.1 5.0,50.1 C10.8,50.1 15.7,54.3 20.0,54.0 C24.3,53.8 29.1,51.8 30.7,48.8 C32.3,45.7 31.3,40.4 29.7,35.6 C28.1,30.8 22.4,22.4 21.0,19.8" fill="none" stroke="#6b5536" stroke-width="0.8"/>
<path d="M-22.8,94.9 C-23.0,92.9 -27.6,84.6 -23.8,83.0 C-20.0,81.5 -9.2,85.7 0.0,85.7 C9.2,85.7 26.8,81.5 31.7,83.0 C36.7,84.6 31.6,90.5 29.7,94.9 C27.8,99.3 21.7,107.0 20.1,109.4" fill="none" stroke="#6b5536" stroke-width="0.8"/>
<path d="M-18.8,54.0 C-17.3,50.5 -12.1,50.3 -8.0,50.7 C-3.9,51.2 -0.6,56.7 6.0,56.7 C12.6,56.7 27.3,48.5 31.7,50.7 C36.2,52.9 33.8,66.0 32.7,69.9 C31.6,73.7 28.4,73.9 25.0,73.8 C21.6,73.7 16.5,69.2 12.0,69.2 C7.5,69.2 2.8,73.4 -2.0,73.8 C-6.8,74.2 -14.0,75.1 -16.8,71.8 C-19.6,68.5 -20.3,57.6 -18.8,54.0Z" fill="#cfdeea" stroke="#7f8c9c" stroke-width="0.7"/>
<path d="M-22.8,75.1 C-18.2,73.8 -4.2,74.5 5.0,74.5 C14.2,74.5 28.1,73.9 32.7,75.1 C37.3,76.3 37.3,80.8 32.7,81.7 C28.1,82.6 14.2,80.3 5.0,80.4 C-4.2,80.5 -18.2,83.3 -22.8,82.4 C-27.4,81.5 -27.4,76.4 -22.8,75.1Z" fill="#cfdeea" stroke="#7f8c9c" stroke-width="0.7"/>
<path d="M-24.8,47.4 L-15.8,46.1 L-2.8000000000000007,87.0 L-10.8,89.0 Z" fill="#eceef1" stroke="#8a9099" stroke-width="0.5"/>
<path d="M-15.8,46.1 L-6.800000000000001,48.8 L7.199999999999999,72.5 L-0.8000000000000007,74.5 Z" fill="#eceef1" stroke="#8a9099" stroke-width="0.5"/>
</g>
<path d="M-39.6,-2.0 C-39.8,2.7 -41.2,14.4 -40.6,26.4 C-40.0,38.3 -37.2,56.2 -35.7,69.9 C-34.2,83.5 -32.8,97.4 -31.8,108.1 C-30.8,118.7 -30.1,129.5 -29.8,133.8" fill="none" stroke="#a86a55" stroke-width="0.9"/>
<path d="M30.7,133.8 C31.0,129.5 30.6,118.7 32.7,108.1 C34.8,97.4 43.8,83.0 43.5,69.9 C43.1,56.7 33.2,41.0 30.7,29.0 C28.2,17.0 29.0,3.2 28.7,-2.0" fill="none" stroke="#a86a55" stroke-width="0.9"/>
<path d="M-18.0,-2.0 C-18.5,3.2 -19.2,17.2 -21.0,29.0 C-22.8,40.8 -28.8,55.8 -28.8,68.5 C-28.9,81.3 -23.6,94.6 -21.3,105.4 C-19.1,116.3 -16.3,129.1 -15.3,133.8" fill="none" stroke="#6b5040" stroke-width="0.8"/>
<path d="M17.1,133.8 C18.1,129.1 20.3,116.8 23.1,105.4 C25.9,94.1 33.9,78.6 33.7,65.9 C33.5,53.2 24.6,40.3 22.0,29.0 C19.4,17.7 18.7,3.2 18.0,-2.0" fill="none" stroke="#6b5040" stroke-width="0.8"/>
</g></g>
<g transform="translate(1289.2,526.25)">
<defs><clipPath id="kclip3"><rect x="-60" y="0" width="120" height="146"/></clipPath></defs>
<g clip-path="url(#kclip3)">
<path d="M-37.5,-2.0 C-37.7,3.2 -38.0,16.0 -38.5,29.2 C-39.0,42.4 -42.2,62.3 -40.7,77.4 C-39.2,92.5 -31.4,108.0 -29.2,119.7 C-26.9,131.5 -27.5,143.3 -27.2,148.0 L29.1,148.0 C29.4,143.3 27.8,131.5 31.1,119.7 C34.4,108.0 48.8,92.0 48.8,77.4 C48.8,62.8 34.4,45.4 31.1,32.1 C27.8,18.9 29.4,3.7 29.1,-2.0Z" fill="#f6d6ca"/>
<path d="M-19.8,-2.0 C-20.3,3.7 -20.5,19.1 -22.8,32.1 C-25.1,45.1 -34.1,61.8 -33.4,75.9 C-32.7,90.0 -22.0,104.8 -18.5,116.8 C-15.0,128.8 -13.5,142.8 -12.5,148.0 L22.8,148.0 C23.8,142.8 25.7,129.3 28.8,116.8 C31.9,104.3 42.4,87.1 41.6,73.0 C40.8,58.9 27.4,44.6 23.8,32.1 C20.2,19.6 20.5,3.7 19.8,-2.0Z" fill="#eaa9ae"/>
<defs><clipPath id="kclip3L"><path d="M-19.8,-2.0 C-20.3,3.7 -20.5,19.1 -22.8,32.1 C-25.1,45.1 -34.1,61.8 -33.4,75.9 C-32.7,90.0 -22.0,104.8 -18.5,116.8 C-15.0,128.8 -13.5,142.8 -12.5,148.0 L22.8,148.0 C23.8,142.8 25.7,129.3 28.8,116.8 C31.9,104.3 42.4,87.1 41.6,73.0 C40.8,58.9 27.4,44.6 23.8,32.1 C20.2,19.6 20.5,3.7 19.8,-2.0Z"/></clipPath></defs><g clip-path="url(#kclip3L)">
<path d="M-19.8,-2.0 C-26.6,2.0 -19.7,14.3 -20.8,21.9 C-21.9,29.5 -25.3,38.2 -26.4,43.8 C-27.5,49.4 -28.6,52.8 -27.4,55.5 C-26.2,58.2 -24.8,59.9 -19.4,59.9 C-14.0,59.9 -1.6,55.5 5.0,55.5 C11.6,55.5 14.4,60.1 20.0,59.9 C25.6,59.6 35.7,57.4 38.6,54.0 C41.5,50.6 40.2,44.8 37.6,39.4 C35.0,34.1 25.8,28.8 22.8,21.9 C19.8,15.0 26.9,2.0 19.8,-2.0 C12.7,-6.0 -13.0,-6.0 -19.8,-2.0Z" fill="#dfcba3"/>
<path d="M-12.8,-2.0 C-17.4,3.2 -13.4,21.1 -14.8,29.2 C-16.2,37.3 -24.7,44.0 -21.4,46.7 C-18.1,49.4 -4.0,45.3 5.0,45.3 C14.0,45.3 31.0,49.9 32.6,46.7 C34.2,43.6 18.1,34.4 14.8,26.3 C11.5,18.2 17.4,2.7 12.8,-2.0 C8.2,-6.7 -8.2,-7.2 -12.8,-2.0Z" fill="#eee3c6" filter="url(#blur1)"/>
<path d="M-28.4,92.0 C-23.8,90.3 -11.3,94.9 0.0,94.9 C11.3,94.9 33.3,90.3 39.6,92.0 C45.9,93.7 39.9,100.3 37.6,105.1 C35.3,110.0 28.3,114.0 25.8,121.2 C23.3,128.3 29.2,143.5 22.8,148.0 C16.4,152.5 -6.1,152.5 -12.5,148.0 C-18.9,143.5 -13.0,128.3 -15.5,121.2 C-18.0,114.0 -25.2,110.0 -27.4,105.1 C-29.5,100.3 -33.0,93.7 -28.4,92.0Z" fill="#dfcba3"/>
<path d="M-21.4,100.7 C-14.4,97.3 26.9,97.3 33.6,100.7 C40.3,104.1 21.8,113.3 18.8,121.2 C15.8,129.1 19.9,143.5 15.8,148.0 C11.8,152.5 -1.5,152.5 -5.5,148.0 C-9.6,143.5 -5.8,129.1 -8.5,121.2 C-11.2,113.3 -28.4,104.1 -21.4,100.7Z" fill="#eee3c6" filter="url(#blur1)"/>
<path d="M-20.8,21.9 C-21.7,25.5 -25.3,38.2 -26.4,43.8 C-27.5,49.4 -28.6,52.8 -27.4,55.5 C-26.2,58.2 -24.8,59.9 -19.4,59.9 C-14.0,59.9 -1.6,55.5 5.0,55.5 C11.6,55.5 14.4,60.1 20.0,59.9 C25.6,59.6 35.7,57.4 38.6,54.0 C41.5,50.6 40.2,44.8 37.6,39.4 C35.0,34.1 25.3,24.8 22.8,21.9" fill="none" stroke="#6b5536" stroke-width="0.8"/>
<path d="M-27.4,105.1 C-27.6,102.9 -33.0,93.7 -28.4,92.0 C-23.8,90.3 -11.3,94.9 0.0,94.9 C11.3,94.9 33.3,90.3 39.6,92.0 C45.9,93.7 39.9,100.3 37.6,105.1 C35.3,110.0 27.8,118.5 25.8,121.2" fill="none" stroke="#6b5536" stroke-width="0.8"/>
<path d="M-6.0,59.9 C-3.2,56.5 7.4,61.8 15.0,61.3 C22.6,60.8 35.3,53.5 39.6,56.9 C43.9,60.3 43.9,76.9 40.6,81.8 C37.3,86.6 27.1,86.1 20.0,86.1 C12.9,86.1 2.3,86.1 -2.0,81.8 C-6.3,77.4 -8.8,63.3 -6.0,59.9Z" fill="#d6e2ec" stroke="#8a96a6" stroke-width="0.6"/>
<path d="M-25.4,87.6 C-20.3,86.3 -5.8,86.1 5.0,86.1 C15.8,86.1 33.8,86.4 39.6,87.6 C45.4,88.8 45.4,92.7 39.6,93.4 C33.8,94.2 15.8,91.9 5.0,92.0 C-5.8,92.1 -20.3,94.9 -25.4,94.2 C-30.5,93.4 -30.5,88.9 -25.4,87.6Z" fill="#d6e2ec" stroke="#7f8c9c" stroke-width="0.6"/>
<path d="M-29.4,52.6 L-21.4,51.1 L-4.0,77.4 L-10.0,80.3 Z" fill="#eceef1" stroke="#8a9099" stroke-width="0.5"/>
<path d="M-27.4,96.4 L-21.4,98.6 L-2.0,86.1 L-6.0,84.7 Z" fill="#eceef1" stroke="#8a9099" stroke-width="0.5"/>
<path d="M-25.4,77.4 L-19.4,74.5 L-15.399999999999999,78.8 L-9.399999999999999,75.2 L-3.3999999999999986,79.6 L2.6000000000000014,75.9" fill="none" stroke="#d0161e" stroke-width="1.2"/>
<path d="M-23.4,84.7 L-17.4,81.8 L-13.399999999999999,86.1 L-7.399999999999999,82.5 L-1.3999999999999986,86.9" fill="none" stroke="#d0161e" stroke-width="1.2"/>
<path d="M10,75.9 L16,79.6 L22,75.2 L28,79.6 L39.6,75.9" fill="none" stroke="#d0161e" stroke-width="1.2"/>
</g>
<path d="M-37.5,-2.0 C-37.7,3.2 -38.0,16.0 -38.5,29.2 C-39.0,42.4 -42.2,62.3 -40.7,77.4 C-39.2,92.5 -31.4,108.0 -29.2,119.7 C-26.9,131.5 -27.5,143.3 -27.2,148.0" fill="none" stroke="#a86a55" stroke-width="0.9"/>
<path d="M29.1,148.0 C29.4,143.3 27.8,131.5 31.1,119.7 C34.4,108.0 48.8,92.0 48.8,77.4 C48.8,62.8 34.4,45.4 31.1,32.1 C27.8,18.9 29.4,3.7 29.1,-2.0" fill="none" stroke="#a86a55" stroke-width="0.9"/>
<path d="M-19.8,-2.0 C-20.3,3.7 -20.5,19.1 -22.8,32.1 C-25.1,45.1 -34.1,61.8 -33.4,75.9 C-32.7,90.0 -22.0,104.8 -18.5,116.8 C-15.0,128.8 -13.5,142.8 -12.5,148.0" fill="none" stroke="#6b5040" stroke-width="0.8"/>
<path d="M22.8,148.0 C23.8,142.8 25.7,129.3 28.8,116.8 C31.9,104.3 42.4,87.1 41.6,73.0 C40.8,58.9 27.4,44.6 23.8,32.1 C20.2,19.6 20.5,3.7 19.8,-2.0" fill="none" stroke="#6b5040" stroke-width="0.8"/>
</g></g>
<path d="M154.6,424.3 L212.4,424.3" fill="none" stroke="#111" stroke-width="1.5"/>
<circle cx="212.4" cy="424.3" r="2.6" fill="#111"/>
<path d="M115.0,551.0 L290.0,551.0" fill="none" stroke="#111" stroke-width="1.5"/>
<path d="M296.0,551.0 L289.0,548.0 L289.0,554.0Z" fill="#111"/>
<path d="M318.0,653.0 L181.0,613.0" fill="none" stroke="#111" stroke-width="1.5"/>
<path d="M176.0,612.0 L181.9,616.8 L183.6,611.1Z" fill="#111"/>
<path d="M318.0,653.0 L300.0,624.0" fill="none" stroke="#111" stroke-width="1.5"/>
<path d="M297.0,619.0 L298.1,626.5 L303.2,623.4Z" fill="#111"/>
<path d="M544.0,314.6 L530.0,314.6 L386.0,348.0" fill="none" stroke="#111" stroke-width="1.5"/>
<path d="M380.0,350.0 L387.5,351.3 L386.1,345.5Z" fill="#111"/>
<path d="M560.5,386.8 L463.3,387.0" fill="none" stroke="#111" stroke-width="1.5"/>
<circle cx="463.3" cy="387" r="2.6" fill="#111"/>
<path d="M555.8,422.4 L494.6,422.5" fill="none" stroke="#111" stroke-width="1.5"/>
<circle cx="494.6" cy="422.5" r="2.6" fill="#111"/>
<path d="M556.2,450.5 L507.3,450.0" fill="none" stroke="#111" stroke-width="1.5"/>
<circle cx="507.3" cy="450" r="2.6" fill="#111"/>
<path d="M560.8,496.5 L555.6,496.5 L439.0,451.0" fill="none" stroke="#111" stroke-width="1.5"/>
<circle cx="439" cy="451" r="2.6" fill="#111"/>
<path d="M580.6,550.8 L566.0,550.8 L463.3,482.7" fill="none" stroke="#111" stroke-width="1.5"/>
<circle cx="463.3" cy="482.7" r="2.6" fill="#111"/>
<path d="M566.0,550.8 L466.0,499.6" fill="none" stroke="#111" stroke-width="1.5"/>
<circle cx="466" cy="499.6" r="2.6" fill="#111"/>
<path d="M595.8,607.9 L573.0,607.9 L476.5,534.6" fill="none" stroke="#111" stroke-width="1.5"/>
<circle cx="476.5" cy="534.6" r="2.6" fill="#111"/>
<path d="M750.4,387.7 L996.0,399.7" fill="none" stroke="#111" stroke-width="1.5"/>
<path d="M1001.7,400.0 L994.9,396.7 L994.6,402.7Z" fill="#111"/>
<path d="M753.0,422.9 L892.0,422.0" fill="none" stroke="#111" stroke-width="1.5"/>
<path d="M897.6,422.0 L890.6,419.0 L890.6,425.0Z" fill="#111"/>
<path d="M749.0,497.6 L760.0,497.6 L892.0,440.0" fill="none" stroke="#111" stroke-width="1.5"/>
<path d="M897.6,437.7 L890.0,437.7 L892.4,443.2Z" fill="#111"/>
<path d="M729.6,550.8 L745.0,550.8 L843.0,504.0" fill="none" stroke="#111" stroke-width="1.5"/>
<path d="M848.0,501.5 L840.4,501.8 L843.0,507.2Z" fill="#111"/>
<text x="278.7" y="274.8" font-size="19.5" textLength="53" lengthAdjust="spacingAndGlyphs" fill="#111" stroke="#111" stroke-width="0.3">Radius</text>
<text x="424" y="251" font-size="19.5" textLength="35" lengthAdjust="spacingAndGlyphs" fill="#111" stroke="#111" stroke-width="0.3">Ulna</text>
<text x="389" y="385.8" font-size="18" textLength="54" lengthAdjust="spacingAndGlyphs" fill="#111" stroke="#111" stroke-width="0.3">Lunate</text>
<text x="344.2" y="421.5" font-size="16.5" textLength="65.6" lengthAdjust="spacingAndGlyphs" fill="#111" stroke="#111" stroke-width="0.3">Scaphoid</text>
<text x="433.75" y="424" font-size="17" textLength="56.25" lengthAdjust="spacingAndGlyphs" fill="#111" stroke="#111" stroke-width="0.3">Pisiform</text>
<text x="402.5" y="478" font-size="17" textLength="57.3" lengthAdjust="spacingAndGlyphs" fill="#111" stroke="#111" stroke-width="0.3">Hamate</text>
<text x="251.5" y="486.5" font-size="17" textLength="71.8" lengthAdjust="spacingAndGlyphs" fill="#111" stroke="#111" stroke-width="0.3">Trapezoid</text>
<text x="332.7" y="496.9" font-size="17" textLength="61.5" lengthAdjust="spacingAndGlyphs" fill="#111" stroke="#111" stroke-width="0.3">Capitate</text>
<text x="323.4" y="661.2" font-size="18.5" textLength="95" lengthAdjust="spacingAndGlyphs" fill="#111" stroke="#111" stroke-width="0.3">Metacarpals</text>
<path d="M525.7,296.7 L536.6,264 L544,270 L636,189 L648,205.6 L555,284 L558.5,289.4 Z" fill="url(#forceGrad)"/>
<path d="M636,189 L544,270 L536.6,264 L525.7,296.7 L558.5,289.4 L555,284 L648,205.6" fill="none" stroke="#2f4f78" stroke-width="1.3"/>
<text x="0" y="0" font-size="14" fill="#1a1a1a" transform="translate(583,199) rotate(-38)" text-anchor="middle" textLength="46" lengthAdjust="spacingAndGlyphs">Sudden</text>
<text x="0" y="0" font-size="14" fill="#1a1a1a" transform="translate(593,211) rotate(-38)" text-anchor="middle" textLength="117" lengthAdjust="spacingAndGlyphs">Hyperextension force</text>
<text x="934.8" y="582" font-size="20" font-weight="bold" text-anchor="start" fill="#111" stroke="#111" stroke-width="0.25" textLength="127.4" lengthAdjust="spacingAndGlyphs" >INJURY DETAIL</text>
<text x="549.9" y="322.3" font-size="18.5" font-weight="bold" text-anchor="start" fill="#111" stroke="#111" stroke-width="0.25" textLength="194.5" lengthAdjust="spacingAndGlyphs" >TORN SCAPHOLUNATE</text>
<text x="602.2" y="341" font-size="18.5" font-weight="bold" text-anchor="start" fill="#111" stroke="#111" stroke-width="0.25" textLength="89.5" lengthAdjust="spacingAndGlyphs" >LIGAMENT</text>
<text x="608.5" y="359.8" font-size="18.5" font-weight="bold" text-anchor="start" fill="#111" stroke="#111" stroke-width="0.25" textLength="76.2" lengthAdjust="spacingAndGlyphs" >(Grade 2)</text>
<text x="566.3" y="393.1" font-size="18" font-weight="normal" text-anchor="start" fill="#111" stroke="#111" stroke-width="0.25" textLength="177.4" lengthAdjust="spacingAndGlyphs" >Torn Ligament (Sprain)</text>
<text x="561.2" y="427.1" font-size="18" font-weight="normal" text-anchor="start" fill="#111" stroke="#111" stroke-width="0.25" textLength="186.8" lengthAdjust="spacingAndGlyphs" >Swelling &amp; Inflammation</text>
<text x="562" y="455.7" font-size="18" font-weight="normal" text-anchor="start" fill="#111" stroke="#111" stroke-width="0.25" textLength="198.8" lengthAdjust="spacingAndGlyphs" >Ulnar Collateral Ligament</text>
<text x="565" y="502.3" font-size="18" font-weight="normal" text-anchor="start" fill="#111" stroke="#111" stroke-width="0.25" textLength="179.2" lengthAdjust="spacingAndGlyphs" >Radiocarpal Ligaments</text>
<text x="584.8" y="556.5" font-size="18" font-weight="normal" text-anchor="start" fill="#111" stroke="#111" stroke-width="0.25" textLength="139.6" lengthAdjust="spacingAndGlyphs" >Carpo-metacarpal</text>
<text x="631.7" y="575.2" font-size="18" font-weight="normal" text-anchor="start" fill="#111" stroke="#111" stroke-width="0.25" textLength="45.8" lengthAdjust="spacingAndGlyphs" >Joints</text>
<text x="602" y="614.2" font-size="18" font-weight="normal" text-anchor="start" fill="#111" stroke="#111" stroke-width="0.25" textLength="105.7" lengthAdjust="spacingAndGlyphs" >Joint Capsule</text>
<text x="88.2" y="410.7" font-size="18" font-weight="normal" text-anchor="start" fill="#111" stroke="#111" stroke-width="0.25" textLength="48.2" lengthAdjust="spacingAndGlyphs" >Radial</text>
<text x="75.7" y="430" font-size="18" font-weight="normal" text-anchor="start" fill="#111" stroke="#111" stroke-width="0.25" textLength="73.2" lengthAdjust="spacingAndGlyphs" >Collateral</text>
<text x="76.5" y="448.2" font-size="18" font-weight="normal" text-anchor="start" fill="#111" stroke="#111" stroke-width="0.25" textLength="72.4" lengthAdjust="spacingAndGlyphs" >Ligament</text>
<text x="58.2" y="545.9" font-size="18" font-weight="normal" text-anchor="start" fill="#111" stroke="#111" stroke-width="0.25" textLength="50" lengthAdjust="spacingAndGlyphs" >Carpal</text>
<text x="59.5" y="563.6" font-size="18" font-weight="normal" text-anchor="start" fill="#111" stroke="#111" stroke-width="0.25" textLength="48.7" lengthAdjust="spacingAndGlyphs" >Bones</text>
</svg>
</body></html>
